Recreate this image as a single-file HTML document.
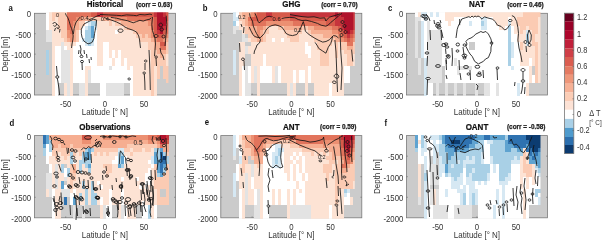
<!DOCTYPE html>
<html><head><meta charset="utf-8"><style>
html,body{margin:0;padding:0;background:#fff;width:602px;height:241px;overflow:hidden}
svg{display:block;font-family:'Liberation Sans',sans-serif;filter:blur(0.3px)}
</style></head><body>
<svg width="602" height="241" viewBox="0 0 602 241" style="font-family:'Liberation Sans',sans-serif">
<rect x="34.4" y="13.3" width="141.0" height="81.7" fill="#cbcbcb" stroke="#7a7a7a" stroke-width="0.8"/>
<line x1="34.4" x2="35.8" y1="33.73" y2="33.73" stroke="#555" stroke-width="0.5"/>
<line x1="175.4" x2="174.0" y1="33.73" y2="33.73" stroke="#555" stroke-width="0.5"/>
<line x1="34.4" x2="35.8" y1="54.15" y2="54.15" stroke="#555" stroke-width="0.5"/>
<line x1="175.4" x2="174.0" y1="54.15" y2="54.15" stroke="#555" stroke-width="0.5"/>
<line x1="34.4" x2="35.8" y1="74.58" y2="74.58" stroke="#555" stroke-width="0.5"/>
<line x1="175.4" x2="174.0" y1="74.58" y2="74.58" stroke="#555" stroke-width="0.5"/>
<line x1="65.73" x2="65.73" y1="95.0" y2="93.6" stroke="#555" stroke-width="0.5"/>
<line x1="65.73" x2="65.73" y1="13.3" y2="14.700000000000001" stroke="#555" stroke-width="0.5"/>
<line x1="104.90" x2="104.90" y1="95.0" y2="93.6" stroke="#555" stroke-width="0.5"/>
<line x1="104.90" x2="104.90" y1="13.3" y2="14.700000000000001" stroke="#555" stroke-width="0.5"/>
<line x1="144.07" x2="144.07" y1="95.0" y2="93.6" stroke="#555" stroke-width="0.5"/>
<line x1="144.07" x2="144.07" y1="13.3" y2="14.700000000000001" stroke="#555" stroke-width="0.5"/>
<clipPath id="cpa"><rect x="34.4" y="12.3" width="134.00" height="83.70"/></clipPath>
<g clip-path="url(#cpa)" shape-rendering="crispEdges">
<rect x="46.40" y="12.30" width="3.00" height="5.08" fill="#ffffff"/>
<rect x="49.40" y="12.30" width="3.00" height="5.08" fill="#fde3d4"/>
<rect x="52.40" y="12.30" width="15.00" height="5.08" fill="#fbcbb3"/>
<rect x="67.40" y="12.30" width="24.00" height="5.08" fill="#e2745c"/>
<rect x="91.40" y="12.30" width="6.00" height="5.08" fill="#d65a4a"/>
<rect x="97.40" y="12.30" width="6.00" height="5.08" fill="#c6343c"/>
<rect x="103.40" y="12.30" width="51.00" height="5.08" fill="#d65a4a"/>
<rect x="154.40" y="12.30" width="3.00" height="5.08" fill="#c6343c"/>
<rect x="157.40" y="12.30" width="6.00" height="5.08" fill="#b0132c"/>
<rect x="163.40" y="12.30" width="3.00" height="5.08" fill="#c6343c"/>
<rect x="166.40" y="12.30" width="3.00" height="5.08" fill="#d65a4a"/>
<rect x="46.40" y="17.39" width="3.00" height="4.08" fill="#ffffff"/>
<rect x="49.40" y="17.39" width="3.00" height="4.08" fill="#fde3d4"/>
<rect x="52.40" y="17.39" width="3.00" height="4.08" fill="#fbcbb3"/>
<rect x="55.40" y="17.39" width="3.00" height="4.08" fill="#fde3d4"/>
<rect x="58.40" y="17.39" width="9.00" height="4.08" fill="#fbcbb3"/>
<rect x="67.40" y="17.39" width="9.00" height="4.08" fill="#e2745c"/>
<rect x="76.40" y="17.39" width="6.00" height="4.08" fill="#ec9072"/>
<rect x="82.40" y="17.39" width="9.00" height="4.08" fill="#f6ae91"/>
<rect x="91.40" y="17.39" width="12.00" height="4.08" fill="#fbcbb3"/>
<rect x="103.40" y="17.39" width="12.00" height="4.08" fill="#f6ae91"/>
<rect x="115.40" y="17.39" width="12.00" height="4.08" fill="#ec9072"/>
<rect x="127.40" y="17.39" width="27.00" height="4.08" fill="#e2745c"/>
<rect x="154.40" y="17.39" width="3.00" height="4.08" fill="#d65a4a"/>
<rect x="157.40" y="17.39" width="9.00" height="4.08" fill="#b0132c"/>
<rect x="166.40" y="17.39" width="3.00" height="4.08" fill="#d65a4a"/>
<rect x="46.40" y="21.47" width="3.00" height="4.08" fill="#ffffff"/>
<rect x="49.40" y="21.47" width="9.00" height="4.08" fill="#fde3d4"/>
<rect x="58.40" y="21.47" width="9.00" height="4.08" fill="#fbcbb3"/>
<rect x="67.40" y="21.47" width="6.00" height="4.08" fill="#e2745c"/>
<rect x="73.40" y="21.47" width="3.00" height="4.08" fill="#ec9072"/>
<rect x="76.40" y="21.47" width="3.00" height="4.08" fill="#f6ae91"/>
<rect x="79.40" y="21.47" width="6.00" height="4.08" fill="#fbcbb3"/>
<rect x="85.40" y="21.47" width="3.00" height="4.08" fill="#ffffff"/>
<rect x="88.40" y="21.47" width="3.00" height="4.08" fill="#d6e8f3"/>
<rect x="91.40" y="21.47" width="6.00" height="4.08" fill="#a9d0e6"/>
<rect x="97.40" y="21.47" width="12.00" height="4.08" fill="#fde3d4"/>
<rect x="109.40" y="21.47" width="3.00" height="4.08" fill="#fbcbb3"/>
<rect x="112.40" y="21.47" width="3.00" height="4.08" fill="#fde3d4"/>
<rect x="115.40" y="21.47" width="6.00" height="4.08" fill="#fbcbb3"/>
<rect x="121.40" y="21.47" width="27.00" height="4.08" fill="#f6ae91"/>
<rect x="148.40" y="21.47" width="3.00" height="4.08" fill="#ec9072"/>
<rect x="151.40" y="21.47" width="3.00" height="4.08" fill="#e2745c"/>
<rect x="154.40" y="21.47" width="3.00" height="4.08" fill="#d65a4a"/>
<rect x="157.40" y="21.47" width="9.00" height="4.08" fill="#b0132c"/>
<rect x="166.40" y="21.47" width="3.00" height="4.08" fill="#e2745c"/>
<rect x="46.40" y="25.55" width="3.00" height="4.08" fill="#ffffff"/>
<rect x="49.40" y="25.55" width="9.00" height="4.08" fill="#fde3d4"/>
<rect x="58.40" y="25.55" width="9.00" height="4.08" fill="#fbcbb3"/>
<rect x="67.40" y="25.55" width="6.00" height="4.08" fill="#e2745c"/>
<rect x="73.40" y="25.55" width="6.00" height="4.08" fill="#f6ae91"/>
<rect x="79.40" y="25.55" width="3.00" height="4.08" fill="#fbcbb3"/>
<rect x="82.40" y="25.55" width="3.00" height="4.08" fill="#ffffff"/>
<rect x="85.40" y="25.55" width="3.00" height="4.08" fill="#d6e8f3"/>
<rect x="88.40" y="25.55" width="3.00" height="4.08" fill="#a9d0e6"/>
<rect x="91.40" y="25.55" width="3.00" height="4.08" fill="#5fa3d0"/>
<rect x="94.40" y="25.55" width="3.00" height="4.08" fill="#d6e8f3"/>
<rect x="97.40" y="25.55" width="27.00" height="4.08" fill="#fde3d4"/>
<rect x="124.40" y="25.55" width="3.00" height="4.08" fill="#fbcbb3"/>
<rect x="127.40" y="25.55" width="24.00" height="4.08" fill="#f6ae91"/>
<rect x="151.40" y="25.55" width="3.00" height="4.08" fill="#e2745c"/>
<rect x="154.40" y="25.55" width="3.00" height="4.08" fill="#d65a4a"/>
<rect x="157.40" y="25.55" width="6.00" height="4.08" fill="#b0132c"/>
<rect x="163.40" y="25.55" width="3.00" height="4.08" fill="#c6343c"/>
<rect x="166.40" y="25.55" width="3.00" height="4.08" fill="#e2745c"/>
<rect x="46.40" y="29.64" width="6.00" height="4.08" fill="#e3e3e3"/>
<rect x="52.40" y="29.64" width="9.00" height="4.08" fill="#fde3d4"/>
<rect x="61.40" y="29.64" width="6.00" height="4.08" fill="#fbcbb3"/>
<rect x="67.40" y="29.64" width="3.00" height="4.08" fill="#ec9072"/>
<rect x="70.40" y="29.64" width="3.00" height="4.08" fill="#e2745c"/>
<rect x="73.40" y="29.64" width="3.00" height="4.08" fill="#f6ae91"/>
<rect x="76.40" y="29.64" width="3.00" height="4.08" fill="#fbcbb3"/>
<rect x="79.40" y="29.64" width="6.00" height="4.08" fill="#ffffff"/>
<rect x="85.40" y="29.64" width="6.00" height="4.08" fill="#a9d0e6"/>
<rect x="91.40" y="29.64" width="3.00" height="4.08" fill="#5fa3d0"/>
<rect x="94.40" y="29.64" width="3.00" height="4.08" fill="#ffffff"/>
<rect x="97.40" y="29.64" width="18.00" height="4.08" fill="#fde3d4"/>
<rect x="115.40" y="29.64" width="3.00" height="4.08" fill="#ffffff"/>
<rect x="118.40" y="29.64" width="15.00" height="4.08" fill="#fde3d4"/>
<rect x="133.40" y="29.64" width="3.00" height="4.08" fill="#fbcbb3"/>
<rect x="136.40" y="29.64" width="15.00" height="4.08" fill="#f6ae91"/>
<rect x="151.40" y="29.64" width="3.00" height="4.08" fill="#ec9072"/>
<rect x="154.40" y="29.64" width="3.00" height="4.08" fill="#d65a4a"/>
<rect x="157.40" y="29.64" width="3.00" height="4.08" fill="#c6343c"/>
<rect x="160.40" y="29.64" width="3.00" height="4.08" fill="#b0132c"/>
<rect x="163.40" y="29.64" width="3.00" height="4.08" fill="#d65a4a"/>
<rect x="166.40" y="29.64" width="3.00" height="4.08" fill="#e2745c"/>
<rect x="46.40" y="33.73" width="6.00" height="4.08" fill="#e3e3e3"/>
<rect x="52.40" y="33.73" width="9.00" height="4.08" fill="#fde3d4"/>
<rect x="61.40" y="33.73" width="6.00" height="4.08" fill="#fbcbb3"/>
<rect x="67.40" y="33.73" width="6.00" height="4.08" fill="#ec9072"/>
<rect x="73.40" y="33.73" width="3.00" height="4.08" fill="#f6ae91"/>
<rect x="76.40" y="33.73" width="3.00" height="4.08" fill="#fbcbb3"/>
<rect x="79.40" y="33.73" width="6.00" height="4.08" fill="#ffffff"/>
<rect x="85.40" y="33.73" width="6.00" height="4.08" fill="#a9d0e6"/>
<rect x="91.40" y="33.73" width="3.00" height="4.08" fill="#5fa3d0"/>
<rect x="94.40" y="33.73" width="3.00" height="4.08" fill="#ffffff"/>
<rect x="97.40" y="33.73" width="39.00" height="4.08" fill="#fde3d4"/>
<rect x="136.40" y="33.73" width="6.00" height="4.08" fill="#fbcbb3"/>
<rect x="142.40" y="33.73" width="3.00" height="4.08" fill="#f6ae91"/>
<rect x="145.40" y="33.73" width="3.00" height="4.08" fill="#fbcbb3"/>
<rect x="148.40" y="33.73" width="3.00" height="4.08" fill="#f6ae91"/>
<rect x="151.40" y="33.73" width="3.00" height="4.08" fill="#ec9072"/>
<rect x="154.40" y="33.73" width="3.00" height="4.08" fill="#e2745c"/>
<rect x="157.40" y="33.73" width="6.00" height="4.08" fill="#d65a4a"/>
<rect x="163.40" y="33.73" width="3.00" height="4.08" fill="#e2745c"/>
<rect x="166.40" y="33.73" width="3.00" height="4.08" fill="#ec9072"/>
<rect x="46.40" y="37.81" width="6.00" height="4.08" fill="#e3e3e3"/>
<rect x="52.40" y="37.81" width="12.00" height="4.08" fill="#fde3d4"/>
<rect x="64.40" y="37.81" width="3.00" height="4.08" fill="#fbcbb3"/>
<rect x="67.40" y="37.81" width="3.00" height="4.08" fill="#f6ae91"/>
<rect x="70.40" y="37.81" width="3.00" height="4.08" fill="#ec9072"/>
<rect x="73.40" y="37.81" width="3.00" height="4.08" fill="#f6ae91"/>
<rect x="76.40" y="37.81" width="3.00" height="4.08" fill="#fbcbb3"/>
<rect x="79.40" y="37.81" width="3.00" height="4.08" fill="#ffffff"/>
<rect x="82.40" y="37.81" width="3.00" height="4.08" fill="#d6e8f3"/>
<rect x="85.40" y="37.81" width="9.00" height="4.08" fill="#a9d0e6"/>
<rect x="94.40" y="37.81" width="3.00" height="4.08" fill="#ffffff"/>
<rect x="97.40" y="37.81" width="42.00" height="4.08" fill="#fde3d4"/>
<rect x="139.40" y="37.81" width="12.00" height="4.08" fill="#fbcbb3"/>
<rect x="151.40" y="37.81" width="3.00" height="4.08" fill="#f6ae91"/>
<rect x="154.40" y="37.81" width="3.00" height="4.08" fill="#ec9072"/>
<rect x="157.40" y="37.81" width="6.00" height="4.08" fill="#e2745c"/>
<rect x="163.40" y="37.81" width="3.00" height="4.08" fill="#ec9072"/>
<rect x="166.40" y="37.81" width="3.00" height="4.08" fill="#f6ae91"/>
<rect x="52.40" y="41.89" width="9.00" height="4.08" fill="#fde3d4"/>
<rect x="61.40" y="41.89" width="3.00" height="4.08" fill="#e3e3e3"/>
<rect x="64.40" y="41.89" width="6.00" height="4.08" fill="#fde3d4"/>
<rect x="70.40" y="41.89" width="3.00" height="4.08" fill="#fbcbb3"/>
<rect x="73.40" y="41.89" width="3.00" height="4.08" fill="#fde3d4"/>
<rect x="76.40" y="41.89" width="9.00" height="4.08" fill="#ffffff"/>
<rect x="85.40" y="41.89" width="3.00" height="4.08" fill="#d6e8f3"/>
<rect x="88.40" y="41.89" width="3.00" height="4.08" fill="#a9d0e6"/>
<rect x="91.40" y="41.89" width="3.00" height="4.08" fill="#d6e8f3"/>
<rect x="94.40" y="41.89" width="3.00" height="4.08" fill="#ffffff"/>
<rect x="97.40" y="41.89" width="6.00" height="4.08" fill="#fde3d4"/>
<rect x="103.40" y="41.89" width="6.00" height="4.08" fill="#ffffff"/>
<rect x="109.40" y="41.89" width="39.00" height="4.08" fill="#fde3d4"/>
<rect x="148.40" y="41.89" width="6.00" height="4.08" fill="#fbcbb3"/>
<rect x="154.40" y="41.89" width="6.00" height="4.08" fill="#f6ae91"/>
<rect x="160.40" y="41.89" width="6.00" height="4.08" fill="#d65a4a"/>
<rect x="166.40" y="41.89" width="3.00" height="4.08" fill="#fbcbb3"/>
<rect x="52.40" y="45.98" width="3.00" height="4.08" fill="#fde3d4"/>
<rect x="55.40" y="45.98" width="6.00" height="4.08" fill="#ffffff"/>
<rect x="61.40" y="45.98" width="3.00" height="4.08" fill="#e3e3e3"/>
<rect x="64.40" y="45.98" width="3.00" height="4.08" fill="#ffffff"/>
<rect x="67.40" y="45.98" width="6.00" height="4.08" fill="#fde3d4"/>
<rect x="73.40" y="45.98" width="24.00" height="4.08" fill="#ffffff"/>
<rect x="97.40" y="45.98" width="6.00" height="4.08" fill="#fde3d4"/>
<rect x="103.40" y="45.98" width="6.00" height="4.08" fill="#ffffff"/>
<rect x="109.40" y="45.98" width="39.00" height="4.08" fill="#fde3d4"/>
<rect x="148.40" y="45.98" width="6.00" height="4.08" fill="#fbcbb3"/>
<rect x="154.40" y="45.98" width="6.00" height="4.08" fill="#f6ae91"/>
<rect x="160.40" y="45.98" width="6.00" height="4.08" fill="#e2745c"/>
<rect x="166.40" y="45.98" width="3.00" height="4.08" fill="#fbcbb3"/>
<rect x="46.40" y="50.06" width="3.00" height="4.08" fill="#a9d0e6"/>
<rect x="52.40" y="50.06" width="3.00" height="4.08" fill="#fde3d4"/>
<rect x="55.40" y="50.06" width="6.00" height="4.08" fill="#ffffff"/>
<rect x="61.40" y="50.06" width="9.00" height="4.08" fill="#e3e3e3"/>
<rect x="70.40" y="50.06" width="3.00" height="4.08" fill="#fde3d4"/>
<rect x="73.40" y="50.06" width="24.00" height="4.08" fill="#ffffff"/>
<rect x="97.40" y="50.06" width="6.00" height="4.08" fill="#fde3d4"/>
<rect x="103.40" y="50.06" width="6.00" height="4.08" fill="#ffffff"/>
<rect x="109.40" y="50.06" width="3.00" height="4.08" fill="#fde3d4"/>
<rect x="112.40" y="50.06" width="3.00" height="4.08" fill="#ffffff"/>
<rect x="115.40" y="50.06" width="3.00" height="4.08" fill="#fde3d4"/>
<rect x="118.40" y="50.06" width="3.00" height="4.08" fill="#ffffff"/>
<rect x="121.40" y="50.06" width="30.00" height="4.08" fill="#fde3d4"/>
<rect x="151.40" y="50.06" width="6.00" height="4.08" fill="#fbcbb3"/>
<rect x="157.40" y="50.06" width="9.00" height="4.08" fill="#f6ae91"/>
<rect x="166.40" y="50.06" width="3.00" height="4.08" fill="#fbcbb3"/>
<rect x="46.40" y="54.15" width="3.00" height="4.08" fill="#a9d0e6"/>
<rect x="52.40" y="54.15" width="3.00" height="4.08" fill="#fde3d4"/>
<rect x="55.40" y="54.15" width="6.00" height="4.08" fill="#ffffff"/>
<rect x="61.40" y="54.15" width="9.00" height="4.08" fill="#e3e3e3"/>
<rect x="70.40" y="54.15" width="3.00" height="4.08" fill="#fde3d4"/>
<rect x="73.40" y="54.15" width="24.00" height="4.08" fill="#ffffff"/>
<rect x="97.40" y="54.15" width="6.00" height="4.08" fill="#fde3d4"/>
<rect x="103.40" y="54.15" width="6.00" height="4.08" fill="#ffffff"/>
<rect x="109.40" y="54.15" width="3.00" height="4.08" fill="#fde3d4"/>
<rect x="112.40" y="54.15" width="3.00" height="4.08" fill="#ffffff"/>
<rect x="115.40" y="54.15" width="3.00" height="4.08" fill="#fde3d4"/>
<rect x="118.40" y="54.15" width="3.00" height="4.08" fill="#ffffff"/>
<rect x="121.40" y="54.15" width="30.00" height="4.08" fill="#fde3d4"/>
<rect x="151.40" y="54.15" width="9.00" height="4.08" fill="#fbcbb3"/>
<rect x="160.40" y="54.15" width="3.00" height="4.08" fill="#f6ae91"/>
<rect x="163.40" y="54.15" width="3.00" height="4.08" fill="#fbcbb3"/>
<rect x="166.40" y="54.15" width="3.00" height="4.08" fill="#fde3d4"/>
<rect x="46.40" y="58.23" width="3.00" height="4.08" fill="#a9d0e6"/>
<rect x="52.40" y="58.23" width="3.00" height="4.08" fill="#fde3d4"/>
<rect x="55.40" y="58.23" width="6.00" height="4.08" fill="#ffffff"/>
<rect x="61.40" y="58.23" width="9.00" height="4.08" fill="#e3e3e3"/>
<rect x="70.40" y="58.23" width="3.00" height="4.08" fill="#fde3d4"/>
<rect x="73.40" y="58.23" width="24.00" height="4.08" fill="#ffffff"/>
<rect x="97.40" y="58.23" width="6.00" height="4.08" fill="#fde3d4"/>
<rect x="103.40" y="58.23" width="9.00" height="4.08" fill="#ffffff"/>
<rect x="112.40" y="58.23" width="3.00" height="4.08" fill="#fde3d4"/>
<rect x="115.40" y="58.23" width="6.00" height="4.08" fill="#ffffff"/>
<rect x="121.40" y="58.23" width="3.00" height="4.08" fill="#fde3d4"/>
<rect x="124.40" y="58.23" width="3.00" height="4.08" fill="#ffffff"/>
<rect x="127.40" y="58.23" width="24.00" height="4.08" fill="#fde3d4"/>
<rect x="151.40" y="58.23" width="15.00" height="4.08" fill="#fbcbb3"/>
<rect x="166.40" y="58.23" width="3.00" height="4.08" fill="#fde3d4"/>
<rect x="46.40" y="62.32" width="3.00" height="4.08" fill="#a9d0e6"/>
<rect x="52.40" y="62.32" width="3.00" height="4.08" fill="#fde3d4"/>
<rect x="55.40" y="62.32" width="6.00" height="4.08" fill="#ffffff"/>
<rect x="61.40" y="62.32" width="9.00" height="4.08" fill="#e3e3e3"/>
<rect x="70.40" y="62.32" width="3.00" height="4.08" fill="#fde3d4"/>
<rect x="73.40" y="62.32" width="24.00" height="4.08" fill="#ffffff"/>
<rect x="97.40" y="62.32" width="6.00" height="4.08" fill="#fde3d4"/>
<rect x="103.40" y="62.32" width="9.00" height="4.08" fill="#ffffff"/>
<rect x="112.40" y="62.32" width="3.00" height="4.08" fill="#fde3d4"/>
<rect x="115.40" y="62.32" width="6.00" height="4.08" fill="#ffffff"/>
<rect x="121.40" y="62.32" width="3.00" height="4.08" fill="#fde3d4"/>
<rect x="124.40" y="62.32" width="3.00" height="4.08" fill="#ffffff"/>
<rect x="127.40" y="62.32" width="24.00" height="4.08" fill="#fde3d4"/>
<rect x="151.40" y="62.32" width="15.00" height="4.08" fill="#fbcbb3"/>
<rect x="166.40" y="62.32" width="3.00" height="4.08" fill="#fde3d4"/>
<rect x="46.40" y="66.41" width="3.00" height="4.08" fill="#a9d0e6"/>
<rect x="52.40" y="66.41" width="3.00" height="4.08" fill="#fde3d4"/>
<rect x="55.40" y="66.41" width="6.00" height="4.08" fill="#ffffff"/>
<rect x="61.40" y="66.41" width="9.00" height="4.08" fill="#e3e3e3"/>
<rect x="70.40" y="66.41" width="3.00" height="4.08" fill="#fde3d4"/>
<rect x="73.40" y="66.41" width="12.00" height="4.08" fill="#ffffff"/>
<rect x="85.40" y="66.41" width="6.00" height="4.08" fill="#fde3d4"/>
<rect x="91.40" y="66.41" width="18.00" height="4.08" fill="#ffffff"/>
<rect x="109.40" y="66.41" width="3.00" height="4.08" fill="#e3e3e3"/>
<rect x="112.40" y="66.41" width="15.00" height="4.08" fill="#ffffff"/>
<rect x="127.40" y="66.41" width="3.00" height="4.08" fill="#fde3d4"/>
<rect x="130.40" y="66.41" width="3.00" height="4.08" fill="#ffffff"/>
<rect x="133.40" y="66.41" width="18.00" height="4.08" fill="#fde3d4"/>
<rect x="151.40" y="66.41" width="3.00" height="4.08" fill="#fbcbb3"/>
<rect x="154.40" y="66.41" width="3.00" height="4.08" fill="#fde3d4"/>
<rect x="157.40" y="66.41" width="3.00" height="4.08" fill="#fbcbb3"/>
<rect x="163.40" y="66.41" width="6.00" height="4.08" fill="#fbcbb3"/>
<rect x="46.40" y="70.49" width="3.00" height="4.08" fill="#a9d0e6"/>
<rect x="52.40" y="70.49" width="3.00" height="4.08" fill="#fde3d4"/>
<rect x="55.40" y="70.49" width="6.00" height="4.08" fill="#ffffff"/>
<rect x="61.40" y="70.49" width="9.00" height="4.08" fill="#e3e3e3"/>
<rect x="70.40" y="70.49" width="3.00" height="4.08" fill="#fde3d4"/>
<rect x="73.40" y="70.49" width="12.00" height="4.08" fill="#ffffff"/>
<rect x="85.40" y="70.49" width="3.00" height="4.08" fill="#fde3d4"/>
<rect x="88.40" y="70.49" width="3.00" height="4.08" fill="#e3e3e3"/>
<rect x="91.40" y="70.49" width="42.00" height="4.08" fill="#ffffff"/>
<rect x="133.40" y="70.49" width="18.00" height="4.08" fill="#fde3d4"/>
<rect x="151.40" y="70.49" width="3.00" height="4.08" fill="#fbcbb3"/>
<rect x="154.40" y="70.49" width="3.00" height="4.08" fill="#fde3d4"/>
<rect x="157.40" y="70.49" width="3.00" height="4.08" fill="#fbcbb3"/>
<rect x="163.40" y="70.49" width="6.00" height="4.08" fill="#fbcbb3"/>
<rect x="52.40" y="74.58" width="3.00" height="4.08" fill="#fde3d4"/>
<rect x="55.40" y="74.58" width="6.00" height="4.08" fill="#ffffff"/>
<rect x="61.40" y="74.58" width="9.00" height="4.08" fill="#e3e3e3"/>
<rect x="70.40" y="74.58" width="3.00" height="4.08" fill="#fde3d4"/>
<rect x="73.40" y="74.58" width="12.00" height="4.08" fill="#ffffff"/>
<rect x="85.40" y="74.58" width="3.00" height="4.08" fill="#fde3d4"/>
<rect x="88.40" y="74.58" width="3.00" height="4.08" fill="#e3e3e3"/>
<rect x="91.40" y="74.58" width="42.00" height="4.08" fill="#ffffff"/>
<rect x="133.40" y="74.58" width="18.00" height="4.08" fill="#fde3d4"/>
<rect x="151.40" y="74.58" width="3.00" height="4.08" fill="#fbcbb3"/>
<rect x="154.40" y="74.58" width="3.00" height="4.08" fill="#fde3d4"/>
<rect x="157.40" y="74.58" width="3.00" height="4.08" fill="#fbcbb3"/>
<rect x="163.40" y="74.58" width="6.00" height="4.08" fill="#fbcbb3"/>
<rect x="52.40" y="78.66" width="3.00" height="4.08" fill="#fde3d4"/>
<rect x="55.40" y="78.66" width="6.00" height="4.08" fill="#ffffff"/>
<rect x="61.40" y="78.66" width="9.00" height="4.08" fill="#e3e3e3"/>
<rect x="70.40" y="78.66" width="3.00" height="4.08" fill="#fde3d4"/>
<rect x="73.40" y="78.66" width="12.00" height="4.08" fill="#ffffff"/>
<rect x="85.40" y="78.66" width="3.00" height="4.08" fill="#fde3d4"/>
<rect x="88.40" y="78.66" width="3.00" height="4.08" fill="#e3e3e3"/>
<rect x="91.40" y="78.66" width="42.00" height="4.08" fill="#ffffff"/>
<rect x="133.40" y="78.66" width="18.00" height="4.08" fill="#fde3d4"/>
<rect x="151.40" y="78.66" width="3.00" height="4.08" fill="#fbcbb3"/>
<rect x="154.40" y="78.66" width="3.00" height="4.08" fill="#fde3d4"/>
<rect x="166.40" y="78.66" width="3.00" height="4.08" fill="#fbcbb3"/>
<rect x="52.40" y="82.74" width="3.00" height="4.08" fill="#fde3d4"/>
<rect x="55.40" y="82.74" width="3.00" height="4.08" fill="#ffffff"/>
<rect x="64.40" y="82.74" width="3.00" height="4.08" fill="#fde3d4"/>
<rect x="67.40" y="82.74" width="3.00" height="4.08" fill="#e3e3e3"/>
<rect x="70.40" y="82.74" width="3.00" height="4.08" fill="#fde3d4"/>
<rect x="79.40" y="82.74" width="6.00" height="4.08" fill="#e3e3e3"/>
<rect x="85.40" y="82.74" width="3.00" height="4.08" fill="#fde3d4"/>
<rect x="100.40" y="82.74" width="6.00" height="4.08" fill="#ffffff"/>
<rect x="106.40" y="82.74" width="18.00" height="4.08" fill="#e3e3e3"/>
<rect x="130.40" y="82.74" width="3.00" height="4.08" fill="#ffffff"/>
<rect x="133.40" y="82.74" width="18.00" height="4.08" fill="#fde3d4"/>
<rect x="151.40" y="82.74" width="3.00" height="4.08" fill="#fbcbb3"/>
<rect x="154.40" y="82.74" width="3.00" height="4.08" fill="#fde3d4"/>
<rect x="52.40" y="86.83" width="3.00" height="4.08" fill="#fde3d4"/>
<rect x="55.40" y="86.83" width="3.00" height="4.08" fill="#ffffff"/>
<rect x="64.40" y="86.83" width="3.00" height="4.08" fill="#fde3d4"/>
<rect x="67.40" y="86.83" width="3.00" height="4.08" fill="#e3e3e3"/>
<rect x="70.40" y="86.83" width="3.00" height="4.08" fill="#fde3d4"/>
<rect x="79.40" y="86.83" width="6.00" height="4.08" fill="#e3e3e3"/>
<rect x="85.40" y="86.83" width="3.00" height="4.08" fill="#fde3d4"/>
<rect x="100.40" y="86.83" width="6.00" height="4.08" fill="#ffffff"/>
<rect x="106.40" y="86.83" width="18.00" height="4.08" fill="#e3e3e3"/>
<rect x="130.40" y="86.83" width="3.00" height="4.08" fill="#ffffff"/>
<rect x="133.40" y="86.83" width="18.00" height="4.08" fill="#fde3d4"/>
<rect x="151.40" y="86.83" width="3.00" height="4.08" fill="#fbcbb3"/>
<rect x="154.40" y="86.83" width="3.00" height="4.08" fill="#fde3d4"/>
<rect x="52.40" y="90.91" width="3.00" height="5.08" fill="#fde3d4"/>
<rect x="55.40" y="90.91" width="3.00" height="5.08" fill="#ffffff"/>
<rect x="64.40" y="90.91" width="3.00" height="5.08" fill="#fde3d4"/>
<rect x="67.40" y="90.91" width="3.00" height="5.08" fill="#e3e3e3"/>
<rect x="70.40" y="90.91" width="3.00" height="5.08" fill="#fde3d4"/>
<rect x="79.40" y="90.91" width="6.00" height="5.08" fill="#e3e3e3"/>
<rect x="85.40" y="90.91" width="3.00" height="5.08" fill="#fde3d4"/>
<rect x="100.40" y="90.91" width="6.00" height="5.08" fill="#ffffff"/>
<rect x="106.40" y="90.91" width="18.00" height="5.08" fill="#e3e3e3"/>
<rect x="130.40" y="90.91" width="3.00" height="5.08" fill="#ffffff"/>
<rect x="133.40" y="90.91" width="18.00" height="5.08" fill="#fde3d4"/>
<rect x="151.40" y="90.91" width="3.00" height="5.08" fill="#fbcbb3"/>
<rect x="154.40" y="90.91" width="3.00" height="5.08" fill="#fde3d4"/>
</g>
<path d="M65.4,13.3 L66.2,15.3 L67.9,17.8 L69.1,21.1 L70.3,25.3 L71.6,28.6 L72.6,32 L73.2,36 L72.8,40 L72,44 L71.5,48" fill="none" stroke="#141414" stroke-width="0.85" stroke-linejoin="round"/>
<path d="M73.4,34 L74.1,28.6 L74.9,25.3 L76.2,22 L78.2,19.5 L80,17.2" fill="none" stroke="#141414" stroke-width="0.85" stroke-linejoin="round"/>
<path d="M88.5,20 L92,18.6 L95,17 L97.5,15.8 L100,15.3" fill="none" stroke="#141414" stroke-width="0.85" stroke-linejoin="round"/>
<path d="M81.3,29.3 L84,24 L89.3,21.3 L93.3,19.3 L96.6,20 L95.9,26.6 L94.6,33.3 L93.9,38.6 L91.9,42.6 L88,43.9 L84,41.2 L82,37.2 L81.3,33.3 Z" fill="none" stroke="#141414" stroke-width="0.85" stroke-linejoin="round"/>
<path d="M53,24 C53,22 56,22 56.5,24 C57,26 54,27 53.5,25.5 M56.5,24 C58,25 60,26 59,28 C58,29.5 56.5,28.5 57,27" fill="none" stroke="#141414" stroke-width="0.85" stroke-linejoin="round"/>
<path d="M55.5,28 L54.5,31" fill="none" stroke="#141414" stroke-width="0.85" stroke-linejoin="round"/>
<path d="M60,29 L59.5,32.5" fill="none" stroke="#141414" stroke-width="0.85" stroke-linejoin="round"/>
<path d="M100,14.5 L108.3,14.9 L116.6,15.3 L121.6,15.7 L126.6,14.9 L133.2,15.3 L136.5,15.7 L139.9,14.5 L144.9,14.9 L150,14.1 L152,14.8" fill="none" stroke="#141414" stroke-width="0.85" stroke-linejoin="round"/>
<path d="M110.8,17.4 L116.6,18.2 L121.6,19.5 L127.4,20.7 L133.2,22.8 L136.5,21.6 L139.9,20.3 L143.2,21.1 L146.5,19.9 L150,19.1 L151.2,17.6" fill="none" stroke="#141414" stroke-width="0.85" stroke-linejoin="round"/>
<path d="M104,17.5 L110.8,19.9 L116.6,22 L121.6,24.5 L124.9,27 L128.2,28.6 L133.2,30.3 L136.5,32 L138.7,35.9 L139.6,40 L140,44 L140.5,48" fill="none" stroke="#141414" stroke-width="0.85" stroke-linejoin="round"/>
<path d="M118,30.5 C118,28.5 123,28.5 123,30.5 C123,33 118,33 118,30.5 Z" fill="none" stroke="#141414" stroke-width="0.85" stroke-linejoin="round"/>
<path d="M152.5,17 L151.8,24.5 L152.5,30.7 L153.7,34.4 L155,38.2 L155.5,44 L155,50 L154.5,56" fill="none" stroke="#141414" stroke-width="0.85" stroke-linejoin="round"/>
<path d="M166.2,15.7 L166.8,24.5 L166.2,33.2 L165.5,40.6 L165,46" fill="none" stroke="#141414" stroke-width="0.85" stroke-linejoin="round"/>
<path d="M159,25 C159,22.5 162.5,22.5 162.5,25 C162.5,27.5 159,27.5 159,25 Z" fill="none" stroke="#141414" stroke-width="0.85" stroke-linejoin="round"/>
<path d="M160,29.5 C160,27.5 163.5,27.5 163.5,29.5 C163.5,31.5 160,31.5 160,29.5 Z" fill="none" stroke="#141414" stroke-width="0.85" stroke-linejoin="round"/>
<path d="M154,36 C154,34 158,34 158,36 C158,38 154,38 154,36 Z" fill="none" stroke="#141414" stroke-width="0.85" stroke-linejoin="round"/>
<path d="M162,36.5 C162,34.5 165,34.5 165,36.5 C165,38.5 162,38.5 162,36.5 Z" fill="none" stroke="#141414" stroke-width="0.85" stroke-linejoin="round"/>
<path d="M56.5,66 L57,72 L57.3,75.8 M57.3,78.2 L58,82 L59,89 L59.6,95" fill="none" stroke="#141414" stroke-width="0.85" stroke-linejoin="round"/>
<ellipse cx="57.3" cy="77.0" rx="1.6" ry="1.2" fill="none" stroke="#141414" stroke-width="0.85"/>
<path d="M80,45 L81,49 L80.5,53 L81.5,55" fill="none" stroke="#141414" stroke-width="0.85" stroke-linejoin="round"/>
<ellipse cx="81.5" cy="56.5" rx="1.5" ry="1.1" fill="none" stroke="#141414" stroke-width="0.85"/>
<ellipse cx="82.0" cy="61.5" rx="1.5" ry="1.1" fill="none" stroke="#141414" stroke-width="0.85"/>
<path d="M82,62.6 L82.3,70" fill="none" stroke="#141414" stroke-width="0.85" stroke-linejoin="round"/>
<path d="M79,50 L78.5,54" fill="none" stroke="#141414" stroke-width="0.85" stroke-linejoin="round"/>
<path d="M84,50 L84.5,54" fill="none" stroke="#141414" stroke-width="0.85" stroke-linejoin="round"/>
<path d="M86.5,54 L87,58" fill="none" stroke="#141414" stroke-width="0.85" stroke-linejoin="round"/>
<path d="M89,59 L89.5,63" fill="none" stroke="#141414" stroke-width="0.85" stroke-linejoin="round"/>
<path d="M91,57 L91.3,60" fill="none" stroke="#141414" stroke-width="0.85" stroke-linejoin="round"/>
<path d="M129,78 C127.5,78 127.5,80 129.2,80 C131,80 131,78 129,78 Z" fill="none" stroke="#141414" stroke-width="0.85" stroke-linejoin="round"/>
<path d="M145.5,60 C144,60 144,62 145.7,62 C147.5,62 147.5,60 145.5,60 Z" fill="none" stroke="#141414" stroke-width="0.85" stroke-linejoin="round"/>
<path d="M145,63 L145,70 M144,72 C142.5,72 142.5,74 144.2,74 C146,74 146,72 144,72 Z" fill="none" stroke="#141414" stroke-width="0.85" stroke-linejoin="round"/>
<path d="M144.3,74 L144.8,82 L145,90" fill="none" stroke="#141414" stroke-width="0.85" stroke-linejoin="round"/>
<path d="M149,50 L149.5,60 L150,75 L150.3,90" fill="none" stroke="#141414" stroke-width="0.85" stroke-linejoin="round"/>
<path d="M156,56 C154.5,56 154.5,58 156.2,58 C158,58 158,56 156,56 Z" fill="none" stroke="#141414" stroke-width="0.85" stroke-linejoin="round"/>
<path d="M156,58 L156.5,66" fill="none" stroke="#141414" stroke-width="0.85" stroke-linejoin="round"/>
<path d="M160,48 L161,53 L163,56 L164,60" fill="none" stroke="#141414" stroke-width="0.85" stroke-linejoin="round"/>
<text x="80.6" y="20.2" font-size="5.8" fill="#1a1a1a">0.4</text>
<text x="100.8" y="20.8" font-size="5.8" fill="#1a1a1a">0.4</text>
<text x="56" y="16.5" font-size="5.5" fill="#1a1a1a">0</text>
<text transform="translate(31.2,17.20) scale(1,1.12)" font-size="7.8" text-anchor="end" fill="#333">0</text>
<text transform="translate(31.2,37.62) scale(1,1.12)" font-size="7.8" text-anchor="end" fill="#333">-500</text>
<text transform="translate(31.2,58.05) scale(1,1.12)" font-size="7.8" text-anchor="end" fill="#333">-1000</text>
<text transform="translate(31.2,78.48) scale(1,1.12)" font-size="7.8" text-anchor="end" fill="#333">-1500</text>
<text transform="translate(31.2,98.90) scale(1,1.12)" font-size="7.8" text-anchor="end" fill="#333">-2000</text>
<text transform="translate(65.73,106.90) scale(1,1.12)" font-size="7.8" text-anchor="middle" fill="#333">-50</text>
<text transform="translate(104.90,106.90) scale(1,1.12)" font-size="7.8" text-anchor="middle" fill="#333">0</text>
<text transform="translate(144.07,106.90) scale(1,1.12)" font-size="7.8" text-anchor="middle" fill="#333">50</text>
<text transform="translate(104.90,115.00) scale(1,1.12)" font-size="8" text-anchor="middle" fill="#333">Latitude [° N]</text>
<text transform="translate(7.80,54.15) rotate(-90) scale(1,1.12)" font-size="8" text-anchor="middle" fill="#333">Depth [m]</text>
<text transform="translate(104.90,7.20) scale(1,1.12)" font-size="8" font-weight="bold" text-anchor="middle" fill="#111" stroke="#111" stroke-width="0.2">Historical</text>
<text x="172.30" y="7.00" font-size="6.4" font-weight="bold" text-anchor="end" fill="#222" stroke="#222" stroke-width="0.25">(corr = 0.63)</text>
<text transform="translate(8.5,11.4) scale(1,1.12)" font-size="7.8" font-weight="bold" fill="#111">a</text>
<rect x="220.8" y="13.3" width="141.0" height="81.7" fill="#cbcbcb" stroke="#7a7a7a" stroke-width="0.8"/>
<line x1="220.8" x2="222.20000000000002" y1="33.73" y2="33.73" stroke="#555" stroke-width="0.5"/>
<line x1="361.8" x2="360.40000000000003" y1="33.73" y2="33.73" stroke="#555" stroke-width="0.5"/>
<line x1="220.8" x2="222.20000000000002" y1="54.15" y2="54.15" stroke="#555" stroke-width="0.5"/>
<line x1="361.8" x2="360.40000000000003" y1="54.15" y2="54.15" stroke="#555" stroke-width="0.5"/>
<line x1="220.8" x2="222.20000000000002" y1="74.58" y2="74.58" stroke="#555" stroke-width="0.5"/>
<line x1="361.8" x2="360.40000000000003" y1="74.58" y2="74.58" stroke="#555" stroke-width="0.5"/>
<line x1="252.13" x2="252.13" y1="95.0" y2="93.6" stroke="#555" stroke-width="0.5"/>
<line x1="252.13" x2="252.13" y1="13.3" y2="14.700000000000001" stroke="#555" stroke-width="0.5"/>
<line x1="291.30" x2="291.30" y1="95.0" y2="93.6" stroke="#555" stroke-width="0.5"/>
<line x1="291.30" x2="291.30" y1="13.3" y2="14.700000000000001" stroke="#555" stroke-width="0.5"/>
<line x1="330.47" x2="330.47" y1="95.0" y2="93.6" stroke="#555" stroke-width="0.5"/>
<line x1="330.47" x2="330.47" y1="13.3" y2="14.700000000000001" stroke="#555" stroke-width="0.5"/>
<clipPath id="cpb"><rect x="220.8" y="12.3" width="134.00" height="83.70"/></clipPath>
<g clip-path="url(#cpb)" shape-rendering="crispEdges">
<rect x="232.80" y="12.30" width="3.00" height="5.08" fill="#d6e8f3"/>
<rect x="235.80" y="12.30" width="3.00" height="5.08" fill="#ffffff"/>
<rect x="238.80" y="12.30" width="3.00" height="5.08" fill="#fbcbb3"/>
<rect x="241.80" y="12.30" width="9.00" height="5.08" fill="#f6ae91"/>
<rect x="250.80" y="12.30" width="3.00" height="5.08" fill="#ec9072"/>
<rect x="253.80" y="12.30" width="3.00" height="5.08" fill="#e2745c"/>
<rect x="256.80" y="12.30" width="9.00" height="5.08" fill="#d65a4a"/>
<rect x="265.80" y="12.30" width="6.00" height="5.08" fill="#c6343c"/>
<rect x="271.80" y="12.30" width="18.00" height="5.08" fill="#d65a4a"/>
<rect x="289.80" y="12.30" width="45.00" height="5.08" fill="#c6343c"/>
<rect x="334.80" y="12.30" width="3.00" height="5.08" fill="#b0132c"/>
<rect x="337.80" y="12.30" width="3.00" height="5.08" fill="#c6343c"/>
<rect x="340.80" y="12.30" width="12.00" height="5.08" fill="#b0132c"/>
<rect x="352.80" y="12.30" width="3.00" height="5.08" fill="#c6343c"/>
<rect x="232.80" y="17.39" width="6.00" height="4.08" fill="#d6e8f3"/>
<rect x="238.80" y="17.39" width="6.00" height="4.08" fill="#fbcbb3"/>
<rect x="244.80" y="17.39" width="3.00" height="4.08" fill="#f6ae91"/>
<rect x="247.80" y="17.39" width="3.00" height="4.08" fill="#e2745c"/>
<rect x="250.80" y="17.39" width="30.00" height="4.08" fill="#d65a4a"/>
<rect x="280.80" y="17.39" width="9.00" height="4.08" fill="#e2745c"/>
<rect x="289.80" y="17.39" width="45.00" height="4.08" fill="#d65a4a"/>
<rect x="334.80" y="17.39" width="9.00" height="4.08" fill="#c6343c"/>
<rect x="343.80" y="17.39" width="9.00" height="4.08" fill="#b0132c"/>
<rect x="352.80" y="17.39" width="3.00" height="4.08" fill="#c6343c"/>
<rect x="232.80" y="21.47" width="3.00" height="4.08" fill="#a9d0e6"/>
<rect x="235.80" y="21.47" width="3.00" height="4.08" fill="#ffffff"/>
<rect x="238.80" y="21.47" width="3.00" height="4.08" fill="#fde3d4"/>
<rect x="241.80" y="21.47" width="3.00" height="4.08" fill="#fbcbb3"/>
<rect x="244.80" y="21.47" width="3.00" height="4.08" fill="#f6ae91"/>
<rect x="247.80" y="21.47" width="3.00" height="4.08" fill="#ec9072"/>
<rect x="250.80" y="21.47" width="15.00" height="4.08" fill="#e2745c"/>
<rect x="265.80" y="21.47" width="27.00" height="4.08" fill="#ec9072"/>
<rect x="292.80" y="21.47" width="33.00" height="4.08" fill="#e2745c"/>
<rect x="325.80" y="21.47" width="9.00" height="4.08" fill="#d65a4a"/>
<rect x="334.80" y="21.47" width="9.00" height="4.08" fill="#c6343c"/>
<rect x="343.80" y="21.47" width="9.00" height="4.08" fill="#b0132c"/>
<rect x="352.80" y="21.47" width="3.00" height="4.08" fill="#c6343c"/>
<rect x="232.80" y="25.55" width="6.00" height="4.08" fill="#e3e3e3"/>
<rect x="238.80" y="25.55" width="6.00" height="4.08" fill="#fde3d4"/>
<rect x="244.80" y="25.55" width="3.00" height="4.08" fill="#fbcbb3"/>
<rect x="247.80" y="25.55" width="9.00" height="4.08" fill="#f6ae91"/>
<rect x="256.80" y="25.55" width="6.00" height="4.08" fill="#ec9072"/>
<rect x="262.80" y="25.55" width="3.00" height="4.08" fill="#f6ae91"/>
<rect x="265.80" y="25.55" width="3.00" height="4.08" fill="#fbcbb3"/>
<rect x="268.80" y="25.55" width="9.00" height="4.08" fill="#fde3d4"/>
<rect x="277.80" y="25.55" width="6.00" height="4.08" fill="#fbcbb3"/>
<rect x="283.80" y="25.55" width="18.00" height="4.08" fill="#f6ae91"/>
<rect x="301.80" y="25.55" width="6.00" height="4.08" fill="#fbcbb3"/>
<rect x="307.80" y="25.55" width="6.00" height="4.08" fill="#f6ae91"/>
<rect x="313.80" y="25.55" width="18.00" height="4.08" fill="#ec9072"/>
<rect x="331.80" y="25.55" width="6.00" height="4.08" fill="#e2745c"/>
<rect x="337.80" y="25.55" width="3.00" height="4.08" fill="#d65a4a"/>
<rect x="340.80" y="25.55" width="3.00" height="4.08" fill="#c6343c"/>
<rect x="343.80" y="25.55" width="9.00" height="4.08" fill="#b0132c"/>
<rect x="352.80" y="25.55" width="3.00" height="4.08" fill="#c6343c"/>
<rect x="232.80" y="29.64" width="3.00" height="4.08" fill="#e3e3e3"/>
<rect x="241.80" y="29.64" width="3.00" height="4.08" fill="#fde3d4"/>
<rect x="244.80" y="29.64" width="6.00" height="4.08" fill="#fbcbb3"/>
<rect x="250.80" y="29.64" width="6.00" height="4.08" fill="#f6ae91"/>
<rect x="256.80" y="29.64" width="3.00" height="4.08" fill="#ec9072"/>
<rect x="259.80" y="29.64" width="3.00" height="4.08" fill="#f6ae91"/>
<rect x="262.80" y="29.64" width="6.00" height="4.08" fill="#fbcbb3"/>
<rect x="268.80" y="29.64" width="15.00" height="4.08" fill="#fde3d4"/>
<rect x="283.80" y="29.64" width="18.00" height="4.08" fill="#fbcbb3"/>
<rect x="301.80" y="29.64" width="6.00" height="4.08" fill="#fde3d4"/>
<rect x="307.80" y="29.64" width="3.00" height="4.08" fill="#fbcbb3"/>
<rect x="310.80" y="29.64" width="21.00" height="4.08" fill="#f6ae91"/>
<rect x="331.80" y="29.64" width="6.00" height="4.08" fill="#ec9072"/>
<rect x="337.80" y="29.64" width="3.00" height="4.08" fill="#e2745c"/>
<rect x="340.80" y="29.64" width="3.00" height="4.08" fill="#d65a4a"/>
<rect x="343.80" y="29.64" width="3.00" height="4.08" fill="#c6343c"/>
<rect x="346.80" y="29.64" width="3.00" height="4.08" fill="#b0132c"/>
<rect x="349.80" y="29.64" width="3.00" height="4.08" fill="#c6343c"/>
<rect x="352.80" y="29.64" width="3.00" height="4.08" fill="#d65a4a"/>
<rect x="241.80" y="33.73" width="3.00" height="4.08" fill="#e3e3e3"/>
<rect x="247.80" y="33.73" width="6.00" height="4.08" fill="#fbcbb3"/>
<rect x="253.80" y="33.73" width="3.00" height="4.08" fill="#f6ae91"/>
<rect x="256.80" y="33.73" width="3.00" height="4.08" fill="#ec9072"/>
<rect x="259.80" y="33.73" width="3.00" height="4.08" fill="#f6ae91"/>
<rect x="262.80" y="33.73" width="3.00" height="4.08" fill="#fbcbb3"/>
<rect x="265.80" y="33.73" width="21.00" height="4.08" fill="#fde3d4"/>
<rect x="286.80" y="33.73" width="12.00" height="4.08" fill="#fbcbb3"/>
<rect x="298.80" y="33.73" width="12.00" height="4.08" fill="#fde3d4"/>
<rect x="310.80" y="33.73" width="12.00" height="4.08" fill="#fbcbb3"/>
<rect x="322.80" y="33.73" width="15.00" height="4.08" fill="#f6ae91"/>
<rect x="337.80" y="33.73" width="3.00" height="4.08" fill="#ec9072"/>
<rect x="340.80" y="33.73" width="3.00" height="4.08" fill="#e2745c"/>
<rect x="343.80" y="33.73" width="3.00" height="4.08" fill="#d65a4a"/>
<rect x="346.80" y="33.73" width="3.00" height="4.08" fill="#c6343c"/>
<rect x="349.80" y="33.73" width="3.00" height="4.08" fill="#d65a4a"/>
<rect x="352.80" y="33.73" width="3.00" height="4.08" fill="#e2745c"/>
<rect x="241.80" y="37.81" width="6.00" height="4.08" fill="#e3e3e3"/>
<rect x="247.80" y="37.81" width="3.00" height="4.08" fill="#fde3d4"/>
<rect x="250.80" y="37.81" width="6.00" height="4.08" fill="#fbcbb3"/>
<rect x="256.80" y="37.81" width="6.00" height="4.08" fill="#f6ae91"/>
<rect x="262.80" y="37.81" width="3.00" height="4.08" fill="#fbcbb3"/>
<rect x="265.80" y="37.81" width="6.00" height="4.08" fill="#fde3d4"/>
<rect x="271.80" y="37.81" width="3.00" height="4.08" fill="#ffffff"/>
<rect x="274.80" y="37.81" width="6.00" height="4.08" fill="#fde3d4"/>
<rect x="280.80" y="37.81" width="3.00" height="4.08" fill="#ffffff"/>
<rect x="283.80" y="37.81" width="6.00" height="4.08" fill="#fde3d4"/>
<rect x="289.80" y="37.81" width="9.00" height="4.08" fill="#fbcbb3"/>
<rect x="298.80" y="37.81" width="15.00" height="4.08" fill="#fde3d4"/>
<rect x="313.80" y="37.81" width="21.00" height="4.08" fill="#fbcbb3"/>
<rect x="334.80" y="37.81" width="6.00" height="4.08" fill="#f6ae91"/>
<rect x="340.80" y="37.81" width="3.00" height="4.08" fill="#ec9072"/>
<rect x="343.80" y="37.81" width="3.00" height="4.08" fill="#e2745c"/>
<rect x="346.80" y="37.81" width="3.00" height="4.08" fill="#d65a4a"/>
<rect x="349.80" y="37.81" width="3.00" height="4.08" fill="#e2745c"/>
<rect x="352.80" y="37.81" width="3.00" height="4.08" fill="#ec9072"/>
<rect x="238.80" y="41.89" width="6.00" height="4.08" fill="#fde3d4"/>
<rect x="250.80" y="41.89" width="54.00" height="4.08" fill="#fde3d4"/>
<rect x="304.80" y="41.89" width="3.00" height="4.08" fill="#ffffff"/>
<rect x="307.80" y="41.89" width="9.00" height="4.08" fill="#fde3d4"/>
<rect x="316.80" y="41.89" width="15.00" height="4.08" fill="#fbcbb3"/>
<rect x="331.80" y="41.89" width="3.00" height="4.08" fill="#fde3d4"/>
<rect x="334.80" y="41.89" width="3.00" height="4.08" fill="#fbcbb3"/>
<rect x="337.80" y="41.89" width="3.00" height="4.08" fill="#fde3d4"/>
<rect x="340.80" y="41.89" width="6.00" height="4.08" fill="#fbcbb3"/>
<rect x="346.80" y="41.89" width="6.00" height="4.08" fill="#e2745c"/>
<rect x="352.80" y="41.89" width="3.00" height="4.08" fill="#fbcbb3"/>
<rect x="238.80" y="45.98" width="6.00" height="4.08" fill="#fde3d4"/>
<rect x="244.80" y="45.98" width="3.00" height="4.08" fill="#e3e3e3"/>
<rect x="247.80" y="45.98" width="57.00" height="4.08" fill="#fde3d4"/>
<rect x="304.80" y="45.98" width="6.00" height="4.08" fill="#ffffff"/>
<rect x="310.80" y="45.98" width="6.00" height="4.08" fill="#fde3d4"/>
<rect x="316.80" y="45.98" width="12.00" height="4.08" fill="#fbcbb3"/>
<rect x="328.80" y="45.98" width="6.00" height="4.08" fill="#fde3d4"/>
<rect x="334.80" y="45.98" width="3.00" height="4.08" fill="#fbcbb3"/>
<rect x="337.80" y="45.98" width="3.00" height="4.08" fill="#fde3d4"/>
<rect x="340.80" y="45.98" width="6.00" height="4.08" fill="#fbcbb3"/>
<rect x="346.80" y="45.98" width="6.00" height="4.08" fill="#f6ae91"/>
<rect x="352.80" y="45.98" width="3.00" height="4.08" fill="#fbcbb3"/>
<rect x="232.80" y="50.06" width="3.00" height="4.08" fill="#d6e8f3"/>
<rect x="238.80" y="50.06" width="6.00" height="4.08" fill="#fde3d4"/>
<rect x="244.80" y="50.06" width="3.00" height="4.08" fill="#e3e3e3"/>
<rect x="247.80" y="50.06" width="57.00" height="4.08" fill="#fde3d4"/>
<rect x="304.80" y="50.06" width="6.00" height="4.08" fill="#ffffff"/>
<rect x="310.80" y="50.06" width="9.00" height="4.08" fill="#fde3d4"/>
<rect x="319.80" y="50.06" width="9.00" height="4.08" fill="#fbcbb3"/>
<rect x="328.80" y="50.06" width="6.00" height="4.08" fill="#fde3d4"/>
<rect x="334.80" y="50.06" width="3.00" height="4.08" fill="#fbcbb3"/>
<rect x="337.80" y="50.06" width="6.00" height="4.08" fill="#fde3d4"/>
<rect x="343.80" y="50.06" width="12.00" height="4.08" fill="#fbcbb3"/>
<rect x="232.80" y="54.15" width="3.00" height="4.08" fill="#d6e8f3"/>
<rect x="238.80" y="54.15" width="6.00" height="4.08" fill="#fde3d4"/>
<rect x="250.80" y="54.15" width="12.00" height="4.08" fill="#fde3d4"/>
<rect x="262.80" y="54.15" width="3.00" height="4.08" fill="#ffffff"/>
<rect x="265.80" y="54.15" width="42.00" height="4.08" fill="#fde3d4"/>
<rect x="307.80" y="54.15" width="3.00" height="4.08" fill="#ffffff"/>
<rect x="310.80" y="54.15" width="9.00" height="4.08" fill="#fde3d4"/>
<rect x="319.80" y="54.15" width="9.00" height="4.08" fill="#fbcbb3"/>
<rect x="328.80" y="54.15" width="6.00" height="4.08" fill="#fde3d4"/>
<rect x="334.80" y="54.15" width="3.00" height="4.08" fill="#fbcbb3"/>
<rect x="337.80" y="54.15" width="9.00" height="4.08" fill="#fde3d4"/>
<rect x="346.80" y="54.15" width="6.00" height="4.08" fill="#fbcbb3"/>
<rect x="352.80" y="54.15" width="3.00" height="4.08" fill="#fde3d4"/>
<rect x="232.80" y="58.23" width="3.00" height="4.08" fill="#d6e8f3"/>
<rect x="238.80" y="58.23" width="6.00" height="4.08" fill="#fde3d4"/>
<rect x="250.80" y="58.23" width="12.00" height="4.08" fill="#fde3d4"/>
<rect x="262.80" y="58.23" width="3.00" height="4.08" fill="#ffffff"/>
<rect x="265.80" y="58.23" width="54.00" height="4.08" fill="#fde3d4"/>
<rect x="319.80" y="58.23" width="9.00" height="4.08" fill="#fbcbb3"/>
<rect x="328.80" y="58.23" width="18.00" height="4.08" fill="#fde3d4"/>
<rect x="346.80" y="58.23" width="6.00" height="4.08" fill="#fbcbb3"/>
<rect x="352.80" y="58.23" width="3.00" height="4.08" fill="#fde3d4"/>
<rect x="232.80" y="62.32" width="3.00" height="4.08" fill="#d6e8f3"/>
<rect x="238.80" y="62.32" width="6.00" height="4.08" fill="#fde3d4"/>
<rect x="250.80" y="62.32" width="12.00" height="4.08" fill="#fde3d4"/>
<rect x="262.80" y="62.32" width="3.00" height="4.08" fill="#ffffff"/>
<rect x="265.80" y="62.32" width="54.00" height="4.08" fill="#fde3d4"/>
<rect x="319.80" y="62.32" width="9.00" height="4.08" fill="#fbcbb3"/>
<rect x="328.80" y="62.32" width="18.00" height="4.08" fill="#fde3d4"/>
<rect x="346.80" y="62.32" width="6.00" height="4.08" fill="#fbcbb3"/>
<rect x="352.80" y="62.32" width="3.00" height="4.08" fill="#fde3d4"/>
<rect x="232.80" y="66.41" width="3.00" height="4.08" fill="#d6e8f3"/>
<rect x="238.80" y="66.41" width="3.00" height="4.08" fill="#fde3d4"/>
<rect x="241.80" y="66.41" width="3.00" height="4.08" fill="#ffffff"/>
<rect x="244.80" y="66.41" width="3.00" height="4.08" fill="#e3e3e3"/>
<rect x="247.80" y="66.41" width="3.00" height="4.08" fill="#ffffff"/>
<rect x="250.80" y="66.41" width="3.00" height="4.08" fill="#fde3d4"/>
<rect x="253.80" y="66.41" width="3.00" height="4.08" fill="#e3e3e3"/>
<rect x="256.80" y="66.41" width="3.00" height="4.08" fill="#fde3d4"/>
<rect x="259.80" y="66.41" width="12.00" height="4.08" fill="#ffffff"/>
<rect x="271.80" y="66.41" width="3.00" height="4.08" fill="#fde3d4"/>
<rect x="274.80" y="66.41" width="3.00" height="4.08" fill="#e3e3e3"/>
<rect x="277.80" y="66.41" width="3.00" height="4.08" fill="#ffffff"/>
<rect x="280.80" y="66.41" width="27.00" height="4.08" fill="#fde3d4"/>
<rect x="307.80" y="66.41" width="3.00" height="4.08" fill="#ffffff"/>
<rect x="310.80" y="66.41" width="33.00" height="4.08" fill="#fde3d4"/>
<rect x="343.80" y="66.41" width="6.00" height="4.08" fill="#ffffff"/>
<rect x="232.80" y="70.49" width="3.00" height="4.08" fill="#d6e8f3"/>
<rect x="238.80" y="70.49" width="3.00" height="4.08" fill="#fde3d4"/>
<rect x="241.80" y="70.49" width="3.00" height="4.08" fill="#ffffff"/>
<rect x="244.80" y="70.49" width="3.00" height="4.08" fill="#e3e3e3"/>
<rect x="247.80" y="70.49" width="3.00" height="4.08" fill="#ffffff"/>
<rect x="250.80" y="70.49" width="3.00" height="4.08" fill="#fde3d4"/>
<rect x="253.80" y="70.49" width="3.00" height="4.08" fill="#e3e3e3"/>
<rect x="256.80" y="70.49" width="3.00" height="4.08" fill="#fde3d4"/>
<rect x="259.80" y="70.49" width="12.00" height="4.08" fill="#ffffff"/>
<rect x="271.80" y="70.49" width="3.00" height="4.08" fill="#fde3d4"/>
<rect x="274.80" y="70.49" width="3.00" height="4.08" fill="#e3e3e3"/>
<rect x="277.80" y="70.49" width="3.00" height="4.08" fill="#ffffff"/>
<rect x="280.80" y="70.49" width="12.00" height="4.08" fill="#fde3d4"/>
<rect x="292.80" y="70.49" width="3.00" height="4.08" fill="#ffffff"/>
<rect x="295.80" y="70.49" width="3.00" height="4.08" fill="#fde3d4"/>
<rect x="298.80" y="70.49" width="6.00" height="4.08" fill="#ffffff"/>
<rect x="304.80" y="70.49" width="3.00" height="4.08" fill="#fde3d4"/>
<rect x="307.80" y="70.49" width="3.00" height="4.08" fill="#ffffff"/>
<rect x="310.80" y="70.49" width="33.00" height="4.08" fill="#fde3d4"/>
<rect x="343.80" y="70.49" width="6.00" height="4.08" fill="#ffffff"/>
<rect x="238.80" y="74.58" width="3.00" height="4.08" fill="#fde3d4"/>
<rect x="241.80" y="74.58" width="3.00" height="4.08" fill="#ffffff"/>
<rect x="244.80" y="74.58" width="3.00" height="4.08" fill="#e3e3e3"/>
<rect x="247.80" y="74.58" width="3.00" height="4.08" fill="#ffffff"/>
<rect x="250.80" y="74.58" width="3.00" height="4.08" fill="#fde3d4"/>
<rect x="253.80" y="74.58" width="3.00" height="4.08" fill="#e3e3e3"/>
<rect x="256.80" y="74.58" width="3.00" height="4.08" fill="#fde3d4"/>
<rect x="259.80" y="74.58" width="12.00" height="4.08" fill="#ffffff"/>
<rect x="271.80" y="74.58" width="3.00" height="4.08" fill="#fde3d4"/>
<rect x="274.80" y="74.58" width="3.00" height="4.08" fill="#e3e3e3"/>
<rect x="277.80" y="74.58" width="3.00" height="4.08" fill="#ffffff"/>
<rect x="280.80" y="74.58" width="12.00" height="4.08" fill="#fde3d4"/>
<rect x="292.80" y="74.58" width="3.00" height="4.08" fill="#ffffff"/>
<rect x="295.80" y="74.58" width="3.00" height="4.08" fill="#fde3d4"/>
<rect x="298.80" y="74.58" width="6.00" height="4.08" fill="#ffffff"/>
<rect x="304.80" y="74.58" width="3.00" height="4.08" fill="#fde3d4"/>
<rect x="307.80" y="74.58" width="3.00" height="4.08" fill="#ffffff"/>
<rect x="310.80" y="74.58" width="33.00" height="4.08" fill="#fde3d4"/>
<rect x="343.80" y="74.58" width="6.00" height="4.08" fill="#ffffff"/>
<rect x="238.80" y="78.66" width="3.00" height="4.08" fill="#fde3d4"/>
<rect x="241.80" y="78.66" width="3.00" height="4.08" fill="#ffffff"/>
<rect x="244.80" y="78.66" width="3.00" height="4.08" fill="#e3e3e3"/>
<rect x="247.80" y="78.66" width="3.00" height="4.08" fill="#ffffff"/>
<rect x="250.80" y="78.66" width="3.00" height="4.08" fill="#fde3d4"/>
<rect x="253.80" y="78.66" width="3.00" height="4.08" fill="#e3e3e3"/>
<rect x="256.80" y="78.66" width="3.00" height="4.08" fill="#fde3d4"/>
<rect x="259.80" y="78.66" width="12.00" height="4.08" fill="#ffffff"/>
<rect x="271.80" y="78.66" width="3.00" height="4.08" fill="#fde3d4"/>
<rect x="274.80" y="78.66" width="3.00" height="4.08" fill="#e3e3e3"/>
<rect x="277.80" y="78.66" width="3.00" height="4.08" fill="#ffffff"/>
<rect x="280.80" y="78.66" width="12.00" height="4.08" fill="#fde3d4"/>
<rect x="292.80" y="78.66" width="3.00" height="4.08" fill="#ffffff"/>
<rect x="295.80" y="78.66" width="3.00" height="4.08" fill="#fde3d4"/>
<rect x="298.80" y="78.66" width="6.00" height="4.08" fill="#ffffff"/>
<rect x="304.80" y="78.66" width="3.00" height="4.08" fill="#fde3d4"/>
<rect x="307.80" y="78.66" width="3.00" height="4.08" fill="#ffffff"/>
<rect x="310.80" y="78.66" width="33.00" height="4.08" fill="#fde3d4"/>
<rect x="343.80" y="78.66" width="6.00" height="4.08" fill="#ffffff"/>
<rect x="238.80" y="82.74" width="3.00" height="4.08" fill="#fde3d4"/>
<rect x="241.80" y="82.74" width="3.00" height="4.08" fill="#ffffff"/>
<rect x="244.80" y="82.74" width="6.00" height="4.08" fill="#e3e3e3"/>
<rect x="256.80" y="82.74" width="3.00" height="4.08" fill="#fde3d4"/>
<rect x="286.80" y="82.74" width="3.00" height="4.08" fill="#fde3d4"/>
<rect x="289.80" y="82.74" width="3.00" height="4.08" fill="#e3e3e3"/>
<rect x="292.80" y="82.74" width="3.00" height="4.08" fill="#fde3d4"/>
<rect x="304.80" y="82.74" width="3.00" height="4.08" fill="#fde3d4"/>
<rect x="313.80" y="82.74" width="15.00" height="4.08" fill="#fde3d4"/>
<rect x="328.80" y="82.74" width="3.00" height="4.08" fill="#ffffff"/>
<rect x="331.80" y="82.74" width="12.00" height="4.08" fill="#fde3d4"/>
<rect x="238.80" y="86.83" width="3.00" height="4.08" fill="#fde3d4"/>
<rect x="241.80" y="86.83" width="3.00" height="4.08" fill="#ffffff"/>
<rect x="244.80" y="86.83" width="6.00" height="4.08" fill="#e3e3e3"/>
<rect x="256.80" y="86.83" width="3.00" height="4.08" fill="#fde3d4"/>
<rect x="286.80" y="86.83" width="3.00" height="4.08" fill="#fde3d4"/>
<rect x="289.80" y="86.83" width="3.00" height="4.08" fill="#e3e3e3"/>
<rect x="292.80" y="86.83" width="3.00" height="4.08" fill="#fde3d4"/>
<rect x="304.80" y="86.83" width="3.00" height="4.08" fill="#fde3d4"/>
<rect x="313.80" y="86.83" width="15.00" height="4.08" fill="#fde3d4"/>
<rect x="328.80" y="86.83" width="3.00" height="4.08" fill="#ffffff"/>
<rect x="331.80" y="86.83" width="12.00" height="4.08" fill="#fde3d4"/>
<rect x="238.80" y="90.91" width="3.00" height="5.08" fill="#fde3d4"/>
<rect x="241.80" y="90.91" width="3.00" height="5.08" fill="#ffffff"/>
<rect x="244.80" y="90.91" width="6.00" height="5.08" fill="#e3e3e3"/>
<rect x="256.80" y="90.91" width="3.00" height="5.08" fill="#fde3d4"/>
<rect x="286.80" y="90.91" width="3.00" height="5.08" fill="#fde3d4"/>
<rect x="289.80" y="90.91" width="3.00" height="5.08" fill="#e3e3e3"/>
<rect x="292.80" y="90.91" width="3.00" height="5.08" fill="#fde3d4"/>
<rect x="304.80" y="90.91" width="3.00" height="5.08" fill="#fde3d4"/>
<rect x="313.80" y="90.91" width="15.00" height="5.08" fill="#fde3d4"/>
<rect x="328.80" y="90.91" width="3.00" height="5.08" fill="#ffffff"/>
<rect x="331.80" y="90.91" width="12.00" height="5.08" fill="#fde3d4"/>
</g>
<path d="M249.5,13.3 L250.2,17 L252.5,21.1 L253.3,26.1 L255,30.3 L256.5,33.5 L258.4,36.5 L260.5,39.5 L259.5,43 L257,45 L256,48 L254.5,51 L254,54" fill="none" stroke="#141414" stroke-width="0.85" stroke-linejoin="round"/>
<path d="M255,13.3 L256.6,17 L257.9,21.1 L259.1,22.8 L261.6,21.1 L264.1,18.6 L266.6,17 L269.1,16.2 L271.6,17 L272.4,16.2" fill="none" stroke="#141414" stroke-width="0.85" stroke-linejoin="round"/>
<path d="M281.6,18.6 L284.9,17.8 L289.9,17.4 L294.9,17.8 L298.2,19.5 L302,20.5 L306,20.2 L311.5,21.5 L317.5,23.4 L321.1,25.2 L325.9,26.2 L328.3,25 L330.7,22.5 L333.1,20.6 L335.5,18.5 L337.8,16.8 L340.2,14.4 L342,13.5" fill="none" stroke="#141414" stroke-width="0.85" stroke-linejoin="round"/>
<path d="M290,14.6 L296,15.6 L302,16.6 L308,17.2 L314,16.8 L320,18.2 L324.7,17.8 L325.9,21 L327.1,19.4 L329.5,17.2 L333,16 L336.7,15 L340.2,13.8" fill="none" stroke="#141414" stroke-width="0.85" stroke-linejoin="round"/>
<path d="M249.3,27 L251,31 L253.6,35.6 L256,37 L260.1,37.8 L262,36 L264.4,33.4 L266,30 L268.7,27 L272,25.5 L275.2,24.8 L278,25.5 L281.7,27 L284,30 L286,33.4 L289,35 L292.5,35.6 L296.8,34.5 L299,31 L301.1,27 L303.3,21.6 L304.5,26 L305.4,31.3 L309,34.5 L314.1,37.8 L318,40 L322.7,42.1 L326,41.5 L329.2,39.9 L333.5,35.6 L336,36 L338.5,38" fill="none" stroke="#141414" stroke-width="0.85" stroke-linejoin="round"/>
<path d="M315.1,42.4 L317.5,46 L318.7,48.4 L322.3,50.8 L325.9,53.2 L328.3,47.2 L330.7,43.6 L331.9,40 L332.5,36" fill="none" stroke="#141414" stroke-width="0.85" stroke-linejoin="round"/>
<path d="M334.9,40 L336,52 L336.6,68 L337,80 L337.5,92" fill="none" stroke="#141414" stroke-width="0.85" stroke-linejoin="round"/>
<path d="M340.2,36 L340.8,52 L342,68 L341.5,80 L341,90" fill="none" stroke="#141414" stroke-width="0.85" stroke-linejoin="round"/>
<path d="M351.6,49.6 L352.8,61.5" fill="none" stroke="#141414" stroke-width="0.85" stroke-linejoin="round"/>
<path d="M337,74 C334,74 333,77 336,78 C339,79 340,76 337,74 Z" fill="none" stroke="#141414" stroke-width="0.85" stroke-linejoin="round"/>
<path d="M334,81 C332,81 332,83 334,83.5 C336.5,84 337,81 334,81 Z" fill="none" stroke="#141414" stroke-width="0.85" stroke-linejoin="round"/>
<path d="M341,22 C341,20 344,20 344,22 C344,24 341,24 341,22 Z" fill="none" stroke="#141414" stroke-width="0.85" stroke-linejoin="round"/>
<path d="M343,26 C343,24 346,24 346,26 C346,28 343,28 343,26 Z" fill="none" stroke="#141414" stroke-width="0.85" stroke-linejoin="round"/>
<path d="M339,30 C339,28 342,28 342,30 C342,32 339,32 339,30 Z" fill="none" stroke="#141414" stroke-width="0.85" stroke-linejoin="round"/>
<path d="M344,32 C344,30 347,30 347,32 C347,34 344,34 344,32 Z" fill="none" stroke="#141414" stroke-width="0.85" stroke-linejoin="round"/>
<path d="M340,35 C340,33 343,33 343,35 C343,37 340,37 340,35 Z" fill="none" stroke="#141414" stroke-width="0.85" stroke-linejoin="round"/>
<path d="M241,24 L242,27 M244,27 L243.5,33" fill="none" stroke="#141414" stroke-width="0.85" stroke-linejoin="round"/>
<path d="M239.5,43 L240,52" fill="none" stroke="#141414" stroke-width="0.85" stroke-linejoin="round"/>
<path d="M243,58 C241,58 241,60.5 243,60.5 C245,60.5 245,58 243,58 Z" fill="none" stroke="#141414" stroke-width="0.85" stroke-linejoin="round"/>
<path d="M244,60.5 L244.5,70" fill="none" stroke="#141414" stroke-width="0.85" stroke-linejoin="round"/>
<text x="272.6" y="20.6" font-size="5.8" fill="#1a1a1a">0.6</text>
<text x="238" y="19" font-size="5.5" fill="#1a1a1a">0.2</text>
<text x="294" y="32" font-size="5.5" fill="#1a1a1a">0.2</text>
<text transform="translate(217.60000000000002,17.20) scale(1,1.12)" font-size="7.8" text-anchor="end" fill="#333">0</text>
<text transform="translate(217.60000000000002,37.62) scale(1,1.12)" font-size="7.8" text-anchor="end" fill="#333">-500</text>
<text transform="translate(217.60000000000002,58.05) scale(1,1.12)" font-size="7.8" text-anchor="end" fill="#333">-1000</text>
<text transform="translate(217.60000000000002,78.48) scale(1,1.12)" font-size="7.8" text-anchor="end" fill="#333">-1500</text>
<text transform="translate(217.60000000000002,98.90) scale(1,1.12)" font-size="7.8" text-anchor="end" fill="#333">-2000</text>
<text transform="translate(252.13,106.90) scale(1,1.12)" font-size="7.8" text-anchor="middle" fill="#333">-50</text>
<text transform="translate(291.30,106.90) scale(1,1.12)" font-size="7.8" text-anchor="middle" fill="#333">0</text>
<text transform="translate(330.47,106.90) scale(1,1.12)" font-size="7.8" text-anchor="middle" fill="#333">50</text>
<text transform="translate(291.30,115.00) scale(1,1.12)" font-size="8" text-anchor="middle" fill="#333">Latitude [° N]</text>
<text transform="translate(194.20,54.15) rotate(-90) scale(1,1.12)" font-size="8" text-anchor="middle" fill="#333">Depth [m]</text>
<text transform="translate(291.30,7.20) scale(1,1.12)" font-size="8" font-weight="bold" text-anchor="middle" fill="#111" stroke="#111" stroke-width="0.2">GHG</text>
<text x="357.60" y="7.00" font-size="6.4" font-weight="bold" text-anchor="end" fill="#222" stroke="#222" stroke-width="0.25">(corr = 0.70)</text>
<text transform="translate(202.7,10.8) scale(1,1.12)" font-size="7.8" font-weight="bold" fill="#111">b</text>
<rect x="406.5" y="13.3" width="140.89999999999998" height="81.7" fill="#cbcbcb" stroke="#7a7a7a" stroke-width="0.8"/>
<line x1="406.5" x2="407.9" y1="33.73" y2="33.73" stroke="#555" stroke-width="0.5"/>
<line x1="547.4" x2="546.0" y1="33.73" y2="33.73" stroke="#555" stroke-width="0.5"/>
<line x1="406.5" x2="407.9" y1="54.15" y2="54.15" stroke="#555" stroke-width="0.5"/>
<line x1="547.4" x2="546.0" y1="54.15" y2="54.15" stroke="#555" stroke-width="0.5"/>
<line x1="406.5" x2="407.9" y1="74.58" y2="74.58" stroke="#555" stroke-width="0.5"/>
<line x1="547.4" x2="546.0" y1="74.58" y2="74.58" stroke="#555" stroke-width="0.5"/>
<line x1="437.81" x2="437.81" y1="95.0" y2="93.6" stroke="#555" stroke-width="0.5"/>
<line x1="437.81" x2="437.81" y1="13.3" y2="14.700000000000001" stroke="#555" stroke-width="0.5"/>
<line x1="476.95" x2="476.95" y1="95.0" y2="93.6" stroke="#555" stroke-width="0.5"/>
<line x1="476.95" x2="476.95" y1="13.3" y2="14.700000000000001" stroke="#555" stroke-width="0.5"/>
<line x1="516.09" x2="516.09" y1="95.0" y2="93.6" stroke="#555" stroke-width="0.5"/>
<line x1="516.09" x2="516.09" y1="13.3" y2="14.700000000000001" stroke="#555" stroke-width="0.5"/>
<clipPath id="cpc"><rect x="406.5" y="12.3" width="134.00" height="83.70"/></clipPath>
<g clip-path="url(#cpc)" shape-rendering="crispEdges">
<rect x="415.49" y="12.30" width="3.00" height="5.08" fill="#ffffff"/>
<rect x="418.49" y="12.30" width="3.00" height="5.08" fill="#fde3d4"/>
<rect x="421.49" y="12.30" width="6.00" height="5.08" fill="#d6e8f3"/>
<rect x="427.49" y="12.30" width="3.00" height="5.08" fill="#ffffff"/>
<rect x="430.48" y="12.30" width="3.00" height="5.08" fill="#d6e8f3"/>
<rect x="433.48" y="12.30" width="3.00" height="5.08" fill="#ffffff"/>
<rect x="436.48" y="12.30" width="3.00" height="5.08" fill="#d6e8f3"/>
<rect x="439.48" y="12.30" width="6.00" height="5.08" fill="#ffffff"/>
<rect x="445.47" y="12.30" width="77.94" height="5.08" fill="#fde3d4"/>
<rect x="523.42" y="12.30" width="17.99" height="5.08" fill="#fbcbb3"/>
<rect x="415.49" y="17.39" width="6.00" height="4.08" fill="#e3e3e3"/>
<rect x="421.49" y="17.39" width="3.00" height="4.08" fill="#ffffff"/>
<rect x="424.49" y="17.39" width="3.00" height="4.08" fill="#d6e8f3"/>
<rect x="427.49" y="17.39" width="17.99" height="4.08" fill="#ffffff"/>
<rect x="445.47" y="17.39" width="8.99" height="4.08" fill="#fde3d4"/>
<rect x="454.47" y="17.39" width="26.98" height="4.08" fill="#ffffff"/>
<rect x="481.45" y="17.39" width="6.00" height="4.08" fill="#d6e8f3"/>
<rect x="487.44" y="17.39" width="6.00" height="4.08" fill="#ffffff"/>
<rect x="493.44" y="17.39" width="14.99" height="4.08" fill="#fde3d4"/>
<rect x="508.43" y="17.39" width="3.00" height="4.08" fill="#ffffff"/>
<rect x="511.43" y="17.39" width="6.00" height="4.08" fill="#fde3d4"/>
<rect x="517.42" y="17.39" width="20.99" height="4.08" fill="#fbcbb3"/>
<rect x="538.41" y="17.39" width="3.00" height="4.08" fill="#fde3d4"/>
<rect x="415.49" y="21.47" width="3.00" height="4.08" fill="#e3e3e3"/>
<rect x="421.49" y="21.47" width="3.00" height="4.08" fill="#d6e8f3"/>
<rect x="424.49" y="21.47" width="3.00" height="4.08" fill="#ffffff"/>
<rect x="427.49" y="21.47" width="3.00" height="4.08" fill="#e3e3e3"/>
<rect x="430.48" y="21.47" width="17.99" height="4.08" fill="#ffffff"/>
<rect x="448.47" y="21.47" width="3.00" height="4.08" fill="#fde3d4"/>
<rect x="451.47" y="21.47" width="17.99" height="4.08" fill="#ffffff"/>
<rect x="469.46" y="21.47" width="3.00" height="4.08" fill="#d6e8f3"/>
<rect x="472.45" y="21.47" width="8.99" height="4.08" fill="#ffffff"/>
<rect x="481.45" y="21.47" width="3.00" height="4.08" fill="#a9d0e6"/>
<rect x="484.44" y="21.47" width="3.00" height="4.08" fill="#d6e8f3"/>
<rect x="487.44" y="21.47" width="8.99" height="4.08" fill="#ffffff"/>
<rect x="496.44" y="21.47" width="11.99" height="4.08" fill="#fde3d4"/>
<rect x="508.43" y="21.47" width="3.00" height="4.08" fill="#d6e8f3"/>
<rect x="511.43" y="21.47" width="6.00" height="4.08" fill="#fde3d4"/>
<rect x="517.42" y="21.47" width="20.99" height="4.08" fill="#fbcbb3"/>
<rect x="538.41" y="21.47" width="3.00" height="4.08" fill="#fde3d4"/>
<rect x="415.49" y="25.55" width="3.00" height="4.08" fill="#e3e3e3"/>
<rect x="421.49" y="25.55" width="3.00" height="4.08" fill="#d6e8f3"/>
<rect x="424.49" y="25.55" width="3.00" height="4.08" fill="#ffffff"/>
<rect x="427.49" y="25.55" width="3.00" height="4.08" fill="#e3e3e3"/>
<rect x="430.48" y="25.55" width="50.96" height="4.08" fill="#ffffff"/>
<rect x="481.45" y="25.55" width="6.00" height="4.08" fill="#d6e8f3"/>
<rect x="487.44" y="25.55" width="11.99" height="4.08" fill="#ffffff"/>
<rect x="499.43" y="25.55" width="6.00" height="4.08" fill="#fde3d4"/>
<rect x="505.43" y="25.55" width="3.00" height="4.08" fill="#ffffff"/>
<rect x="508.43" y="25.55" width="3.00" height="4.08" fill="#a9d0e6"/>
<rect x="511.43" y="25.55" width="3.00" height="4.08" fill="#ffffff"/>
<rect x="514.42" y="25.55" width="6.00" height="4.08" fill="#fde3d4"/>
<rect x="520.42" y="25.55" width="6.00" height="4.08" fill="#fbcbb3"/>
<rect x="526.41" y="25.55" width="3.00" height="4.08" fill="#fde3d4"/>
<rect x="529.41" y="25.55" width="8.99" height="4.08" fill="#fbcbb3"/>
<rect x="538.41" y="25.55" width="3.00" height="4.08" fill="#fde3d4"/>
<rect x="415.49" y="29.64" width="3.00" height="4.08" fill="#e3e3e3"/>
<rect x="421.49" y="29.64" width="3.00" height="4.08" fill="#d6e8f3"/>
<rect x="424.49" y="29.64" width="3.00" height="4.08" fill="#ffffff"/>
<rect x="427.49" y="29.64" width="14.99" height="4.08" fill="#e3e3e3"/>
<rect x="442.47" y="29.64" width="65.95" height="4.08" fill="#ffffff"/>
<rect x="508.43" y="29.64" width="3.00" height="4.08" fill="#a9d0e6"/>
<rect x="511.43" y="29.64" width="3.00" height="4.08" fill="#ffffff"/>
<rect x="514.42" y="29.64" width="6.00" height="4.08" fill="#fde3d4"/>
<rect x="520.42" y="29.64" width="3.00" height="4.08" fill="#fbcbb3"/>
<rect x="523.42" y="29.64" width="3.00" height="4.08" fill="#fde3d4"/>
<rect x="526.41" y="29.64" width="3.00" height="4.08" fill="#d6e8f3"/>
<rect x="529.41" y="29.64" width="3.00" height="4.08" fill="#fde3d4"/>
<rect x="532.41" y="29.64" width="6.00" height="4.08" fill="#fbcbb3"/>
<rect x="538.41" y="29.64" width="3.00" height="4.08" fill="#fde3d4"/>
<rect x="415.49" y="33.73" width="3.00" height="4.08" fill="#e3e3e3"/>
<rect x="421.49" y="33.73" width="3.00" height="4.08" fill="#d6e8f3"/>
<rect x="424.49" y="33.73" width="3.00" height="4.08" fill="#ffffff"/>
<rect x="427.49" y="33.73" width="14.99" height="4.08" fill="#e3e3e3"/>
<rect x="442.47" y="33.73" width="65.95" height="4.08" fill="#ffffff"/>
<rect x="508.43" y="33.73" width="3.00" height="4.08" fill="#a9d0e6"/>
<rect x="511.43" y="33.73" width="6.00" height="4.08" fill="#ffffff"/>
<rect x="517.42" y="33.73" width="8.99" height="4.08" fill="#fde3d4"/>
<rect x="526.41" y="33.73" width="3.00" height="4.08" fill="#a9d0e6"/>
<rect x="529.41" y="33.73" width="3.00" height="4.08" fill="#fde3d4"/>
<rect x="532.41" y="33.73" width="3.00" height="4.08" fill="#fbcbb3"/>
<rect x="535.41" y="33.73" width="6.00" height="4.08" fill="#fde3d4"/>
<rect x="415.49" y="37.81" width="3.00" height="4.08" fill="#e3e3e3"/>
<rect x="421.49" y="37.81" width="3.00" height="4.08" fill="#d6e8f3"/>
<rect x="424.49" y="37.81" width="3.00" height="4.08" fill="#ffffff"/>
<rect x="427.49" y="37.81" width="14.99" height="4.08" fill="#e3e3e3"/>
<rect x="442.47" y="37.81" width="65.95" height="4.08" fill="#ffffff"/>
<rect x="508.43" y="37.81" width="3.00" height="4.08" fill="#a9d0e6"/>
<rect x="511.43" y="37.81" width="6.00" height="4.08" fill="#ffffff"/>
<rect x="517.42" y="37.81" width="8.99" height="4.08" fill="#fde3d4"/>
<rect x="526.41" y="37.81" width="3.00" height="4.08" fill="#a9d0e6"/>
<rect x="529.41" y="37.81" width="3.00" height="4.08" fill="#fde3d4"/>
<rect x="532.41" y="37.81" width="3.00" height="4.08" fill="#fbcbb3"/>
<rect x="535.41" y="37.81" width="6.00" height="4.08" fill="#fde3d4"/>
<rect x="415.49" y="41.89" width="3.00" height="4.08" fill="#e3e3e3"/>
<rect x="421.49" y="41.89" width="3.00" height="4.08" fill="#d6e8f3"/>
<rect x="424.49" y="41.89" width="3.00" height="4.08" fill="#ffffff"/>
<rect x="427.49" y="41.89" width="14.99" height="4.08" fill="#e3e3e3"/>
<rect x="442.47" y="41.89" width="26.98" height="4.08" fill="#ffffff"/>
<rect x="475.45" y="41.89" width="32.98" height="4.08" fill="#ffffff"/>
<rect x="508.43" y="41.89" width="3.00" height="4.08" fill="#a9d0e6"/>
<rect x="511.43" y="41.89" width="3.00" height="4.08" fill="#d6e8f3"/>
<rect x="514.42" y="41.89" width="6.00" height="4.08" fill="#ffffff"/>
<rect x="520.42" y="41.89" width="3.00" height="4.08" fill="#fbcbb3"/>
<rect x="523.42" y="41.89" width="3.00" height="4.08" fill="#fde3d4"/>
<rect x="526.41" y="41.89" width="3.00" height="4.08" fill="#d6e8f3"/>
<rect x="529.41" y="41.89" width="3.00" height="4.08" fill="#fde3d4"/>
<rect x="532.41" y="41.89" width="6.00" height="4.08" fill="#fbcbb3"/>
<rect x="538.41" y="41.89" width="3.00" height="4.08" fill="#fde3d4"/>
<rect x="415.49" y="45.98" width="3.00" height="4.08" fill="#e3e3e3"/>
<rect x="421.49" y="45.98" width="3.00" height="4.08" fill="#d6e8f3"/>
<rect x="424.49" y="45.98" width="3.00" height="4.08" fill="#ffffff"/>
<rect x="427.49" y="45.98" width="14.99" height="4.08" fill="#e3e3e3"/>
<rect x="442.47" y="45.98" width="26.98" height="4.08" fill="#ffffff"/>
<rect x="475.45" y="45.98" width="32.98" height="4.08" fill="#ffffff"/>
<rect x="508.43" y="45.98" width="3.00" height="4.08" fill="#a9d0e6"/>
<rect x="511.43" y="45.98" width="3.00" height="4.08" fill="#d6e8f3"/>
<rect x="514.42" y="45.98" width="6.00" height="4.08" fill="#ffffff"/>
<rect x="520.42" y="45.98" width="3.00" height="4.08" fill="#fbcbb3"/>
<rect x="523.42" y="45.98" width="11.99" height="4.08" fill="#fde3d4"/>
<rect x="535.41" y="45.98" width="3.00" height="4.08" fill="#fbcbb3"/>
<rect x="538.41" y="45.98" width="3.00" height="4.08" fill="#fde3d4"/>
<rect x="415.49" y="50.06" width="3.00" height="4.08" fill="#e3e3e3"/>
<rect x="421.49" y="50.06" width="3.00" height="4.08" fill="#d6e8f3"/>
<rect x="424.49" y="50.06" width="3.00" height="4.08" fill="#ffffff"/>
<rect x="427.49" y="50.06" width="14.99" height="4.08" fill="#e3e3e3"/>
<rect x="442.47" y="50.06" width="65.95" height="4.08" fill="#ffffff"/>
<rect x="508.43" y="50.06" width="3.00" height="4.08" fill="#a9d0e6"/>
<rect x="511.43" y="50.06" width="3.00" height="4.08" fill="#d6e8f3"/>
<rect x="514.42" y="50.06" width="6.00" height="4.08" fill="#ffffff"/>
<rect x="520.42" y="50.06" width="14.99" height="4.08" fill="#fde3d4"/>
<rect x="535.41" y="50.06" width="3.00" height="4.08" fill="#fbcbb3"/>
<rect x="538.41" y="50.06" width="3.00" height="4.08" fill="#fde3d4"/>
<rect x="415.49" y="54.15" width="3.00" height="4.08" fill="#e3e3e3"/>
<rect x="421.49" y="54.15" width="3.00" height="4.08" fill="#d6e8f3"/>
<rect x="424.49" y="54.15" width="3.00" height="4.08" fill="#ffffff"/>
<rect x="427.49" y="54.15" width="14.99" height="4.08" fill="#e3e3e3"/>
<rect x="442.47" y="54.15" width="65.95" height="4.08" fill="#ffffff"/>
<rect x="508.43" y="54.15" width="3.00" height="4.08" fill="#a9d0e6"/>
<rect x="511.43" y="54.15" width="3.00" height="4.08" fill="#d6e8f3"/>
<rect x="514.42" y="54.15" width="6.00" height="4.08" fill="#ffffff"/>
<rect x="520.42" y="54.15" width="14.99" height="4.08" fill="#fde3d4"/>
<rect x="535.41" y="54.15" width="3.00" height="4.08" fill="#fbcbb3"/>
<rect x="538.41" y="54.15" width="3.00" height="4.08" fill="#fde3d4"/>
<rect x="418.49" y="58.23" width="3.00" height="4.08" fill="#e3e3e3"/>
<rect x="424.49" y="58.23" width="3.00" height="4.08" fill="#d6e8f3"/>
<rect x="427.49" y="58.23" width="14.99" height="4.08" fill="#e3e3e3"/>
<rect x="442.47" y="58.23" width="11.99" height="4.08" fill="#ffffff"/>
<rect x="454.47" y="58.23" width="3.00" height="4.08" fill="#e3e3e3"/>
<rect x="457.46" y="58.23" width="50.96" height="4.08" fill="#ffffff"/>
<rect x="508.43" y="58.23" width="3.00" height="4.08" fill="#a9d0e6"/>
<rect x="511.43" y="58.23" width="8.99" height="4.08" fill="#ffffff"/>
<rect x="520.42" y="58.23" width="8.99" height="4.08" fill="#fde3d4"/>
<rect x="529.41" y="58.23" width="3.00" height="4.08" fill="#ffffff"/>
<rect x="532.41" y="58.23" width="3.00" height="4.08" fill="#fde3d4"/>
<rect x="535.41" y="58.23" width="3.00" height="4.08" fill="#fbcbb3"/>
<rect x="538.41" y="58.23" width="3.00" height="4.08" fill="#fde3d4"/>
<rect x="418.49" y="62.32" width="3.00" height="4.08" fill="#e3e3e3"/>
<rect x="424.49" y="62.32" width="3.00" height="4.08" fill="#d6e8f3"/>
<rect x="427.49" y="62.32" width="14.99" height="4.08" fill="#e3e3e3"/>
<rect x="442.47" y="62.32" width="11.99" height="4.08" fill="#ffffff"/>
<rect x="454.47" y="62.32" width="3.00" height="4.08" fill="#e3e3e3"/>
<rect x="457.46" y="62.32" width="50.96" height="4.08" fill="#ffffff"/>
<rect x="508.43" y="62.32" width="3.00" height="4.08" fill="#a9d0e6"/>
<rect x="511.43" y="62.32" width="8.99" height="4.08" fill="#ffffff"/>
<rect x="520.42" y="62.32" width="8.99" height="4.08" fill="#fde3d4"/>
<rect x="529.41" y="62.32" width="3.00" height="4.08" fill="#ffffff"/>
<rect x="532.41" y="62.32" width="3.00" height="4.08" fill="#fde3d4"/>
<rect x="535.41" y="62.32" width="3.00" height="4.08" fill="#fbcbb3"/>
<rect x="538.41" y="62.32" width="3.00" height="4.08" fill="#fde3d4"/>
<rect x="418.49" y="66.41" width="3.00" height="4.08" fill="#e3e3e3"/>
<rect x="424.49" y="66.41" width="3.00" height="4.08" fill="#d6e8f3"/>
<rect x="427.49" y="66.41" width="14.99" height="4.08" fill="#e3e3e3"/>
<rect x="445.47" y="66.41" width="11.99" height="4.08" fill="#ffffff"/>
<rect x="457.46" y="66.41" width="14.99" height="4.08" fill="#e3e3e3"/>
<rect x="472.45" y="66.41" width="38.97" height="4.08" fill="#ffffff"/>
<rect x="511.43" y="66.41" width="3.00" height="4.08" fill="#d6e8f3"/>
<rect x="514.42" y="66.41" width="14.99" height="4.08" fill="#ffffff"/>
<rect x="529.41" y="66.41" width="3.00" height="4.08" fill="#fde3d4"/>
<rect x="535.41" y="66.41" width="3.00" height="4.08" fill="#fbcbb3"/>
<rect x="538.41" y="66.41" width="3.00" height="4.08" fill="#fde3d4"/>
<rect x="418.49" y="70.49" width="3.00" height="4.08" fill="#e3e3e3"/>
<rect x="424.49" y="70.49" width="3.00" height="4.08" fill="#d6e8f3"/>
<rect x="427.49" y="70.49" width="14.99" height="4.08" fill="#e3e3e3"/>
<rect x="445.47" y="70.49" width="11.99" height="4.08" fill="#ffffff"/>
<rect x="457.46" y="70.49" width="3.00" height="4.08" fill="#e3e3e3"/>
<rect x="460.46" y="70.49" width="68.95" height="4.08" fill="#ffffff"/>
<rect x="529.41" y="70.49" width="3.00" height="4.08" fill="#fde3d4"/>
<rect x="535.41" y="70.49" width="3.00" height="4.08" fill="#fbcbb3"/>
<rect x="538.41" y="70.49" width="3.00" height="4.08" fill="#fde3d4"/>
<rect x="424.49" y="74.58" width="3.00" height="4.08" fill="#d6e8f3"/>
<rect x="427.49" y="74.58" width="14.99" height="4.08" fill="#e3e3e3"/>
<rect x="445.47" y="74.58" width="83.94" height="4.08" fill="#ffffff"/>
<rect x="529.41" y="74.58" width="3.00" height="4.08" fill="#fde3d4"/>
<rect x="532.41" y="74.58" width="3.00" height="4.08" fill="#ffffff"/>
<rect x="535.41" y="74.58" width="3.00" height="4.08" fill="#fbcbb3"/>
<rect x="538.41" y="74.58" width="3.00" height="4.08" fill="#fde3d4"/>
<rect x="424.49" y="78.66" width="3.00" height="4.08" fill="#d6e8f3"/>
<rect x="427.49" y="78.66" width="14.99" height="4.08" fill="#e3e3e3"/>
<rect x="445.47" y="78.66" width="83.94" height="4.08" fill="#ffffff"/>
<rect x="529.41" y="78.66" width="3.00" height="4.08" fill="#fde3d4"/>
<rect x="532.41" y="78.66" width="3.00" height="4.08" fill="#ffffff"/>
<rect x="535.41" y="78.66" width="3.00" height="4.08" fill="#fbcbb3"/>
<rect x="538.41" y="78.66" width="3.00" height="4.08" fill="#fde3d4"/>
<rect x="424.49" y="82.74" width="3.00" height="4.08" fill="#d6e8f3"/>
<rect x="427.49" y="82.74" width="6.00" height="4.08" fill="#ffffff"/>
<rect x="436.48" y="82.74" width="3.00" height="4.08" fill="#e3e3e3"/>
<rect x="445.47" y="82.74" width="3.00" height="4.08" fill="#e3e3e3"/>
<rect x="454.47" y="82.74" width="3.00" height="4.08" fill="#e3e3e3"/>
<rect x="463.46" y="82.74" width="3.00" height="4.08" fill="#e3e3e3"/>
<rect x="475.45" y="82.74" width="3.00" height="4.08" fill="#e3e3e3"/>
<rect x="484.44" y="82.74" width="6.00" height="4.08" fill="#e3e3e3"/>
<rect x="490.44" y="82.74" width="6.00" height="4.08" fill="#ffffff"/>
<rect x="496.44" y="82.74" width="3.00" height="4.08" fill="#e3e3e3"/>
<rect x="499.43" y="82.74" width="17.99" height="4.08" fill="#ffffff"/>
<rect x="517.42" y="82.74" width="3.00" height="4.08" fill="#d6e8f3"/>
<rect x="520.42" y="82.74" width="6.00" height="4.08" fill="#ffffff"/>
<rect x="526.41" y="82.74" width="3.00" height="4.08" fill="#fde3d4"/>
<rect x="424.49" y="86.83" width="3.00" height="4.08" fill="#d6e8f3"/>
<rect x="427.49" y="86.83" width="6.00" height="4.08" fill="#ffffff"/>
<rect x="436.48" y="86.83" width="3.00" height="4.08" fill="#e3e3e3"/>
<rect x="445.47" y="86.83" width="3.00" height="4.08" fill="#e3e3e3"/>
<rect x="454.47" y="86.83" width="3.00" height="4.08" fill="#e3e3e3"/>
<rect x="463.46" y="86.83" width="3.00" height="4.08" fill="#e3e3e3"/>
<rect x="475.45" y="86.83" width="3.00" height="4.08" fill="#e3e3e3"/>
<rect x="484.44" y="86.83" width="6.00" height="4.08" fill="#e3e3e3"/>
<rect x="490.44" y="86.83" width="6.00" height="4.08" fill="#ffffff"/>
<rect x="496.44" y="86.83" width="3.00" height="4.08" fill="#e3e3e3"/>
<rect x="499.43" y="86.83" width="17.99" height="4.08" fill="#ffffff"/>
<rect x="517.42" y="86.83" width="3.00" height="4.08" fill="#d6e8f3"/>
<rect x="520.42" y="86.83" width="6.00" height="4.08" fill="#ffffff"/>
<rect x="526.41" y="86.83" width="3.00" height="4.08" fill="#fde3d4"/>
<rect x="424.49" y="90.91" width="3.00" height="5.08" fill="#d6e8f3"/>
<rect x="427.49" y="90.91" width="6.00" height="5.08" fill="#ffffff"/>
<rect x="436.48" y="90.91" width="3.00" height="5.08" fill="#e3e3e3"/>
<rect x="445.47" y="90.91" width="3.00" height="5.08" fill="#e3e3e3"/>
<rect x="454.47" y="90.91" width="3.00" height="5.08" fill="#e3e3e3"/>
<rect x="463.46" y="90.91" width="3.00" height="5.08" fill="#e3e3e3"/>
<rect x="475.45" y="90.91" width="3.00" height="5.08" fill="#e3e3e3"/>
<rect x="484.44" y="90.91" width="6.00" height="5.08" fill="#e3e3e3"/>
<rect x="490.44" y="90.91" width="6.00" height="5.08" fill="#ffffff"/>
<rect x="496.44" y="90.91" width="3.00" height="5.08" fill="#e3e3e3"/>
<rect x="499.43" y="90.91" width="17.99" height="5.08" fill="#ffffff"/>
<rect x="517.42" y="90.91" width="3.00" height="5.08" fill="#d6e8f3"/>
<rect x="520.42" y="90.91" width="6.00" height="5.08" fill="#ffffff"/>
<rect x="526.41" y="90.91" width="3.00" height="5.08" fill="#fde3d4"/>
</g>
<path d="M456,38 L457.2,29.4 L458.3,26 L460.7,21.3 L461.8,19 L465.3,17.8 L468.8,16.7 L470.5,17.5 L472,16 L473.5,17.2 L475,16 L476.5,16.8 L478,16 L479.6,16.8 L482,19.2 L484.4,16.8 L488,18 L492.7,19.2 L495.1,21.6 L497.5,25.2 L501.1,26.4 L504.7,30 L507.1,28.7 L509.5,25.2 L510.7,24" fill="none" stroke="#141414" stroke-width="0.85" stroke-linejoin="round"/>
<path d="M511.9,15.6 L514.3,16.8 L516.7,21.6 L517.9,27.6 L518.5,33.5 L517.9,40 L519,48 L521,56 L522,62" fill="none" stroke="#141414" stroke-width="0.85" stroke-linejoin="round"/>
<path d="M508.5,20.5 C508.5,19 512,19 512,20.5 C512,22 508.5,22 508.5,20.5 Z" fill="none" stroke="#141414" stroke-width="0.85" stroke-linejoin="round"/>
<path d="M468.4,38.9 L471,38 L473.4,36.4 L475.9,34 L478,33 L480.9,31.5 L483,32.5 L485.9,31.5 L488.4,34 L490.9,38.9 L492.1,43.9 L491,47 L490.9,51.4 L488.4,57.6 L485.5,59 L483.4,61.4 L478.4,63.9 L474.7,61.4 L472.2,56.4 L470,54 L468.4,51.4 L465.9,46.4 L467,44 L465.9,41.4 Z" fill="none" stroke="#141414" stroke-width="0.85" stroke-linejoin="round"/>
<path d="M459.7,19 L459.7,25.2" fill="none" stroke="#141414" stroke-width="0.85" stroke-linejoin="round"/>
<path d="M490,43 C490,41.5 493,41.5 493,43 C493,44.5 490,44.5 490,43 Z" fill="none" stroke="#141414" stroke-width="0.85" stroke-linejoin="round"/>
<path d="M529,30 L527.5,35 L527.8,40 L529,44 L531,40 L531.3,35 L529,30 Z" fill="none" stroke="#141414" stroke-width="0.85" stroke-linejoin="round"/>
<path d="M524,42 C524,40 527,40 527,42 C527,44 524,44 524,42 Z" fill="none" stroke="#141414" stroke-width="0.85" stroke-linejoin="round"/>
<path d="M528,45 C528,43 531,43 531,45 C531,47 528,47 528,45 Z" fill="none" stroke="#141414" stroke-width="0.85" stroke-linejoin="round"/>
<path d="M526,46 L526.5,52" fill="none" stroke="#141414" stroke-width="0.85" stroke-linejoin="round"/>
<path d="M421,16 C421,14 425,14 425,16 C425,18 421,18 421,16 Z" fill="none" stroke="#141414" stroke-width="0.85" stroke-linejoin="round"/>
<path d="M424,19 C424,17.5 428,17.5 428,19 C428,20.5 424,20.5 424,19 Z" fill="none" stroke="#141414" stroke-width="0.85" stroke-linejoin="round"/>
<path d="M426,14 L429,18 L430,21" fill="none" stroke="#141414" stroke-width="0.85" stroke-linejoin="round"/>
<path d="M436,24 C436,22 440,22 440,24 C440,26 436,26 436,24 Z" fill="none" stroke="#141414" stroke-width="0.85" stroke-linejoin="round"/>
<path d="M437,27.5 C437,25.5 441,25.5 441,27.5 C441,29.5 437,29.5 437,27.5 Z" fill="none" stroke="#141414" stroke-width="0.85" stroke-linejoin="round"/>
<path d="M440,20 L441,23 M441,29.5 L442,33 L443,38" fill="none" stroke="#141414" stroke-width="0.85" stroke-linejoin="round"/>
<path d="M434,20 L434.5,24" fill="none" stroke="#141414" stroke-width="0.85" stroke-linejoin="round"/>
<path d="M444,44 C444,42.5 448,42.5 448,44 C448,45.5 444,45.5 444,44 Z" fill="none" stroke="#141414" stroke-width="0.85" stroke-linejoin="round"/>
<path d="M445,47 C445,45.5 449,45.5 449,47 C449,48.5 445,48.5 445,47 Z" fill="none" stroke="#141414" stroke-width="0.85" stroke-linejoin="round"/>
<path d="M445.5,48.5 L446,54 M446,56 C446,54.5 449,54.5 449,56 C449,57.5 446,57.5 446,56 Z" fill="none" stroke="#141414" stroke-width="0.85" stroke-linejoin="round"/>
<path d="M446,58 L446.5,64" fill="none" stroke="#141414" stroke-width="0.85" stroke-linejoin="round"/>
<path d="M456,51 C456,49.5 459,49.5 459,51 C459,52.5 456,52.5 456,51 Z" fill="none" stroke="#141414" stroke-width="0.85" stroke-linejoin="round"/>
<path d="M463,45 C463,43.5 466,43.5 466,45 C466,46.5 463,46.5 463,45 Z" fill="none" stroke="#141414" stroke-width="0.85" stroke-linejoin="round"/>
<path d="M463,47 L464,55 L466,58 M463,58 C463,56.5 466,56.5 466,58 C466,59.5 463,59.5 463,58 Z" fill="none" stroke="#141414" stroke-width="0.85" stroke-linejoin="round"/>
<path d="M425,53 C425,51.5 429,51.5 429,53 C429,54.5 425,54.5 425,53 Z" fill="none" stroke="#141414" stroke-width="0.85" stroke-linejoin="round"/>
<path d="M425.8,78.5 C425.8,77 430.4,77 430.4,78.5 C430.4,80 425.8,80 425.8,78.5 Z" fill="none" stroke="#141414" stroke-width="0.85" stroke-linejoin="round"/>
<path d="M427.5,80 L427,95" fill="none" stroke="#141414" stroke-width="0.85" stroke-linejoin="round"/>
<path d="M427.5,42 L427.5,50 M427.5,56 L427,66" fill="none" stroke="#141414" stroke-width="0.85" stroke-linejoin="round"/>
<path d="M446,75 L447,79" fill="none" stroke="#141414" stroke-width="0.85" stroke-linejoin="round"/>
<path d="M460,73 L461,80" fill="none" stroke="#141414" stroke-width="0.85" stroke-linejoin="round"/>
<path d="M467,74 C467,72.5 470,72.5 470,74 C470,75.5 467,75.5 467,74 Z" fill="none" stroke="#141414" stroke-width="0.85" stroke-linejoin="round"/>
<path d="M478,73 C478,71.5 481,71.5 481,73 C481,74.5 478,74.5 478,73 Z" fill="none" stroke="#141414" stroke-width="0.85" stroke-linejoin="round"/>
<path d="M476,84 L478,86 L477,90" fill="none" stroke="#141414" stroke-width="0.85" stroke-linejoin="round"/>
<path d="M497,69 L497.5,80" fill="none" stroke="#141414" stroke-width="0.85" stroke-linejoin="round"/>
<path d="M496,68 C496,66.5 499,66.5 499,68 C499,69.5 496,69.5 496,68 Z" fill="none" stroke="#141414" stroke-width="0.85" stroke-linejoin="round"/>
<path d="M521,70 C521,68 525,68 525,70 C525,72 521,72 521,70 Z" fill="none" stroke="#141414" stroke-width="0.85" stroke-linejoin="round"/>
<path d="M523,72 L523,80" fill="none" stroke="#141414" stroke-width="0.85" stroke-linejoin="round"/>
<path d="M521,81 C521,79.5 525,79.5 525,81 C525,82.5 521,82.5 521,81 Z" fill="none" stroke="#141414" stroke-width="0.85" stroke-linejoin="round"/>
<path d="M523,82 L522,90 L521,94 M525,87 L524.5,94" fill="none" stroke="#141414" stroke-width="0.85" stroke-linejoin="round"/>
<path d="M515,82 L514.5,86" fill="none" stroke="#141414" stroke-width="0.85" stroke-linejoin="round"/>
<ellipse cx="425.0" cy="16.5" rx="2.4" ry="1.6" fill="none" stroke="#141414" stroke-width="0.85"/>
<ellipse cx="438.0" cy="25.8" rx="2.4" ry="1.6" fill="none" stroke="#141414" stroke-width="0.85"/>
<ellipse cx="443.8" cy="45.0" rx="2.0" ry="1.6" fill="none" stroke="#141414" stroke-width="0.85"/>
<ellipse cx="448.5" cy="56.5" rx="1.6" ry="1.8" fill="none" stroke="#141414" stroke-width="0.85"/>
<ellipse cx="457.8" cy="44.5" rx="1.7" ry="1.5" fill="none" stroke="#141414" stroke-width="0.85"/>
<ellipse cx="464.4" cy="55.6" rx="2.4" ry="1.5" fill="none" stroke="#141414" stroke-width="0.85"/>
<ellipse cx="466.0" cy="67.0" rx="2.4" ry="1.5" fill="none" stroke="#141414" stroke-width="0.85"/>
<ellipse cx="477.4" cy="66.8" rx="2.4" ry="1.5" fill="none" stroke="#141414" stroke-width="0.85"/>
<ellipse cx="479.0" cy="75.0" rx="2.4" ry="1.4" fill="none" stroke="#141414" stroke-width="0.85"/>
<ellipse cx="438.0" cy="66.0" rx="2.4" ry="1.4" fill="none" stroke="#141414" stroke-width="0.85"/>
<path d="M441,30 L441.5,40" fill="none" stroke="#141414" stroke-width="0.85" stroke-linejoin="round"/>
<path d="M446,60 L446.5,70" fill="none" stroke="#141414" stroke-width="0.85" stroke-linejoin="round"/>
<path d="M452,48 L452.5,58 L452,66" fill="none" stroke="#141414" stroke-width="0.85" stroke-linejoin="round"/>
<path d="M459,60 L459.5,70" fill="none" stroke="#141414" stroke-width="0.85" stroke-linejoin="round"/>
<path d="M470,70 L470.5,80" fill="none" stroke="#141414" stroke-width="0.85" stroke-linejoin="round"/>
<path d="M483,70 L483.5,78" fill="none" stroke="#141414" stroke-width="0.85" stroke-linejoin="round"/>
<path d="M430,30 L430.5,40" fill="none" stroke="#141414" stroke-width="0.85" stroke-linejoin="round"/>
<text transform="translate(403.3,17.20) scale(1,1.12)" font-size="7.8" text-anchor="end" fill="#333">0</text>
<text transform="translate(403.3,37.62) scale(1,1.12)" font-size="7.8" text-anchor="end" fill="#333">-500</text>
<text transform="translate(403.3,58.05) scale(1,1.12)" font-size="7.8" text-anchor="end" fill="#333">-1000</text>
<text transform="translate(403.3,78.48) scale(1,1.12)" font-size="7.8" text-anchor="end" fill="#333">-1500</text>
<text transform="translate(403.3,98.90) scale(1,1.12)" font-size="7.8" text-anchor="end" fill="#333">-2000</text>
<text transform="translate(437.81,106.90) scale(1,1.12)" font-size="7.8" text-anchor="middle" fill="#333">-50</text>
<text transform="translate(476.95,106.90) scale(1,1.12)" font-size="7.8" text-anchor="middle" fill="#333">0</text>
<text transform="translate(516.09,106.90) scale(1,1.12)" font-size="7.8" text-anchor="middle" fill="#333">50</text>
<text transform="translate(476.95,115.00) scale(1,1.12)" font-size="8" text-anchor="middle" fill="#333">Latitude [° N]</text>
<text transform="translate(379.90,54.15) rotate(-90) scale(1,1.12)" font-size="8" text-anchor="middle" fill="#333">Depth [m]</text>
<text transform="translate(476.95,7.20) scale(1,1.12)" font-size="8" font-weight="bold" text-anchor="middle" fill="#111" stroke="#111" stroke-width="0.2">NAT</text>
<text x="543.60" y="7.00" font-size="6.4" font-weight="bold" text-anchor="end" fill="#222" stroke="#222" stroke-width="0.25">(corr = 0.46)</text>
<text transform="translate(388.0,10.8) scale(1,1.12)" font-size="7.8" font-weight="bold" fill="#111">c</text>
<rect x="34.4" y="135.6" width="141.0" height="82.20000000000002" fill="#cbcbcb" stroke="#7a7a7a" stroke-width="0.8"/>
<line x1="34.4" x2="35.8" y1="156.15" y2="156.15" stroke="#555" stroke-width="0.5"/>
<line x1="175.4" x2="174.0" y1="156.15" y2="156.15" stroke="#555" stroke-width="0.5"/>
<line x1="34.4" x2="35.8" y1="176.70" y2="176.70" stroke="#555" stroke-width="0.5"/>
<line x1="175.4" x2="174.0" y1="176.70" y2="176.70" stroke="#555" stroke-width="0.5"/>
<line x1="34.4" x2="35.8" y1="197.25" y2="197.25" stroke="#555" stroke-width="0.5"/>
<line x1="175.4" x2="174.0" y1="197.25" y2="197.25" stroke="#555" stroke-width="0.5"/>
<line x1="65.73" x2="65.73" y1="217.8" y2="216.4" stroke="#555" stroke-width="0.5"/>
<line x1="65.73" x2="65.73" y1="135.6" y2="137.0" stroke="#555" stroke-width="0.5"/>
<line x1="104.90" x2="104.90" y1="217.8" y2="216.4" stroke="#555" stroke-width="0.5"/>
<line x1="104.90" x2="104.90" y1="135.6" y2="137.0" stroke="#555" stroke-width="0.5"/>
<line x1="144.07" x2="144.07" y1="217.8" y2="216.4" stroke="#555" stroke-width="0.5"/>
<line x1="144.07" x2="144.07" y1="135.6" y2="137.0" stroke="#555" stroke-width="0.5"/>
<clipPath id="cpd"><rect x="34.4" y="134.6" width="141.00" height="84.20"/></clipPath>
<g clip-path="url(#cpd)" shape-rendering="crispEdges">
<rect x="43.40" y="134.60" width="3.00" height="5.11" fill="#2f72b0"/>
<rect x="46.40" y="134.60" width="3.00" height="5.11" fill="#5fa3d0"/>
<rect x="49.40" y="134.60" width="33.00" height="5.11" fill="#f6ae91"/>
<rect x="82.40" y="134.60" width="9.00" height="5.11" fill="#d65a4a"/>
<rect x="91.40" y="134.60" width="12.00" height="5.11" fill="#f6ae91"/>
<rect x="103.40" y="134.60" width="45.00" height="5.11" fill="#ec9072"/>
<rect x="148.40" y="134.60" width="9.00" height="5.11" fill="#e2745c"/>
<rect x="157.40" y="134.60" width="3.00" height="5.11" fill="#d65a4a"/>
<rect x="160.40" y="134.60" width="6.00" height="5.11" fill="#b0132c"/>
<rect x="166.40" y="134.60" width="3.00" height="5.11" fill="#c6343c"/>
<rect x="43.40" y="139.71" width="3.00" height="4.11" fill="#2f72b0"/>
<rect x="46.40" y="139.71" width="3.00" height="4.11" fill="#5fa3d0"/>
<rect x="49.40" y="139.71" width="3.00" height="4.11" fill="#a9d0e6"/>
<rect x="52.40" y="139.71" width="30.00" height="4.11" fill="#f6ae91"/>
<rect x="82.40" y="139.71" width="9.00" height="4.11" fill="#ec9072"/>
<rect x="91.40" y="139.71" width="57.00" height="4.11" fill="#f6ae91"/>
<rect x="148.40" y="139.71" width="6.00" height="4.11" fill="#ec9072"/>
<rect x="154.40" y="139.71" width="3.00" height="4.11" fill="#f6ae91"/>
<rect x="157.40" y="139.71" width="3.00" height="4.11" fill="#ec9072"/>
<rect x="160.40" y="139.71" width="6.00" height="4.11" fill="#c6343c"/>
<rect x="166.40" y="139.71" width="3.00" height="4.11" fill="#d65a4a"/>
<rect x="43.40" y="143.82" width="3.00" height="4.11" fill="#5fa3d0"/>
<rect x="46.40" y="143.82" width="3.00" height="4.11" fill="#ffffff"/>
<rect x="49.40" y="143.82" width="3.00" height="4.11" fill="#a9d0e6"/>
<rect x="52.40" y="143.82" width="6.00" height="4.11" fill="#f6ae91"/>
<rect x="58.40" y="143.82" width="3.00" height="4.11" fill="#fbcbb3"/>
<rect x="61.40" y="143.82" width="9.00" height="4.11" fill="#f6ae91"/>
<rect x="70.40" y="143.82" width="3.00" height="4.11" fill="#fbcbb3"/>
<rect x="73.40" y="143.82" width="21.00" height="4.11" fill="#f6ae91"/>
<rect x="94.40" y="143.82" width="6.00" height="4.11" fill="#fbcbb3"/>
<rect x="100.40" y="143.82" width="27.00" height="4.11" fill="#f6ae91"/>
<rect x="127.40" y="143.82" width="30.00" height="4.11" fill="#fbcbb3"/>
<rect x="157.40" y="143.82" width="3.00" height="4.11" fill="#f6ae91"/>
<rect x="160.40" y="143.82" width="3.00" height="4.11" fill="#e2745c"/>
<rect x="163.40" y="143.82" width="6.00" height="4.11" fill="#f6ae91"/>
<rect x="43.40" y="147.93" width="3.00" height="4.11" fill="#a9d0e6"/>
<rect x="46.40" y="147.93" width="3.00" height="4.11" fill="#ffffff"/>
<rect x="49.40" y="147.93" width="3.00" height="4.11" fill="#a9d0e6"/>
<rect x="52.40" y="147.93" width="33.00" height="4.11" fill="#fbcbb3"/>
<rect x="85.40" y="147.93" width="3.00" height="4.11" fill="#a9d0e6"/>
<rect x="88.40" y="147.93" width="3.00" height="4.11" fill="#5fa3d0"/>
<rect x="91.40" y="147.93" width="3.00" height="4.11" fill="#a9d0e6"/>
<rect x="94.40" y="147.93" width="24.00" height="4.11" fill="#fbcbb3"/>
<rect x="118.40" y="147.93" width="6.00" height="4.11" fill="#d6e8f3"/>
<rect x="124.40" y="147.93" width="6.00" height="4.11" fill="#fbcbb3"/>
<rect x="130.40" y="147.93" width="3.00" height="4.11" fill="#fde3d4"/>
<rect x="133.40" y="147.93" width="9.00" height="4.11" fill="#fbcbb3"/>
<rect x="142.40" y="147.93" width="3.00" height="4.11" fill="#fde3d4"/>
<rect x="145.40" y="147.93" width="6.00" height="4.11" fill="#fbcbb3"/>
<rect x="151.40" y="147.93" width="3.00" height="4.11" fill="#fde3d4"/>
<rect x="154.40" y="147.93" width="6.00" height="4.11" fill="#a9d0e6"/>
<rect x="160.40" y="147.93" width="3.00" height="4.11" fill="#5fa3d0"/>
<rect x="163.40" y="147.93" width="6.00" height="4.11" fill="#f6ae91"/>
<rect x="43.40" y="152.04" width="3.00" height="4.11" fill="#a9d0e6"/>
<rect x="46.40" y="152.04" width="6.00" height="4.11" fill="#ffffff"/>
<rect x="52.40" y="152.04" width="6.00" height="4.11" fill="#fbcbb3"/>
<rect x="58.40" y="152.04" width="3.00" height="4.11" fill="#fde3d4"/>
<rect x="61.40" y="152.04" width="9.00" height="4.11" fill="#fbcbb3"/>
<rect x="70.40" y="152.04" width="3.00" height="4.11" fill="#a9d0e6"/>
<rect x="73.40" y="152.04" width="3.00" height="4.11" fill="#fbcbb3"/>
<rect x="76.40" y="152.04" width="3.00" height="4.11" fill="#fde3d4"/>
<rect x="79.40" y="152.04" width="3.00" height="4.11" fill="#fbcbb3"/>
<rect x="82.40" y="152.04" width="3.00" height="4.11" fill="#a9d0e6"/>
<rect x="85.40" y="152.04" width="6.00" height="4.11" fill="#5fa3d0"/>
<rect x="91.40" y="152.04" width="3.00" height="4.11" fill="#fde3d4"/>
<rect x="94.40" y="152.04" width="3.00" height="4.11" fill="#fbcbb3"/>
<rect x="97.40" y="152.04" width="3.00" height="4.11" fill="#fde3d4"/>
<rect x="100.40" y="152.04" width="3.00" height="4.11" fill="#fbcbb3"/>
<rect x="103.40" y="152.04" width="3.00" height="4.11" fill="#fde3d4"/>
<rect x="106.40" y="152.04" width="3.00" height="4.11" fill="#fbcbb3"/>
<rect x="109.40" y="152.04" width="9.00" height="4.11" fill="#fde3d4"/>
<rect x="118.40" y="152.04" width="6.00" height="4.11" fill="#a9d0e6"/>
<rect x="124.40" y="152.04" width="6.00" height="4.11" fill="#fde3d4"/>
<rect x="130.40" y="152.04" width="3.00" height="4.11" fill="#fbcbb3"/>
<rect x="133.40" y="152.04" width="21.00" height="4.11" fill="#fde3d4"/>
<rect x="154.40" y="152.04" width="3.00" height="4.11" fill="#5fa3d0"/>
<rect x="157.40" y="152.04" width="3.00" height="4.11" fill="#a9d0e6"/>
<rect x="160.40" y="152.04" width="3.00" height="4.11" fill="#2f72b0"/>
<rect x="163.40" y="152.04" width="3.00" height="4.11" fill="#a9d0e6"/>
<rect x="166.40" y="152.04" width="3.00" height="4.11" fill="#fbcbb3"/>
<rect x="46.40" y="156.15" width="3.00" height="4.11" fill="#ffffff"/>
<rect x="49.40" y="156.15" width="6.00" height="4.11" fill="#fde3d4"/>
<rect x="55.40" y="156.15" width="3.00" height="4.11" fill="#fbcbb3"/>
<rect x="58.40" y="156.15" width="6.00" height="4.11" fill="#fde3d4"/>
<rect x="64.40" y="156.15" width="3.00" height="4.11" fill="#fbcbb3"/>
<rect x="67.40" y="156.15" width="3.00" height="4.11" fill="#fde3d4"/>
<rect x="70.40" y="156.15" width="3.00" height="4.11" fill="#a9d0e6"/>
<rect x="73.40" y="156.15" width="9.00" height="4.11" fill="#fde3d4"/>
<rect x="82.40" y="156.15" width="3.00" height="4.11" fill="#a9d0e6"/>
<rect x="85.40" y="156.15" width="6.00" height="4.11" fill="#5fa3d0"/>
<rect x="91.40" y="156.15" width="24.00" height="4.11" fill="#fde3d4"/>
<rect x="115.40" y="156.15" width="3.00" height="4.11" fill="#ffffff"/>
<rect x="118.40" y="156.15" width="3.00" height="4.11" fill="#a9d0e6"/>
<rect x="121.40" y="156.15" width="3.00" height="4.11" fill="#5fa3d0"/>
<rect x="124.40" y="156.15" width="3.00" height="4.11" fill="#ffffff"/>
<rect x="127.40" y="156.15" width="24.00" height="4.11" fill="#fde3d4"/>
<rect x="151.40" y="156.15" width="3.00" height="4.11" fill="#d6e8f3"/>
<rect x="154.40" y="156.15" width="3.00" height="4.11" fill="#5fa3d0"/>
<rect x="157.40" y="156.15" width="3.00" height="4.11" fill="#a9d0e6"/>
<rect x="160.40" y="156.15" width="3.00" height="4.11" fill="#2f72b0"/>
<rect x="163.40" y="156.15" width="3.00" height="4.11" fill="#0c3c71"/>
<rect x="166.40" y="156.15" width="3.00" height="4.11" fill="#a9d0e6"/>
<rect x="46.40" y="160.26" width="3.00" height="4.11" fill="#ffffff"/>
<rect x="49.40" y="160.26" width="21.00" height="4.11" fill="#fde3d4"/>
<rect x="70.40" y="160.26" width="3.00" height="4.11" fill="#a9d0e6"/>
<rect x="73.40" y="160.26" width="3.00" height="4.11" fill="#ffffff"/>
<rect x="76.40" y="160.26" width="3.00" height="4.11" fill="#fde3d4"/>
<rect x="79.40" y="160.26" width="12.00" height="4.11" fill="#a9d0e6"/>
<rect x="91.40" y="160.26" width="21.00" height="4.11" fill="#fde3d4"/>
<rect x="112.40" y="160.26" width="6.00" height="4.11" fill="#ffffff"/>
<rect x="118.40" y="160.26" width="3.00" height="4.11" fill="#a9d0e6"/>
<rect x="121.40" y="160.26" width="3.00" height="4.11" fill="#5fa3d0"/>
<rect x="124.40" y="160.26" width="3.00" height="4.11" fill="#ffffff"/>
<rect x="127.40" y="160.26" width="21.00" height="4.11" fill="#fde3d4"/>
<rect x="148.40" y="160.26" width="3.00" height="4.11" fill="#ffffff"/>
<rect x="151.40" y="160.26" width="3.00" height="4.11" fill="#d6e8f3"/>
<rect x="154.40" y="160.26" width="6.00" height="4.11" fill="#5fa3d0"/>
<rect x="160.40" y="160.26" width="6.00" height="4.11" fill="#2f72b0"/>
<rect x="166.40" y="160.26" width="3.00" height="4.11" fill="#a9d0e6"/>
<rect x="49.40" y="164.37" width="3.00" height="4.11" fill="#ffffff"/>
<rect x="52.40" y="164.37" width="3.00" height="4.11" fill="#fde3d4"/>
<rect x="55.40" y="164.37" width="3.00" height="4.11" fill="#e3e3e3"/>
<rect x="58.40" y="164.37" width="3.00" height="4.11" fill="#fde3d4"/>
<rect x="61.40" y="164.37" width="3.00" height="4.11" fill="#a9d0e6"/>
<rect x="67.40" y="164.37" width="3.00" height="4.11" fill="#fde3d4"/>
<rect x="70.40" y="164.37" width="3.00" height="4.11" fill="#fbcbb3"/>
<rect x="73.40" y="164.37" width="3.00" height="4.11" fill="#f6ae91"/>
<rect x="76.40" y="164.37" width="3.00" height="4.11" fill="#fde3d4"/>
<rect x="79.40" y="164.37" width="3.00" height="4.11" fill="#a9d0e6"/>
<rect x="82.40" y="164.37" width="3.00" height="4.11" fill="#fde3d4"/>
<rect x="85.40" y="164.37" width="3.00" height="4.11" fill="#a9d0e6"/>
<rect x="88.40" y="164.37" width="3.00" height="4.11" fill="#5fa3d0"/>
<rect x="91.40" y="164.37" width="12.00" height="4.11" fill="#fde3d4"/>
<rect x="103.40" y="164.37" width="9.00" height="4.11" fill="#fbcbb3"/>
<rect x="112.40" y="164.37" width="6.00" height="4.11" fill="#fde3d4"/>
<rect x="118.40" y="164.37" width="3.00" height="4.11" fill="#5fa3d0"/>
<rect x="121.40" y="164.37" width="3.00" height="4.11" fill="#a9d0e6"/>
<rect x="124.40" y="164.37" width="27.00" height="4.11" fill="#fde3d4"/>
<rect x="151.40" y="164.37" width="3.00" height="4.11" fill="#ffffff"/>
<rect x="154.40" y="164.37" width="3.00" height="4.11" fill="#fbcbb3"/>
<rect x="157.40" y="164.37" width="3.00" height="4.11" fill="#5fa3d0"/>
<rect x="160.40" y="164.37" width="3.00" height="4.11" fill="#2f72b0"/>
<rect x="163.40" y="164.37" width="3.00" height="4.11" fill="#5fa3d0"/>
<rect x="166.40" y="164.37" width="3.00" height="4.11" fill="#fbcbb3"/>
<rect x="49.40" y="168.48" width="3.00" height="4.11" fill="#ffffff"/>
<rect x="52.40" y="168.48" width="3.00" height="4.11" fill="#fde3d4"/>
<rect x="55.40" y="168.48" width="3.00" height="4.11" fill="#e3e3e3"/>
<rect x="58.40" y="168.48" width="3.00" height="4.11" fill="#fde3d4"/>
<rect x="61.40" y="168.48" width="3.00" height="4.11" fill="#a9d0e6"/>
<rect x="64.40" y="168.48" width="3.00" height="4.11" fill="#ffffff"/>
<rect x="67.40" y="168.48" width="3.00" height="4.11" fill="#a9d0e6"/>
<rect x="70.40" y="168.48" width="3.00" height="4.11" fill="#fbcbb3"/>
<rect x="73.40" y="168.48" width="3.00" height="4.11" fill="#f6ae91"/>
<rect x="76.40" y="168.48" width="3.00" height="4.11" fill="#fde3d4"/>
<rect x="79.40" y="168.48" width="3.00" height="4.11" fill="#a9d0e6"/>
<rect x="82.40" y="168.48" width="6.00" height="4.11" fill="#fde3d4"/>
<rect x="88.40" y="168.48" width="3.00" height="4.11" fill="#a9d0e6"/>
<rect x="91.40" y="168.48" width="15.00" height="4.11" fill="#fde3d4"/>
<rect x="106.40" y="168.48" width="6.00" height="4.11" fill="#fbcbb3"/>
<rect x="112.40" y="168.48" width="36.00" height="4.11" fill="#fde3d4"/>
<rect x="148.40" y="168.48" width="3.00" height="4.11" fill="#ffffff"/>
<rect x="151.40" y="168.48" width="3.00" height="4.11" fill="#fde3d4"/>
<rect x="154.40" y="168.48" width="3.00" height="4.11" fill="#fbcbb3"/>
<rect x="157.40" y="168.48" width="3.00" height="4.11" fill="#5fa3d0"/>
<rect x="160.40" y="168.48" width="3.00" height="4.11" fill="#2f72b0"/>
<rect x="163.40" y="168.48" width="3.00" height="4.11" fill="#a9d0e6"/>
<rect x="166.40" y="168.48" width="3.00" height="4.11" fill="#fbcbb3"/>
<rect x="46.40" y="172.59" width="6.00" height="4.11" fill="#e3e3e3"/>
<rect x="52.40" y="172.59" width="3.00" height="4.11" fill="#fde3d4"/>
<rect x="55.40" y="172.59" width="3.00" height="4.11" fill="#e3e3e3"/>
<rect x="58.40" y="172.59" width="6.00" height="4.11" fill="#fde3d4"/>
<rect x="64.40" y="172.59" width="3.00" height="4.11" fill="#ffffff"/>
<rect x="67.40" y="172.59" width="3.00" height="4.11" fill="#a9d0e6"/>
<rect x="70.40" y="172.59" width="6.00" height="4.11" fill="#fbcbb3"/>
<rect x="76.40" y="172.59" width="30.00" height="4.11" fill="#fde3d4"/>
<rect x="106.40" y="172.59" width="3.00" height="4.11" fill="#fbcbb3"/>
<rect x="109.40" y="172.59" width="36.00" height="4.11" fill="#fde3d4"/>
<rect x="145.40" y="172.59" width="6.00" height="4.11" fill="#ffffff"/>
<rect x="151.40" y="172.59" width="3.00" height="4.11" fill="#fde3d4"/>
<rect x="154.40" y="172.59" width="3.00" height="4.11" fill="#fbcbb3"/>
<rect x="157.40" y="172.59" width="3.00" height="4.11" fill="#a9d0e6"/>
<rect x="160.40" y="172.59" width="3.00" height="4.11" fill="#5fa3d0"/>
<rect x="163.40" y="172.59" width="6.00" height="4.11" fill="#fbcbb3"/>
<rect x="46.40" y="176.70" width="6.00" height="4.11" fill="#e3e3e3"/>
<rect x="52.40" y="176.70" width="3.00" height="4.11" fill="#fde3d4"/>
<rect x="55.40" y="176.70" width="3.00" height="4.11" fill="#e3e3e3"/>
<rect x="58.40" y="176.70" width="6.00" height="4.11" fill="#fde3d4"/>
<rect x="64.40" y="176.70" width="3.00" height="4.11" fill="#e3e3e3"/>
<rect x="67.40" y="176.70" width="3.00" height="4.11" fill="#fde3d4"/>
<rect x="70.40" y="176.70" width="6.00" height="4.11" fill="#fbcbb3"/>
<rect x="76.40" y="176.70" width="45.00" height="4.11" fill="#fde3d4"/>
<rect x="121.40" y="176.70" width="3.00" height="4.11" fill="#ffffff"/>
<rect x="124.40" y="176.70" width="12.00" height="4.11" fill="#fde3d4"/>
<rect x="136.40" y="176.70" width="3.00" height="4.11" fill="#ffffff"/>
<rect x="139.40" y="176.70" width="6.00" height="4.11" fill="#fde3d4"/>
<rect x="145.40" y="176.70" width="6.00" height="4.11" fill="#ffffff"/>
<rect x="151.40" y="176.70" width="3.00" height="4.11" fill="#fde3d4"/>
<rect x="154.40" y="176.70" width="15.00" height="4.11" fill="#fbcbb3"/>
<rect x="46.40" y="180.81" width="6.00" height="4.11" fill="#e3e3e3"/>
<rect x="52.40" y="180.81" width="3.00" height="4.11" fill="#fde3d4"/>
<rect x="55.40" y="180.81" width="3.00" height="4.11" fill="#e3e3e3"/>
<rect x="58.40" y="180.81" width="3.00" height="4.11" fill="#fde3d4"/>
<rect x="61.40" y="180.81" width="3.00" height="4.11" fill="#5fa3d0"/>
<rect x="67.40" y="180.81" width="3.00" height="4.11" fill="#fde3d4"/>
<rect x="70.40" y="180.81" width="3.00" height="4.11" fill="#fbcbb3"/>
<rect x="73.40" y="180.81" width="9.00" height="4.11" fill="#fde3d4"/>
<rect x="82.40" y="180.81" width="3.00" height="4.11" fill="#a9d0e6"/>
<rect x="85.40" y="180.81" width="6.00" height="4.11" fill="#fde3d4"/>
<rect x="91.40" y="180.81" width="3.00" height="4.11" fill="#a9d0e6"/>
<rect x="94.40" y="180.81" width="3.00" height="4.11" fill="#fde3d4"/>
<rect x="97.40" y="180.81" width="3.00" height="4.11" fill="#ffffff"/>
<rect x="100.40" y="180.81" width="45.00" height="4.11" fill="#fde3d4"/>
<rect x="145.40" y="180.81" width="6.00" height="4.11" fill="#ffffff"/>
<rect x="151.40" y="180.81" width="3.00" height="4.11" fill="#fde3d4"/>
<rect x="154.40" y="180.81" width="15.00" height="4.11" fill="#fbcbb3"/>
<rect x="46.40" y="184.92" width="6.00" height="4.11" fill="#e3e3e3"/>
<rect x="52.40" y="184.92" width="3.00" height="4.11" fill="#fde3d4"/>
<rect x="55.40" y="184.92" width="3.00" height="4.11" fill="#e3e3e3"/>
<rect x="58.40" y="184.92" width="3.00" height="4.11" fill="#fde3d4"/>
<rect x="61.40" y="184.92" width="3.00" height="4.11" fill="#5fa3d0"/>
<rect x="64.40" y="184.92" width="3.00" height="4.11" fill="#ffffff"/>
<rect x="67.40" y="184.92" width="3.00" height="4.11" fill="#fde3d4"/>
<rect x="70.40" y="184.92" width="3.00" height="4.11" fill="#fbcbb3"/>
<rect x="73.40" y="184.92" width="9.00" height="4.11" fill="#fde3d4"/>
<rect x="82.40" y="184.92" width="3.00" height="4.11" fill="#a9d0e6"/>
<rect x="85.40" y="184.92" width="6.00" height="4.11" fill="#fde3d4"/>
<rect x="91.40" y="184.92" width="3.00" height="4.11" fill="#a9d0e6"/>
<rect x="94.40" y="184.92" width="6.00" height="4.11" fill="#fde3d4"/>
<rect x="100.40" y="184.92" width="3.00" height="4.11" fill="#ffffff"/>
<rect x="103.40" y="184.92" width="36.00" height="4.11" fill="#fde3d4"/>
<rect x="139.40" y="184.92" width="3.00" height="4.11" fill="#ffffff"/>
<rect x="142.40" y="184.92" width="3.00" height="4.11" fill="#fde3d4"/>
<rect x="145.40" y="184.92" width="3.00" height="4.11" fill="#ffffff"/>
<rect x="148.40" y="184.92" width="6.00" height="4.11" fill="#fde3d4"/>
<rect x="154.40" y="184.92" width="15.00" height="4.11" fill="#fbcbb3"/>
<rect x="46.40" y="189.03" width="3.00" height="4.11" fill="#fde3d4"/>
<rect x="49.40" y="189.03" width="3.00" height="4.11" fill="#e3e3e3"/>
<rect x="52.40" y="189.03" width="3.00" height="4.11" fill="#ffffff"/>
<rect x="55.40" y="189.03" width="6.00" height="4.11" fill="#fde3d4"/>
<rect x="61.40" y="189.03" width="9.00" height="4.11" fill="#e3e3e3"/>
<rect x="70.40" y="189.03" width="3.00" height="4.11" fill="#fde3d4"/>
<rect x="73.40" y="189.03" width="3.00" height="4.11" fill="#ffffff"/>
<rect x="76.40" y="189.03" width="9.00" height="4.11" fill="#fde3d4"/>
<rect x="85.40" y="189.03" width="3.00" height="4.11" fill="#a9d0e6"/>
<rect x="88.40" y="189.03" width="3.00" height="4.11" fill="#fde3d4"/>
<rect x="91.40" y="189.03" width="3.00" height="4.11" fill="#a9d0e6"/>
<rect x="94.40" y="189.03" width="15.00" height="4.11" fill="#fde3d4"/>
<rect x="109.40" y="189.03" width="3.00" height="4.11" fill="#ffffff"/>
<rect x="112.40" y="189.03" width="9.00" height="4.11" fill="#fde3d4"/>
<rect x="121.40" y="189.03" width="3.00" height="4.11" fill="#ffffff"/>
<rect x="124.40" y="189.03" width="33.00" height="4.11" fill="#fde3d4"/>
<rect x="157.40" y="189.03" width="3.00" height="4.11" fill="#fbcbb3"/>
<rect x="166.40" y="189.03" width="3.00" height="4.11" fill="#fbcbb3"/>
<rect x="46.40" y="193.14" width="3.00" height="4.11" fill="#fde3d4"/>
<rect x="49.40" y="193.14" width="3.00" height="4.11" fill="#e3e3e3"/>
<rect x="52.40" y="193.14" width="3.00" height="4.11" fill="#ffffff"/>
<rect x="55.40" y="193.14" width="6.00" height="4.11" fill="#fde3d4"/>
<rect x="61.40" y="193.14" width="9.00" height="4.11" fill="#e3e3e3"/>
<rect x="70.40" y="193.14" width="6.00" height="4.11" fill="#ffffff"/>
<rect x="76.40" y="193.14" width="3.00" height="4.11" fill="#fde3d4"/>
<rect x="79.40" y="193.14" width="3.00" height="4.11" fill="#a9d0e6"/>
<rect x="82.40" y="193.14" width="3.00" height="4.11" fill="#fde3d4"/>
<rect x="85.40" y="193.14" width="3.00" height="4.11" fill="#a9d0e6"/>
<rect x="88.40" y="193.14" width="3.00" height="4.11" fill="#fde3d4"/>
<rect x="91.40" y="193.14" width="6.00" height="4.11" fill="#a9d0e6"/>
<rect x="97.40" y="193.14" width="12.00" height="4.11" fill="#fde3d4"/>
<rect x="109.40" y="193.14" width="3.00" height="4.11" fill="#ffffff"/>
<rect x="112.40" y="193.14" width="9.00" height="4.11" fill="#fde3d4"/>
<rect x="121.40" y="193.14" width="3.00" height="4.11" fill="#ffffff"/>
<rect x="124.40" y="193.14" width="33.00" height="4.11" fill="#fde3d4"/>
<rect x="157.40" y="193.14" width="3.00" height="4.11" fill="#fbcbb3"/>
<rect x="166.40" y="193.14" width="3.00" height="4.11" fill="#fbcbb3"/>
<rect x="52.40" y="197.25" width="3.00" height="4.11" fill="#ffffff"/>
<rect x="55.40" y="197.25" width="6.00" height="4.11" fill="#fde3d4"/>
<rect x="64.40" y="197.25" width="3.00" height="4.11" fill="#2f72b0"/>
<rect x="70.40" y="197.25" width="3.00" height="4.11" fill="#ffffff"/>
<rect x="73.40" y="197.25" width="3.00" height="4.11" fill="#5fa3d0"/>
<rect x="76.40" y="197.25" width="3.00" height="4.11" fill="#fde3d4"/>
<rect x="79.40" y="197.25" width="3.00" height="4.11" fill="#a9d0e6"/>
<rect x="82.40" y="197.25" width="3.00" height="4.11" fill="#fde3d4"/>
<rect x="85.40" y="197.25" width="3.00" height="4.11" fill="#a9d0e6"/>
<rect x="88.40" y="197.25" width="3.00" height="4.11" fill="#fde3d4"/>
<rect x="91.40" y="197.25" width="6.00" height="4.11" fill="#a9d0e6"/>
<rect x="97.40" y="197.25" width="3.00" height="4.11" fill="#fde3d4"/>
<rect x="100.40" y="197.25" width="3.00" height="4.11" fill="#ffffff"/>
<rect x="103.40" y="197.25" width="6.00" height="4.11" fill="#fde3d4"/>
<rect x="109.40" y="197.25" width="3.00" height="4.11" fill="#ffffff"/>
<rect x="112.40" y="197.25" width="9.00" height="4.11" fill="#fde3d4"/>
<rect x="121.40" y="197.25" width="3.00" height="4.11" fill="#ffffff"/>
<rect x="124.40" y="197.25" width="33.00" height="4.11" fill="#fde3d4"/>
<rect x="157.40" y="197.25" width="12.00" height="4.11" fill="#fbcbb3"/>
<rect x="52.40" y="201.36" width="3.00" height="4.11" fill="#ffffff"/>
<rect x="55.40" y="201.36" width="6.00" height="4.11" fill="#fde3d4"/>
<rect x="64.40" y="201.36" width="3.00" height="4.11" fill="#2f72b0"/>
<rect x="70.40" y="201.36" width="3.00" height="4.11" fill="#ffffff"/>
<rect x="73.40" y="201.36" width="3.00" height="4.11" fill="#5fa3d0"/>
<rect x="76.40" y="201.36" width="9.00" height="4.11" fill="#fde3d4"/>
<rect x="85.40" y="201.36" width="3.00" height="4.11" fill="#a9d0e6"/>
<rect x="88.40" y="201.36" width="3.00" height="4.11" fill="#fde3d4"/>
<rect x="91.40" y="201.36" width="6.00" height="4.11" fill="#a9d0e6"/>
<rect x="97.40" y="201.36" width="3.00" height="4.11" fill="#fde3d4"/>
<rect x="100.40" y="201.36" width="3.00" height="4.11" fill="#ffffff"/>
<rect x="103.40" y="201.36" width="6.00" height="4.11" fill="#fde3d4"/>
<rect x="109.40" y="201.36" width="3.00" height="4.11" fill="#ffffff"/>
<rect x="112.40" y="201.36" width="9.00" height="4.11" fill="#fde3d4"/>
<rect x="121.40" y="201.36" width="3.00" height="4.11" fill="#ffffff"/>
<rect x="124.40" y="201.36" width="18.00" height="4.11" fill="#fde3d4"/>
<rect x="142.40" y="201.36" width="3.00" height="4.11" fill="#ffffff"/>
<rect x="145.40" y="201.36" width="12.00" height="4.11" fill="#fde3d4"/>
<rect x="157.40" y="201.36" width="12.00" height="4.11" fill="#fbcbb3"/>
<rect x="52.40" y="205.47" width="3.00" height="4.11" fill="#ffffff"/>
<rect x="55.40" y="205.47" width="6.00" height="4.11" fill="#fde3d4"/>
<rect x="73.40" y="205.47" width="3.00" height="4.11" fill="#e3e3e3"/>
<rect x="82.40" y="205.47" width="3.00" height="4.11" fill="#e3e3e3"/>
<rect x="100.40" y="205.47" width="3.00" height="4.11" fill="#fde3d4"/>
<rect x="103.40" y="205.47" width="3.00" height="4.11" fill="#e3e3e3"/>
<rect x="106.40" y="205.47" width="6.00" height="4.11" fill="#ffffff"/>
<rect x="118.40" y="205.47" width="3.00" height="4.11" fill="#fde3d4"/>
<rect x="121.40" y="205.47" width="3.00" height="4.11" fill="#e3e3e3"/>
<rect x="124.40" y="205.47" width="3.00" height="4.11" fill="#ffffff"/>
<rect x="127.40" y="205.47" width="9.00" height="4.11" fill="#fde3d4"/>
<rect x="142.40" y="205.47" width="6.00" height="4.11" fill="#ffffff"/>
<rect x="148.40" y="205.47" width="3.00" height="4.11" fill="#a9d0e6"/>
<rect x="151.40" y="205.47" width="3.00" height="4.11" fill="#fde3d4"/>
<rect x="154.40" y="205.47" width="3.00" height="4.11" fill="#ffffff"/>
<rect x="52.40" y="209.58" width="3.00" height="4.11" fill="#ffffff"/>
<rect x="55.40" y="209.58" width="6.00" height="4.11" fill="#fde3d4"/>
<rect x="73.40" y="209.58" width="3.00" height="4.11" fill="#e3e3e3"/>
<rect x="82.40" y="209.58" width="3.00" height="4.11" fill="#e3e3e3"/>
<rect x="100.40" y="209.58" width="3.00" height="4.11" fill="#fde3d4"/>
<rect x="103.40" y="209.58" width="3.00" height="4.11" fill="#e3e3e3"/>
<rect x="106.40" y="209.58" width="6.00" height="4.11" fill="#ffffff"/>
<rect x="118.40" y="209.58" width="3.00" height="4.11" fill="#fde3d4"/>
<rect x="121.40" y="209.58" width="3.00" height="4.11" fill="#e3e3e3"/>
<rect x="124.40" y="209.58" width="3.00" height="4.11" fill="#ffffff"/>
<rect x="127.40" y="209.58" width="9.00" height="4.11" fill="#fde3d4"/>
<rect x="142.40" y="209.58" width="6.00" height="4.11" fill="#ffffff"/>
<rect x="148.40" y="209.58" width="3.00" height="4.11" fill="#a9d0e6"/>
<rect x="151.40" y="209.58" width="3.00" height="4.11" fill="#fde3d4"/>
<rect x="154.40" y="209.58" width="3.00" height="4.11" fill="#ffffff"/>
<rect x="52.40" y="213.69" width="3.00" height="5.11" fill="#ffffff"/>
<rect x="55.40" y="213.69" width="6.00" height="5.11" fill="#fde3d4"/>
<rect x="73.40" y="213.69" width="3.00" height="5.11" fill="#e3e3e3"/>
<rect x="82.40" y="213.69" width="3.00" height="5.11" fill="#e3e3e3"/>
<rect x="100.40" y="213.69" width="3.00" height="5.11" fill="#fde3d4"/>
<rect x="103.40" y="213.69" width="3.00" height="5.11" fill="#e3e3e3"/>
<rect x="106.40" y="213.69" width="6.00" height="5.11" fill="#ffffff"/>
<rect x="118.40" y="213.69" width="3.00" height="5.11" fill="#fde3d4"/>
<rect x="121.40" y="213.69" width="3.00" height="5.11" fill="#e3e3e3"/>
<rect x="124.40" y="213.69" width="3.00" height="5.11" fill="#ffffff"/>
<rect x="127.40" y="213.69" width="9.00" height="5.11" fill="#fde3d4"/>
<rect x="142.40" y="213.69" width="6.00" height="5.11" fill="#ffffff"/>
<rect x="148.40" y="213.69" width="3.00" height="5.11" fill="#a9d0e6"/>
<rect x="151.40" y="213.69" width="3.00" height="5.11" fill="#fde3d4"/>
<rect x="154.40" y="213.69" width="3.00" height="5.11" fill="#ffffff"/>
</g>
<path d="M50,136 L52,139 L51,142 L53,146 L52.5,150" fill="none" stroke="#141414" stroke-width="0.85" stroke-linejoin="round"/>
<ellipse cx="55.5" cy="138.5" rx="1.8" ry="1.3" fill="none" stroke="#141414" stroke-width="0.85"/>
<ellipse cx="59.0" cy="139.5" rx="1.6" ry="1.2" fill="none" stroke="#141414" stroke-width="0.85"/>
<ellipse cx="62.0" cy="141.5" rx="1.5" ry="1.2" fill="none" stroke="#141414" stroke-width="0.85"/>
<path d="M63.5,142.5 L65,145" fill="none" stroke="#141414" stroke-width="0.85" stroke-linejoin="round"/>
<path d="M56.5,151 L57.5,156" fill="none" stroke="#141414" stroke-width="0.85" stroke-linejoin="round"/>
<ellipse cx="58.0" cy="157.5" rx="1.6" ry="1.2" fill="none" stroke="#141414" stroke-width="0.85"/>
<ellipse cx="58.5" cy="160.5" rx="1.4" ry="1.1" fill="none" stroke="#141414" stroke-width="0.85"/>
<ellipse cx="88.0" cy="137.5" rx="3.5" ry="1.8" fill="none" stroke="#141414" stroke-width="0.85"/>
<path d="M66.8,147.7 L67.5,154" fill="none" stroke="#141414" stroke-width="0.85" stroke-linejoin="round"/>
<path d="M68.5,148 L68.8,153" fill="none" stroke="#141414" stroke-width="0.85" stroke-linejoin="round"/>
<ellipse cx="72.0" cy="150.0" rx="1.6" ry="1.3" fill="none" stroke="#141414" stroke-width="0.85"/>
<ellipse cx="75.5" cy="151.0" rx="1.6" ry="1.3" fill="none" stroke="#141414" stroke-width="0.85"/>
<ellipse cx="73.0" cy="157.5" rx="1.8" ry="1.4" fill="none" stroke="#141414" stroke-width="0.85"/>
<ellipse cx="75.0" cy="161.0" rx="1.5" ry="1.2" fill="none" stroke="#141414" stroke-width="0.85"/>
<path d="M81.1,150.2 L83.6,147.7 L86.1,149 L88.6,146.5 L91.1,148.3 L93.5,145.8 L96,145.2 L98.5,143.3" fill="none" stroke="#141414" stroke-width="0.85" stroke-linejoin="round"/>
<ellipse cx="97.3" cy="144.5" rx="2.0" ry="2.5" fill="none" stroke="#141414" stroke-width="0.85"/>
<path d="M95,141 L97,139" fill="none" stroke="#141414" stroke-width="0.85" stroke-linejoin="round"/>
<path d="M83.6,151.4 L84.8,162.6" fill="none" stroke="#141414" stroke-width="0.85" stroke-linejoin="round"/>
<path d="M88,152 L88.5,160" fill="none" stroke="#141414" stroke-width="0.85" stroke-linejoin="round"/>
<path d="M91,154 L91.5,163" fill="none" stroke="#141414" stroke-width="0.85" stroke-linejoin="round"/>
<ellipse cx="86.0" cy="159.0" rx="1.5" ry="1.2" fill="none" stroke="#141414" stroke-width="0.85"/>
<path d="M100,136.5 L102.5,135.9 L107.5,137.1 L112.4,135.9 L117.4,136.5 L122.4,135.9 L127.4,137.1 L132.4,135.9 L136.1,136.5" fill="none" stroke="#141414" stroke-width="0.85" stroke-linejoin="round"/>
<ellipse cx="104.0" cy="137.0" rx="1.3" ry="1.0" fill="none" stroke="#141414" stroke-width="0.85"/>
<ellipse cx="110.0" cy="136.8" rx="1.3" ry="1.0" fill="none" stroke="#141414" stroke-width="0.85"/>
<ellipse cx="120.0" cy="136.8" rx="1.3" ry="1.0" fill="none" stroke="#141414" stroke-width="0.85"/>
<ellipse cx="126.0" cy="137.0" rx="1.3" ry="1.0" fill="none" stroke="#141414" stroke-width="0.85"/>
<ellipse cx="114.3" cy="142.0" rx="1.8" ry="1.5" fill="none" stroke="#141414" stroke-width="0.85"/>
<text x="133.5" y="145" font-size="6.5" fill="#1a1a1a">0.5</text>
<path d="M96,146 L99,141 L101.5,143 L100,147" fill="none" stroke="#141414" stroke-width="0.85" stroke-linejoin="round"/>
<path d="M119.3,164 L119.9,153.9 L120.5,150.8 L121.8,152.7 L123.6,155.2 L125.5,157.7 L126.1,164" fill="none" stroke="#141414" stroke-width="0.85" stroke-linejoin="round"/>
<ellipse cx="128.0" cy="159.5" rx="1.6" ry="1.3" fill="none" stroke="#141414" stroke-width="0.85"/>
<ellipse cx="131.0" cy="160.5" rx="1.5" ry="1.2" fill="none" stroke="#141414" stroke-width="0.85"/>
<path d="M153,136 L152,140 L154,144" fill="none" stroke="#141414" stroke-width="0.85" stroke-linejoin="round"/>
<path d="M156,137 L157,141" fill="none" stroke="#141414" stroke-width="0.85" stroke-linejoin="round"/>
<ellipse cx="159.0" cy="139.0" rx="1.5" ry="1.2" fill="none" stroke="#141414" stroke-width="0.85"/>
<path d="M160,136 L160.5,140" fill="none" stroke="#141414" stroke-width="0.85" stroke-linejoin="round"/>
<ellipse cx="163.0" cy="141.0" rx="1.8" ry="1.5" fill="none" stroke="#141414" stroke-width="0.85"/>
<ellipse cx="164.0" cy="145.5" rx="1.5" ry="1.3" fill="none" stroke="#141414" stroke-width="0.85"/>
<path d="M166,138 L166.5,150 L166,160 L167,170" fill="none" stroke="#141414" stroke-width="0.85" stroke-linejoin="round"/>
<path d="M158,148 L157,155 L158,162 L157,170" fill="none" stroke="#141414" stroke-width="0.85" stroke-linejoin="round"/>
<path d="M161,152 L162,160" fill="none" stroke="#141414" stroke-width="0.85" stroke-linejoin="round"/>
<ellipse cx="160.5" cy="161.0" rx="1.6" ry="1.3" fill="none" stroke="#141414" stroke-width="0.85"/>
<ellipse cx="166.0" cy="169.0" rx="1.5" ry="1.2" fill="none" stroke="#141414" stroke-width="0.85"/>
<ellipse cx="164.0" cy="174.0" rx="1.5" ry="1.2" fill="none" stroke="#141414" stroke-width="0.85"/>
<path d="M58.7,164 L61.2,171.5" fill="none" stroke="#141414" stroke-width="0.85" stroke-linejoin="round"/>
<ellipse cx="56.0" cy="173.5" rx="2.2" ry="1.5" fill="none" stroke="#141414" stroke-width="0.85"/>
<ellipse cx="57.0" cy="177.0" rx="1.5" ry="1.1" fill="none" stroke="#141414" stroke-width="0.85"/>
<path d="M71.8,164 L74.2,170.2" fill="none" stroke="#141414" stroke-width="0.85" stroke-linejoin="round"/>
<ellipse cx="70.0" cy="175.0" rx="2.0" ry="1.5" fill="none" stroke="#141414" stroke-width="0.85"/>
<ellipse cx="73.0" cy="178.0" rx="1.5" ry="1.2" fill="none" stroke="#141414" stroke-width="0.85"/>
<ellipse cx="78.0" cy="172.0" rx="1.8" ry="1.5" fill="none" stroke="#141414" stroke-width="0.85"/>
<ellipse cx="82.0" cy="172.5" rx="1.8" ry="1.5" fill="none" stroke="#141414" stroke-width="0.85"/>
<ellipse cx="85.5" cy="173.0" rx="1.6" ry="1.3" fill="none" stroke="#141414" stroke-width="0.85"/>
<ellipse cx="89.0" cy="174.0" rx="1.4" ry="1.2" fill="none" stroke="#141414" stroke-width="0.85"/>
<ellipse cx="91.5" cy="178.0" rx="1.5" ry="1.3" fill="none" stroke="#141414" stroke-width="0.85"/>
<path d="M79,177 L80,184" fill="none" stroke="#141414" stroke-width="0.85" stroke-linejoin="round"/>
<path d="M84,179 L83.5,186" fill="none" stroke="#141414" stroke-width="0.85" stroke-linejoin="round"/>
<path d="M88,180 L88.5,188" fill="none" stroke="#141414" stroke-width="0.85" stroke-linejoin="round"/>
<path d="M93,181 L93.5,190" fill="none" stroke="#141414" stroke-width="0.85" stroke-linejoin="round"/>
<ellipse cx="54.5" cy="186.0" rx="1.8" ry="1.3" fill="none" stroke="#141414" stroke-width="0.85"/>
<ellipse cx="69.0" cy="186.0" rx="1.5" ry="1.2" fill="none" stroke="#141414" stroke-width="0.85"/>
<ellipse cx="76.0" cy="185.0" rx="1.8" ry="1.4" fill="none" stroke="#141414" stroke-width="0.85"/>
<ellipse cx="84.0" cy="187.0" rx="1.5" ry="1.2" fill="none" stroke="#141414" stroke-width="0.85"/>
<ellipse cx="95.0" cy="189.0" rx="1.5" ry="1.2" fill="none" stroke="#141414" stroke-width="0.85"/>
<ellipse cx="104.0" cy="172.0" rx="1.5" ry="1.2" fill="none" stroke="#141414" stroke-width="0.85"/>
<ellipse cx="107.0" cy="176.0" rx="1.5" ry="1.2" fill="none" stroke="#141414" stroke-width="0.85"/>
<path d="M106,166 L106.5,171" fill="none" stroke="#141414" stroke-width="0.85" stroke-linejoin="round"/>
<ellipse cx="127.0" cy="170.0" rx="1.8" ry="1.4" fill="none" stroke="#141414" stroke-width="0.85"/>
<ellipse cx="131.0" cy="176.0" rx="1.8" ry="1.4" fill="none" stroke="#141414" stroke-width="0.85"/>
<path d="M129,168 L130,180" fill="none" stroke="#141414" stroke-width="0.85" stroke-linejoin="round"/>
<ellipse cx="121.0" cy="186.0" rx="1.8" ry="1.4" fill="none" stroke="#141414" stroke-width="0.85"/>
<path d="M122,182 L121.5,192" fill="none" stroke="#141414" stroke-width="0.85" stroke-linejoin="round"/>
<ellipse cx="142.0" cy="184.0" rx="1.8" ry="1.4" fill="none" stroke="#141414" stroke-width="0.85"/>
<path d="M143,186 L143.5,194" fill="none" stroke="#141414" stroke-width="0.85" stroke-linejoin="round"/>
<ellipse cx="150.0" cy="178.0" rx="1.8" ry="1.4" fill="none" stroke="#141414" stroke-width="0.85"/>
<path d="M151,170 L151.5,186" fill="none" stroke="#141414" stroke-width="0.85" stroke-linejoin="round"/>
<path d="M155,170 L155.5,180" fill="none" stroke="#141414" stroke-width="0.85" stroke-linejoin="round"/>
<path d="M146,184 L147,195" fill="none" stroke="#141414" stroke-width="0.85" stroke-linejoin="round"/>
<path d="M100,184 L100.5,190" fill="none" stroke="#141414" stroke-width="0.85" stroke-linejoin="round"/>
<path d="M112,185 L112.5,190" fill="none" stroke="#141414" stroke-width="0.85" stroke-linejoin="round"/>
<path d="M136,178 L136.5,186" fill="none" stroke="#141414" stroke-width="0.85" stroke-linejoin="round"/>
<ellipse cx="56.5" cy="204.0" rx="2.0" ry="1.5" fill="none" stroke="#141414" stroke-width="0.85"/>
<ellipse cx="60.5" cy="203.0" rx="2.0" ry="1.5" fill="none" stroke="#141414" stroke-width="0.85"/>
<ellipse cx="57.0" cy="207.5" rx="1.6" ry="1.3" fill="none" stroke="#141414" stroke-width="0.85"/>
<path d="M56,209 L56.5,216" fill="none" stroke="#141414" stroke-width="0.85" stroke-linejoin="round"/>
<path d="M53,198 L54,202" fill="none" stroke="#141414" stroke-width="0.85" stroke-linejoin="round"/>
<path d="M60,196 L59,201" fill="none" stroke="#141414" stroke-width="0.85" stroke-linejoin="round"/>
<path d="M74,193 L75,198" fill="none" stroke="#141414" stroke-width="0.85" stroke-linejoin="round"/>
<ellipse cx="76.0" cy="197.0" rx="1.8" ry="1.4" fill="none" stroke="#141414" stroke-width="0.85"/>
<ellipse cx="81.0" cy="198.0" rx="1.8" ry="1.4" fill="none" stroke="#141414" stroke-width="0.85"/>
<path d="M79,199 L79.5,205" fill="none" stroke="#141414" stroke-width="0.85" stroke-linejoin="round"/>
<ellipse cx="86.0" cy="211.0" rx="1.6" ry="1.3" fill="none" stroke="#141414" stroke-width="0.85"/>
<path d="M70,205 L70.5,215" fill="none" stroke="#141414" stroke-width="0.85" stroke-linejoin="round"/>
<path d="M77,208 L77.5,216" fill="none" stroke="#141414" stroke-width="0.85" stroke-linejoin="round"/>
<path d="M83,206 L83.5,214" fill="none" stroke="#141414" stroke-width="0.85" stroke-linejoin="round"/>
<path d="M90,208 L90.5,216" fill="none" stroke="#141414" stroke-width="0.85" stroke-linejoin="round"/>
<ellipse cx="97.0" cy="197.5" rx="1.8" ry="1.4" fill="none" stroke="#141414" stroke-width="0.85"/>
<ellipse cx="113.0" cy="199.0" rx="1.8" ry="1.4" fill="none" stroke="#141414" stroke-width="0.85"/>
<ellipse cx="116.0" cy="202.0" rx="1.8" ry="1.4" fill="none" stroke="#141414" stroke-width="0.85"/>
<ellipse cx="122.0" cy="198.0" rx="1.6" ry="1.3" fill="none" stroke="#141414" stroke-width="0.85"/>
<ellipse cx="126.0" cy="203.0" rx="1.8" ry="1.4" fill="none" stroke="#141414" stroke-width="0.85"/>
<ellipse cx="130.0" cy="206.0" rx="1.8" ry="1.4" fill="none" stroke="#141414" stroke-width="0.85"/>
<ellipse cx="134.0" cy="204.0" rx="1.8" ry="1.4" fill="none" stroke="#141414" stroke-width="0.85"/>
<ellipse cx="139.0" cy="203.0" rx="1.6" ry="1.3" fill="none" stroke="#141414" stroke-width="0.85"/>
<path d="M118,200 L118.5,210" fill="none" stroke="#141414" stroke-width="0.85" stroke-linejoin="round"/>
<path d="M125,205 L125.5,216" fill="none" stroke="#141414" stroke-width="0.85" stroke-linejoin="round"/>
<path d="M130,208 L131,216" fill="none" stroke="#141414" stroke-width="0.85" stroke-linejoin="round"/>
<path d="M136,205 L136.5,214" fill="none" stroke="#141414" stroke-width="0.85" stroke-linejoin="round"/>
<path d="M140,200 L141,212" fill="none" stroke="#141414" stroke-width="0.85" stroke-linejoin="round"/>
<path d="M144,192 L145,200 L144,206 L146,212" fill="none" stroke="#141414" stroke-width="0.85" stroke-linejoin="round"/>
<path d="M147,190 L148,197" fill="none" stroke="#141414" stroke-width="0.85" stroke-linejoin="round"/>
<ellipse cx="149.0" cy="200.0" rx="1.6" ry="1.3" fill="none" stroke="#141414" stroke-width="0.85"/>
<path d="M150,198 L151,208" fill="none" stroke="#141414" stroke-width="0.85" stroke-linejoin="round"/>
<ellipse cx="108.0" cy="213.0" rx="1.6" ry="1.3" fill="none" stroke="#141414" stroke-width="0.85"/>
<path d="M107,208 L107.5,216" fill="none" stroke="#141414" stroke-width="0.85" stroke-linejoin="round"/>
<path d="M152,185 L153,195 L152.5,205" fill="none" stroke="#141414" stroke-width="0.85" stroke-linejoin="round"/>
<ellipse cx="70.0" cy="187.0" rx="1.8" ry="1.3" fill="none" stroke="#141414" stroke-width="0.85"/>
<ellipse cx="77.5" cy="186.0" rx="1.8" ry="1.4" fill="none" stroke="#141414" stroke-width="0.85"/>
<ellipse cx="87.0" cy="187.5" rx="1.6" ry="1.2" fill="none" stroke="#141414" stroke-width="0.85"/>
<ellipse cx="96.0" cy="189.0" rx="1.8" ry="1.4" fill="none" stroke="#141414" stroke-width="0.85"/>
<ellipse cx="128.5" cy="170.0" rx="1.8" ry="1.2" fill="none" stroke="#141414" stroke-width="0.85"/>
<ellipse cx="130.5" cy="177.0" rx="1.6" ry="1.4" fill="none" stroke="#141414" stroke-width="0.85"/>
<ellipse cx="121.0" cy="187.0" rx="1.8" ry="1.4" fill="none" stroke="#141414" stroke-width="0.85"/>
<ellipse cx="143.0" cy="184.0" rx="1.6" ry="1.2" fill="none" stroke="#141414" stroke-width="0.85"/>
<ellipse cx="151.5" cy="178.5" rx="1.6" ry="1.4" fill="none" stroke="#141414" stroke-width="0.85"/>
<path d="M126.5,164 L127.3,176" fill="none" stroke="#141414" stroke-width="0.85" stroke-linejoin="round"/>
<path d="M102.5,175 L103,180" fill="none" stroke="#141414" stroke-width="0.85" stroke-linejoin="round"/>
<path d="M116,178 L116.5,182" fill="none" stroke="#141414" stroke-width="0.85" stroke-linejoin="round"/>
<path d="M142.3,186 L142.8,194" fill="none" stroke="#141414" stroke-width="0.85" stroke-linejoin="round"/>
<path d="M147,181 L148,190 L147.5,194" fill="none" stroke="#141414" stroke-width="0.85" stroke-linejoin="round"/>
<path d="M150.5,181 L151,192" fill="none" stroke="#141414" stroke-width="0.85" stroke-linejoin="round"/>
<ellipse cx="55.5" cy="210.0" rx="1.8" ry="1.6" fill="none" stroke="#141414" stroke-width="0.85"/>
<ellipse cx="61.0" cy="208.0" rx="2.0" ry="1.5" fill="none" stroke="#141414" stroke-width="0.85"/>
<ellipse cx="76.8" cy="198.0" rx="1.8" ry="1.5" fill="none" stroke="#141414" stroke-width="0.85"/>
<ellipse cx="81.8" cy="199.4" rx="1.8" ry="1.5" fill="none" stroke="#141414" stroke-width="0.85"/>
<ellipse cx="86.7" cy="212.0" rx="1.8" ry="1.5" fill="none" stroke="#141414" stroke-width="0.85"/>
<ellipse cx="98.0" cy="198.0" rx="1.8" ry="1.5" fill="none" stroke="#141414" stroke-width="0.85"/>
<path d="M54,196 L55,207" fill="none" stroke="#141414" stroke-width="0.85" stroke-linejoin="round"/>
<path d="M61,192.5 L61.5,205" fill="none" stroke="#141414" stroke-width="0.85" stroke-linejoin="round"/>
<path d="M76,200 L76.5,210 L76,220" fill="none" stroke="#141414" stroke-width="0.85" stroke-linejoin="round"/>
<ellipse cx="97.5" cy="197.5" rx="2.0" ry="1.2" fill="none" stroke="#141414" stroke-width="0.85"/>
<ellipse cx="114.3" cy="200.6" rx="2.5" ry="1.6" fill="none" stroke="#141414" stroke-width="0.85"/>
<ellipse cx="120.0" cy="202.0" rx="2.2" ry="1.6" fill="none" stroke="#141414" stroke-width="0.85"/>
<ellipse cx="128.0" cy="199.5" rx="2.6" ry="2.0" fill="none" stroke="#141414" stroke-width="0.85"/>
<ellipse cx="129.3" cy="207.0" rx="2.6" ry="1.6" fill="none" stroke="#141414" stroke-width="0.85"/>
<ellipse cx="135.0" cy="205.5" rx="2.2" ry="1.6" fill="none" stroke="#141414" stroke-width="0.85"/>
<ellipse cx="142.3" cy="204.3" rx="2.2" ry="1.6" fill="none" stroke="#141414" stroke-width="0.85"/>
<ellipse cx="150.4" cy="198.7" rx="2.6" ry="1.2" fill="none" stroke="#141414" stroke-width="0.85"/>
<path d="M108,206 L109,214 L108.5,217" fill="none" stroke="#141414" stroke-width="0.85" stroke-linejoin="round"/>
<path d="M117,203 L118,212 L117.5,217" fill="none" stroke="#141414" stroke-width="0.85" stroke-linejoin="round"/>
<path d="M128,209 L129,217" fill="none" stroke="#141414" stroke-width="0.85" stroke-linejoin="round"/>
<path d="M134,207 L135,217" fill="none" stroke="#141414" stroke-width="0.85" stroke-linejoin="round"/>
<path d="M142,206 L142.5,216" fill="none" stroke="#141414" stroke-width="0.85" stroke-linejoin="round"/>
<path d="M141,190 L141.5,200" fill="none" stroke="#141414" stroke-width="0.85" stroke-linejoin="round"/>
<path d="M150,190 L149,197 L151,204 L150,212 L151,217" fill="none" stroke="#141414" stroke-width="0.85" stroke-linejoin="round"/>
<path d="M153,186 L153.5,196 L153,206" fill="none" stroke="#141414" stroke-width="0.85" stroke-linejoin="round"/>
<text transform="translate(31.2,139.50) scale(1,1.12)" font-size="7.8" text-anchor="end" fill="#333">0</text>
<text transform="translate(31.2,160.05) scale(1,1.12)" font-size="7.8" text-anchor="end" fill="#333">-500</text>
<text transform="translate(31.2,180.60) scale(1,1.12)" font-size="7.8" text-anchor="end" fill="#333">-1000</text>
<text transform="translate(31.2,201.15) scale(1,1.12)" font-size="7.8" text-anchor="end" fill="#333">-1500</text>
<text transform="translate(31.2,221.70) scale(1,1.12)" font-size="7.8" text-anchor="end" fill="#333">-2000</text>
<text transform="translate(65.73,229.70) scale(1,1.12)" font-size="7.8" text-anchor="middle" fill="#333">-50</text>
<text transform="translate(104.90,229.70) scale(1,1.12)" font-size="7.8" text-anchor="middle" fill="#333">0</text>
<text transform="translate(144.07,229.70) scale(1,1.12)" font-size="7.8" text-anchor="middle" fill="#333">50</text>
<text transform="translate(104.90,237.80) scale(1,1.12)" font-size="8" text-anchor="middle" fill="#333">Latitude [° N]</text>
<text transform="translate(7.80,176.70) rotate(-90) scale(1,1.12)" font-size="8" text-anchor="middle" fill="#333">Depth [m]</text>
<text transform="translate(104.90,129.50) scale(1,1.12)" font-size="8" font-weight="bold" text-anchor="middle" fill="#111" stroke="#111" stroke-width="0.2">Observations</text>
<text transform="translate(9.5,125.6) scale(1,1.12)" font-size="7.8" font-weight="bold" fill="#111">d</text>
<rect x="220.8" y="135.6" width="141.0" height="82.20000000000002" fill="#cbcbcb" stroke="#7a7a7a" stroke-width="0.8"/>
<line x1="220.8" x2="222.20000000000002" y1="156.15" y2="156.15" stroke="#555" stroke-width="0.5"/>
<line x1="361.8" x2="360.40000000000003" y1="156.15" y2="156.15" stroke="#555" stroke-width="0.5"/>
<line x1="220.8" x2="222.20000000000002" y1="176.70" y2="176.70" stroke="#555" stroke-width="0.5"/>
<line x1="361.8" x2="360.40000000000003" y1="176.70" y2="176.70" stroke="#555" stroke-width="0.5"/>
<line x1="220.8" x2="222.20000000000002" y1="197.25" y2="197.25" stroke="#555" stroke-width="0.5"/>
<line x1="361.8" x2="360.40000000000003" y1="197.25" y2="197.25" stroke="#555" stroke-width="0.5"/>
<line x1="252.13" x2="252.13" y1="217.8" y2="216.4" stroke="#555" stroke-width="0.5"/>
<line x1="252.13" x2="252.13" y1="135.6" y2="137.0" stroke="#555" stroke-width="0.5"/>
<line x1="291.30" x2="291.30" y1="217.8" y2="216.4" stroke="#555" stroke-width="0.5"/>
<line x1="291.30" x2="291.30" y1="135.6" y2="137.0" stroke="#555" stroke-width="0.5"/>
<line x1="330.47" x2="330.47" y1="217.8" y2="216.4" stroke="#555" stroke-width="0.5"/>
<line x1="330.47" x2="330.47" y1="135.6" y2="137.0" stroke="#555" stroke-width="0.5"/>
<clipPath id="cpe"><rect x="220.8" y="134.6" width="134.00" height="84.20"/></clipPath>
<g clip-path="url(#cpe)" shape-rendering="crispEdges">
<rect x="232.80" y="134.60" width="3.00" height="5.11" fill="#d6e8f3"/>
<rect x="235.80" y="134.60" width="3.00" height="5.11" fill="#ffffff"/>
<rect x="238.80" y="134.60" width="3.00" height="5.11" fill="#fde3d4"/>
<rect x="241.80" y="134.60" width="9.00" height="5.11" fill="#f6ae91"/>
<rect x="250.80" y="134.60" width="3.00" height="5.11" fill="#ec9072"/>
<rect x="253.80" y="134.60" width="36.00" height="5.11" fill="#e2745c"/>
<rect x="289.80" y="134.60" width="6.00" height="5.11" fill="#d65a4a"/>
<rect x="295.80" y="134.60" width="45.00" height="5.11" fill="#e2745c"/>
<rect x="340.80" y="134.60" width="3.00" height="5.11" fill="#c6343c"/>
<rect x="343.80" y="134.60" width="9.00" height="5.11" fill="#b0132c"/>
<rect x="352.80" y="134.60" width="3.00" height="5.11" fill="#c6343c"/>
<rect x="232.80" y="139.71" width="3.00" height="4.11" fill="#d6e8f3"/>
<rect x="235.80" y="139.71" width="3.00" height="4.11" fill="#ffffff"/>
<rect x="238.80" y="139.71" width="3.00" height="4.11" fill="#fde3d4"/>
<rect x="241.80" y="139.71" width="3.00" height="4.11" fill="#fbcbb3"/>
<rect x="244.80" y="139.71" width="6.00" height="4.11" fill="#f6ae91"/>
<rect x="250.80" y="139.71" width="3.00" height="4.11" fill="#ec9072"/>
<rect x="253.80" y="139.71" width="9.00" height="4.11" fill="#e2745c"/>
<rect x="262.80" y="139.71" width="3.00" height="4.11" fill="#ec9072"/>
<rect x="265.80" y="139.71" width="12.00" height="4.11" fill="#f6ae91"/>
<rect x="277.80" y="139.71" width="12.00" height="4.11" fill="#fbcbb3"/>
<rect x="289.80" y="139.71" width="6.00" height="4.11" fill="#f6ae91"/>
<rect x="295.80" y="139.71" width="27.00" height="4.11" fill="#e2745c"/>
<rect x="322.80" y="139.71" width="18.00" height="4.11" fill="#ec9072"/>
<rect x="340.80" y="139.71" width="3.00" height="4.11" fill="#d65a4a"/>
<rect x="343.80" y="139.71" width="6.00" height="4.11" fill="#b0132c"/>
<rect x="349.80" y="139.71" width="3.00" height="4.11" fill="#c6343c"/>
<rect x="352.80" y="139.71" width="3.00" height="4.11" fill="#d65a4a"/>
<rect x="232.80" y="143.82" width="3.00" height="4.11" fill="#d6e8f3"/>
<rect x="235.80" y="143.82" width="3.00" height="4.11" fill="#ffffff"/>
<rect x="238.80" y="143.82" width="3.00" height="4.11" fill="#fde3d4"/>
<rect x="241.80" y="143.82" width="3.00" height="4.11" fill="#fbcbb3"/>
<rect x="244.80" y="143.82" width="9.00" height="4.11" fill="#f6ae91"/>
<rect x="253.80" y="143.82" width="6.00" height="4.11" fill="#e2745c"/>
<rect x="259.80" y="143.82" width="3.00" height="4.11" fill="#ec9072"/>
<rect x="262.80" y="143.82" width="3.00" height="4.11" fill="#f6ae91"/>
<rect x="265.80" y="143.82" width="6.00" height="4.11" fill="#fbcbb3"/>
<rect x="271.80" y="143.82" width="3.00" height="4.11" fill="#ffffff"/>
<rect x="274.80" y="143.82" width="6.00" height="4.11" fill="#d6e8f3"/>
<rect x="280.80" y="143.82" width="9.00" height="4.11" fill="#fde3d4"/>
<rect x="289.80" y="143.82" width="9.00" height="4.11" fill="#fbcbb3"/>
<rect x="298.80" y="143.82" width="24.00" height="4.11" fill="#f6ae91"/>
<rect x="322.80" y="143.82" width="3.00" height="4.11" fill="#ec9072"/>
<rect x="325.80" y="143.82" width="15.00" height="4.11" fill="#f6ae91"/>
<rect x="340.80" y="143.82" width="3.00" height="4.11" fill="#d65a4a"/>
<rect x="343.80" y="143.82" width="6.00" height="4.11" fill="#b0132c"/>
<rect x="349.80" y="143.82" width="3.00" height="4.11" fill="#c6343c"/>
<rect x="352.80" y="143.82" width="3.00" height="4.11" fill="#e2745c"/>
<rect x="232.80" y="147.93" width="3.00" height="4.11" fill="#d6e8f3"/>
<rect x="238.80" y="147.93" width="3.00" height="4.11" fill="#ffffff"/>
<rect x="241.80" y="147.93" width="9.00" height="4.11" fill="#fbcbb3"/>
<rect x="250.80" y="147.93" width="3.00" height="4.11" fill="#f6ae91"/>
<rect x="253.80" y="147.93" width="6.00" height="4.11" fill="#e2745c"/>
<rect x="259.80" y="147.93" width="3.00" height="4.11" fill="#ec9072"/>
<rect x="262.80" y="147.93" width="3.00" height="4.11" fill="#f6ae91"/>
<rect x="265.80" y="147.93" width="9.00" height="4.11" fill="#ffffff"/>
<rect x="274.80" y="147.93" width="3.00" height="4.11" fill="#d6e8f3"/>
<rect x="277.80" y="147.93" width="3.00" height="4.11" fill="#a9d0e6"/>
<rect x="280.80" y="147.93" width="3.00" height="4.11" fill="#d6e8f3"/>
<rect x="283.80" y="147.93" width="18.00" height="4.11" fill="#fde3d4"/>
<rect x="301.80" y="147.93" width="27.00" height="4.11" fill="#fbcbb3"/>
<rect x="328.80" y="147.93" width="12.00" height="4.11" fill="#f6ae91"/>
<rect x="340.80" y="147.93" width="3.00" height="4.11" fill="#e2745c"/>
<rect x="343.80" y="147.93" width="3.00" height="4.11" fill="#c6343c"/>
<rect x="346.80" y="147.93" width="3.00" height="4.11" fill="#b0132c"/>
<rect x="349.80" y="147.93" width="3.00" height="4.11" fill="#d65a4a"/>
<rect x="352.80" y="147.93" width="3.00" height="4.11" fill="#ec9072"/>
<rect x="232.80" y="152.04" width="3.00" height="4.11" fill="#d6e8f3"/>
<rect x="238.80" y="152.04" width="3.00" height="4.11" fill="#ffffff"/>
<rect x="241.80" y="152.04" width="9.00" height="4.11" fill="#fbcbb3"/>
<rect x="250.80" y="152.04" width="3.00" height="4.11" fill="#f6ae91"/>
<rect x="253.80" y="152.04" width="6.00" height="4.11" fill="#ec9072"/>
<rect x="259.80" y="152.04" width="3.00" height="4.11" fill="#f6ae91"/>
<rect x="262.80" y="152.04" width="3.00" height="4.11" fill="#fbcbb3"/>
<rect x="265.80" y="152.04" width="6.00" height="4.11" fill="#ffffff"/>
<rect x="271.80" y="152.04" width="6.00" height="4.11" fill="#d6e8f3"/>
<rect x="277.80" y="152.04" width="3.00" height="4.11" fill="#a9d0e6"/>
<rect x="280.80" y="152.04" width="3.00" height="4.11" fill="#ffffff"/>
<rect x="283.80" y="152.04" width="9.00" height="4.11" fill="#fde3d4"/>
<rect x="292.80" y="152.04" width="3.00" height="4.11" fill="#ffffff"/>
<rect x="295.80" y="152.04" width="3.00" height="4.11" fill="#fde3d4"/>
<rect x="298.80" y="152.04" width="3.00" height="4.11" fill="#ffffff"/>
<rect x="301.80" y="152.04" width="9.00" height="4.11" fill="#fde3d4"/>
<rect x="310.80" y="152.04" width="3.00" height="4.11" fill="#fbcbb3"/>
<rect x="313.80" y="152.04" width="3.00" height="4.11" fill="#fde3d4"/>
<rect x="316.80" y="152.04" width="3.00" height="4.11" fill="#fbcbb3"/>
<rect x="319.80" y="152.04" width="3.00" height="4.11" fill="#fde3d4"/>
<rect x="322.80" y="152.04" width="3.00" height="4.11" fill="#fbcbb3"/>
<rect x="325.80" y="152.04" width="3.00" height="4.11" fill="#fde3d4"/>
<rect x="328.80" y="152.04" width="3.00" height="4.11" fill="#fbcbb3"/>
<rect x="331.80" y="152.04" width="9.00" height="4.11" fill="#f6ae91"/>
<rect x="340.80" y="152.04" width="3.00" height="4.11" fill="#e2745c"/>
<rect x="343.80" y="152.04" width="3.00" height="4.11" fill="#d65a4a"/>
<rect x="346.80" y="152.04" width="3.00" height="4.11" fill="#c6343c"/>
<rect x="349.80" y="152.04" width="3.00" height="4.11" fill="#e2745c"/>
<rect x="352.80" y="152.04" width="3.00" height="4.11" fill="#f6ae91"/>
<rect x="232.80" y="156.15" width="3.00" height="4.11" fill="#e3e3e3"/>
<rect x="238.80" y="156.15" width="3.00" height="4.11" fill="#d6e8f3"/>
<rect x="241.80" y="156.15" width="6.00" height="4.11" fill="#fbcbb3"/>
<rect x="250.80" y="156.15" width="3.00" height="4.11" fill="#fbcbb3"/>
<rect x="253.80" y="156.15" width="9.00" height="4.11" fill="#f6ae91"/>
<rect x="262.80" y="156.15" width="9.00" height="4.11" fill="#ffffff"/>
<rect x="271.80" y="156.15" width="3.00" height="4.11" fill="#d6e8f3"/>
<rect x="274.80" y="156.15" width="3.00" height="4.11" fill="#a9d0e6"/>
<rect x="277.80" y="156.15" width="3.00" height="4.11" fill="#d6e8f3"/>
<rect x="280.80" y="156.15" width="3.00" height="4.11" fill="#ffffff"/>
<rect x="283.80" y="156.15" width="6.00" height="4.11" fill="#fde3d4"/>
<rect x="289.80" y="156.15" width="3.00" height="4.11" fill="#ffffff"/>
<rect x="292.80" y="156.15" width="3.00" height="4.11" fill="#fde3d4"/>
<rect x="295.80" y="156.15" width="3.00" height="4.11" fill="#ffffff"/>
<rect x="298.80" y="156.15" width="3.00" height="4.11" fill="#fde3d4"/>
<rect x="301.80" y="156.15" width="3.00" height="4.11" fill="#ffffff"/>
<rect x="304.80" y="156.15" width="21.00" height="4.11" fill="#fde3d4"/>
<rect x="325.80" y="156.15" width="6.00" height="4.11" fill="#fbcbb3"/>
<rect x="331.80" y="156.15" width="3.00" height="4.11" fill="#f6ae91"/>
<rect x="334.80" y="156.15" width="6.00" height="4.11" fill="#fbcbb3"/>
<rect x="340.80" y="156.15" width="3.00" height="4.11" fill="#ec9072"/>
<rect x="343.80" y="156.15" width="3.00" height="4.11" fill="#e2745c"/>
<rect x="346.80" y="156.15" width="3.00" height="4.11" fill="#d65a4a"/>
<rect x="349.80" y="156.15" width="3.00" height="4.11" fill="#ec9072"/>
<rect x="352.80" y="156.15" width="3.00" height="4.11" fill="#f6ae91"/>
<rect x="238.80" y="160.26" width="3.00" height="4.11" fill="#d6e8f3"/>
<rect x="241.80" y="160.26" width="6.00" height="4.11" fill="#fbcbb3"/>
<rect x="253.80" y="160.26" width="9.00" height="4.11" fill="#f6ae91"/>
<rect x="262.80" y="160.26" width="9.00" height="4.11" fill="#ffffff"/>
<rect x="271.80" y="160.26" width="3.00" height="4.11" fill="#d6e8f3"/>
<rect x="274.80" y="160.26" width="3.00" height="4.11" fill="#a9d0e6"/>
<rect x="277.80" y="160.26" width="3.00" height="4.11" fill="#d6e8f3"/>
<rect x="280.80" y="160.26" width="3.00" height="4.11" fill="#ffffff"/>
<rect x="283.80" y="160.26" width="9.00" height="4.11" fill="#fde3d4"/>
<rect x="292.80" y="160.26" width="3.00" height="4.11" fill="#ffffff"/>
<rect x="295.80" y="160.26" width="6.00" height="4.11" fill="#fde3d4"/>
<rect x="301.80" y="160.26" width="3.00" height="4.11" fill="#ffffff"/>
<rect x="304.80" y="160.26" width="24.00" height="4.11" fill="#fde3d4"/>
<rect x="328.80" y="160.26" width="6.00" height="4.11" fill="#fbcbb3"/>
<rect x="334.80" y="160.26" width="3.00" height="4.11" fill="#fde3d4"/>
<rect x="337.80" y="160.26" width="3.00" height="4.11" fill="#fbcbb3"/>
<rect x="340.80" y="160.26" width="3.00" height="4.11" fill="#f6ae91"/>
<rect x="343.80" y="160.26" width="6.00" height="4.11" fill="#e2745c"/>
<rect x="349.80" y="160.26" width="3.00" height="4.11" fill="#ec9072"/>
<rect x="352.80" y="160.26" width="3.00" height="4.11" fill="#fbcbb3"/>
<rect x="235.80" y="164.37" width="3.00" height="4.11" fill="#ffffff"/>
<rect x="238.80" y="164.37" width="3.00" height="4.11" fill="#fde3d4"/>
<rect x="241.80" y="164.37" width="3.00" height="4.11" fill="#fbcbb3"/>
<rect x="244.80" y="164.37" width="6.00" height="4.11" fill="#fde3d4"/>
<rect x="250.80" y="164.37" width="3.00" height="4.11" fill="#e3e3e3"/>
<rect x="253.80" y="164.37" width="3.00" height="4.11" fill="#fde3d4"/>
<rect x="256.80" y="164.37" width="3.00" height="4.11" fill="#fbcbb3"/>
<rect x="259.80" y="164.37" width="3.00" height="4.11" fill="#fde3d4"/>
<rect x="262.80" y="164.37" width="9.00" height="4.11" fill="#ffffff"/>
<rect x="271.80" y="164.37" width="9.00" height="4.11" fill="#d6e8f3"/>
<rect x="280.80" y="164.37" width="3.00" height="4.11" fill="#ffffff"/>
<rect x="283.80" y="164.37" width="6.00" height="4.11" fill="#fde3d4"/>
<rect x="289.80" y="164.37" width="3.00" height="4.11" fill="#ffffff"/>
<rect x="292.80" y="164.37" width="3.00" height="4.11" fill="#fde3d4"/>
<rect x="295.80" y="164.37" width="3.00" height="4.11" fill="#ffffff"/>
<rect x="298.80" y="164.37" width="3.00" height="4.11" fill="#fde3d4"/>
<rect x="301.80" y="164.37" width="3.00" height="4.11" fill="#ffffff"/>
<rect x="304.80" y="164.37" width="18.00" height="4.11" fill="#fde3d4"/>
<rect x="322.80" y="164.37" width="9.00" height="4.11" fill="#fbcbb3"/>
<rect x="331.80" y="164.37" width="3.00" height="4.11" fill="#fde3d4"/>
<rect x="334.80" y="164.37" width="6.00" height="4.11" fill="#fbcbb3"/>
<rect x="340.80" y="164.37" width="6.00" height="4.11" fill="#e2745c"/>
<rect x="346.80" y="164.37" width="3.00" height="4.11" fill="#f6ae91"/>
<rect x="349.80" y="164.37" width="6.00" height="4.11" fill="#fbcbb3"/>
<rect x="235.80" y="168.48" width="3.00" height="4.11" fill="#ffffff"/>
<rect x="238.80" y="168.48" width="3.00" height="4.11" fill="#fde3d4"/>
<rect x="241.80" y="168.48" width="3.00" height="4.11" fill="#fbcbb3"/>
<rect x="244.80" y="168.48" width="6.00" height="4.11" fill="#fde3d4"/>
<rect x="250.80" y="168.48" width="3.00" height="4.11" fill="#e3e3e3"/>
<rect x="253.80" y="168.48" width="9.00" height="4.11" fill="#fde3d4"/>
<rect x="262.80" y="168.48" width="21.00" height="4.11" fill="#ffffff"/>
<rect x="283.80" y="168.48" width="6.00" height="4.11" fill="#fde3d4"/>
<rect x="289.80" y="168.48" width="3.00" height="4.11" fill="#ffffff"/>
<rect x="292.80" y="168.48" width="3.00" height="4.11" fill="#fde3d4"/>
<rect x="295.80" y="168.48" width="3.00" height="4.11" fill="#ffffff"/>
<rect x="298.80" y="168.48" width="3.00" height="4.11" fill="#fde3d4"/>
<rect x="301.80" y="168.48" width="3.00" height="4.11" fill="#ffffff"/>
<rect x="304.80" y="168.48" width="18.00" height="4.11" fill="#fde3d4"/>
<rect x="322.80" y="168.48" width="9.00" height="4.11" fill="#fbcbb3"/>
<rect x="331.80" y="168.48" width="3.00" height="4.11" fill="#fde3d4"/>
<rect x="334.80" y="168.48" width="6.00" height="4.11" fill="#fbcbb3"/>
<rect x="340.80" y="168.48" width="6.00" height="4.11" fill="#f6ae91"/>
<rect x="346.80" y="168.48" width="9.00" height="4.11" fill="#fbcbb3"/>
<rect x="232.80" y="172.59" width="3.00" height="4.11" fill="#d6e8f3"/>
<rect x="235.80" y="172.59" width="3.00" height="4.11" fill="#ffffff"/>
<rect x="238.80" y="172.59" width="6.00" height="4.11" fill="#fde3d4"/>
<rect x="244.80" y="172.59" width="3.00" height="4.11" fill="#e3e3e3"/>
<rect x="247.80" y="172.59" width="3.00" height="4.11" fill="#fde3d4"/>
<rect x="250.80" y="172.59" width="3.00" height="4.11" fill="#e3e3e3"/>
<rect x="253.80" y="172.59" width="9.00" height="4.11" fill="#fde3d4"/>
<rect x="262.80" y="172.59" width="24.00" height="4.11" fill="#ffffff"/>
<rect x="286.80" y="172.59" width="3.00" height="4.11" fill="#fde3d4"/>
<rect x="289.80" y="172.59" width="3.00" height="4.11" fill="#ffffff"/>
<rect x="292.80" y="172.59" width="3.00" height="4.11" fill="#fde3d4"/>
<rect x="295.80" y="172.59" width="6.00" height="4.11" fill="#ffffff"/>
<rect x="301.80" y="172.59" width="3.00" height="4.11" fill="#fde3d4"/>
<rect x="304.80" y="172.59" width="3.00" height="4.11" fill="#ffffff"/>
<rect x="307.80" y="172.59" width="18.00" height="4.11" fill="#fde3d4"/>
<rect x="325.80" y="172.59" width="3.00" height="4.11" fill="#fbcbb3"/>
<rect x="328.80" y="172.59" width="6.00" height="4.11" fill="#fde3d4"/>
<rect x="334.80" y="172.59" width="21.00" height="4.11" fill="#fbcbb3"/>
<rect x="232.80" y="176.70" width="3.00" height="4.11" fill="#d6e8f3"/>
<rect x="235.80" y="176.70" width="3.00" height="4.11" fill="#ffffff"/>
<rect x="238.80" y="176.70" width="6.00" height="4.11" fill="#fde3d4"/>
<rect x="244.80" y="176.70" width="3.00" height="4.11" fill="#e3e3e3"/>
<rect x="247.80" y="176.70" width="3.00" height="4.11" fill="#fde3d4"/>
<rect x="250.80" y="176.70" width="3.00" height="4.11" fill="#ffffff"/>
<rect x="253.80" y="176.70" width="9.00" height="4.11" fill="#fde3d4"/>
<rect x="262.80" y="176.70" width="24.00" height="4.11" fill="#ffffff"/>
<rect x="286.80" y="176.70" width="3.00" height="4.11" fill="#fde3d4"/>
<rect x="289.80" y="176.70" width="3.00" height="4.11" fill="#ffffff"/>
<rect x="292.80" y="176.70" width="3.00" height="4.11" fill="#fde3d4"/>
<rect x="295.80" y="176.70" width="6.00" height="4.11" fill="#ffffff"/>
<rect x="301.80" y="176.70" width="3.00" height="4.11" fill="#fde3d4"/>
<rect x="304.80" y="176.70" width="3.00" height="4.11" fill="#ffffff"/>
<rect x="307.80" y="176.70" width="18.00" height="4.11" fill="#fde3d4"/>
<rect x="325.80" y="176.70" width="3.00" height="4.11" fill="#fbcbb3"/>
<rect x="328.80" y="176.70" width="6.00" height="4.11" fill="#fde3d4"/>
<rect x="334.80" y="176.70" width="21.00" height="4.11" fill="#fbcbb3"/>
<rect x="232.80" y="180.81" width="3.00" height="4.11" fill="#d6e8f3"/>
<rect x="238.80" y="180.81" width="6.00" height="4.11" fill="#fde3d4"/>
<rect x="244.80" y="180.81" width="3.00" height="4.11" fill="#e3e3e3"/>
<rect x="247.80" y="180.81" width="3.00" height="4.11" fill="#fde3d4"/>
<rect x="250.80" y="180.81" width="3.00" height="4.11" fill="#ffffff"/>
<rect x="253.80" y="180.81" width="9.00" height="4.11" fill="#fde3d4"/>
<rect x="262.80" y="180.81" width="33.00" height="4.11" fill="#ffffff"/>
<rect x="295.80" y="180.81" width="3.00" height="4.11" fill="#fde3d4"/>
<rect x="298.80" y="180.81" width="6.00" height="4.11" fill="#ffffff"/>
<rect x="304.80" y="180.81" width="30.00" height="4.11" fill="#fde3d4"/>
<rect x="334.80" y="180.81" width="18.00" height="4.11" fill="#fbcbb3"/>
<rect x="352.80" y="180.81" width="3.00" height="4.11" fill="#fde3d4"/>
<rect x="232.80" y="184.92" width="3.00" height="4.11" fill="#d6e8f3"/>
<rect x="238.80" y="184.92" width="6.00" height="4.11" fill="#fde3d4"/>
<rect x="244.80" y="184.92" width="3.00" height="4.11" fill="#e3e3e3"/>
<rect x="247.80" y="184.92" width="3.00" height="4.11" fill="#fde3d4"/>
<rect x="250.80" y="184.92" width="3.00" height="4.11" fill="#ffffff"/>
<rect x="253.80" y="184.92" width="9.00" height="4.11" fill="#fde3d4"/>
<rect x="262.80" y="184.92" width="33.00" height="4.11" fill="#ffffff"/>
<rect x="295.80" y="184.92" width="3.00" height="4.11" fill="#fde3d4"/>
<rect x="298.80" y="184.92" width="6.00" height="4.11" fill="#ffffff"/>
<rect x="304.80" y="184.92" width="30.00" height="4.11" fill="#fde3d4"/>
<rect x="334.80" y="184.92" width="18.00" height="4.11" fill="#fbcbb3"/>
<rect x="352.80" y="184.92" width="3.00" height="4.11" fill="#fde3d4"/>
<rect x="232.80" y="189.03" width="3.00" height="4.11" fill="#d6e8f3"/>
<rect x="238.80" y="189.03" width="3.00" height="4.11" fill="#ffffff"/>
<rect x="241.80" y="189.03" width="3.00" height="4.11" fill="#fde3d4"/>
<rect x="244.80" y="189.03" width="3.00" height="4.11" fill="#e3e3e3"/>
<rect x="247.80" y="189.03" width="6.00" height="4.11" fill="#fde3d4"/>
<rect x="253.80" y="189.03" width="3.00" height="4.11" fill="#ffffff"/>
<rect x="256.80" y="189.03" width="3.00" height="4.11" fill="#e3e3e3"/>
<rect x="259.80" y="189.03" width="3.00" height="4.11" fill="#fde3d4"/>
<rect x="262.80" y="189.03" width="9.00" height="4.11" fill="#ffffff"/>
<rect x="271.80" y="189.03" width="3.00" height="4.11" fill="#fde3d4"/>
<rect x="274.80" y="189.03" width="3.00" height="4.11" fill="#ffffff"/>
<rect x="277.80" y="189.03" width="3.00" height="4.11" fill="#fde3d4"/>
<rect x="280.80" y="189.03" width="6.00" height="4.11" fill="#ffffff"/>
<rect x="286.80" y="189.03" width="3.00" height="4.11" fill="#fde3d4"/>
<rect x="289.80" y="189.03" width="3.00" height="4.11" fill="#ffffff"/>
<rect x="292.80" y="189.03" width="3.00" height="4.11" fill="#fde3d4"/>
<rect x="295.80" y="189.03" width="3.00" height="4.11" fill="#ffffff"/>
<rect x="298.80" y="189.03" width="3.00" height="4.11" fill="#fde3d4"/>
<rect x="301.80" y="189.03" width="3.00" height="4.11" fill="#ffffff"/>
<rect x="304.80" y="189.03" width="30.00" height="4.11" fill="#fde3d4"/>
<rect x="334.80" y="189.03" width="3.00" height="4.11" fill="#fbcbb3"/>
<rect x="337.80" y="189.03" width="6.00" height="4.11" fill="#fde3d4"/>
<rect x="343.80" y="189.03" width="3.00" height="4.11" fill="#a9d0e6"/>
<rect x="346.80" y="189.03" width="3.00" height="4.11" fill="#d6e8f3"/>
<rect x="232.80" y="193.14" width="3.00" height="4.11" fill="#d6e8f3"/>
<rect x="238.80" y="193.14" width="3.00" height="4.11" fill="#ffffff"/>
<rect x="241.80" y="193.14" width="3.00" height="4.11" fill="#fde3d4"/>
<rect x="244.80" y="193.14" width="3.00" height="4.11" fill="#e3e3e3"/>
<rect x="247.80" y="193.14" width="6.00" height="4.11" fill="#fde3d4"/>
<rect x="253.80" y="193.14" width="3.00" height="4.11" fill="#ffffff"/>
<rect x="256.80" y="193.14" width="3.00" height="4.11" fill="#e3e3e3"/>
<rect x="259.80" y="193.14" width="3.00" height="4.11" fill="#fde3d4"/>
<rect x="262.80" y="193.14" width="9.00" height="4.11" fill="#ffffff"/>
<rect x="271.80" y="193.14" width="3.00" height="4.11" fill="#fde3d4"/>
<rect x="274.80" y="193.14" width="3.00" height="4.11" fill="#ffffff"/>
<rect x="277.80" y="193.14" width="3.00" height="4.11" fill="#fde3d4"/>
<rect x="280.80" y="193.14" width="6.00" height="4.11" fill="#ffffff"/>
<rect x="286.80" y="193.14" width="3.00" height="4.11" fill="#fde3d4"/>
<rect x="289.80" y="193.14" width="3.00" height="4.11" fill="#ffffff"/>
<rect x="292.80" y="193.14" width="3.00" height="4.11" fill="#fde3d4"/>
<rect x="295.80" y="193.14" width="9.00" height="4.11" fill="#ffffff"/>
<rect x="304.80" y="193.14" width="30.00" height="4.11" fill="#fde3d4"/>
<rect x="334.80" y="193.14" width="3.00" height="4.11" fill="#fbcbb3"/>
<rect x="337.80" y="193.14" width="6.00" height="4.11" fill="#fde3d4"/>
<rect x="343.80" y="193.14" width="3.00" height="4.11" fill="#d6e8f3"/>
<rect x="346.80" y="193.14" width="3.00" height="4.11" fill="#ffffff"/>
<rect x="238.80" y="197.25" width="3.00" height="4.11" fill="#ffffff"/>
<rect x="241.80" y="197.25" width="3.00" height="4.11" fill="#fde3d4"/>
<rect x="244.80" y="197.25" width="3.00" height="4.11" fill="#e3e3e3"/>
<rect x="247.80" y="197.25" width="6.00" height="4.11" fill="#fde3d4"/>
<rect x="253.80" y="197.25" width="3.00" height="4.11" fill="#ffffff"/>
<rect x="256.80" y="197.25" width="3.00" height="4.11" fill="#e3e3e3"/>
<rect x="259.80" y="197.25" width="3.00" height="4.11" fill="#fde3d4"/>
<rect x="262.80" y="197.25" width="9.00" height="4.11" fill="#ffffff"/>
<rect x="271.80" y="197.25" width="3.00" height="4.11" fill="#fde3d4"/>
<rect x="274.80" y="197.25" width="3.00" height="4.11" fill="#ffffff"/>
<rect x="277.80" y="197.25" width="3.00" height="4.11" fill="#fde3d4"/>
<rect x="280.80" y="197.25" width="6.00" height="4.11" fill="#ffffff"/>
<rect x="286.80" y="197.25" width="3.00" height="4.11" fill="#fde3d4"/>
<rect x="289.80" y="197.25" width="3.00" height="4.11" fill="#ffffff"/>
<rect x="292.80" y="197.25" width="3.00" height="4.11" fill="#fde3d4"/>
<rect x="295.80" y="197.25" width="9.00" height="4.11" fill="#ffffff"/>
<rect x="304.80" y="197.25" width="30.00" height="4.11" fill="#fde3d4"/>
<rect x="334.80" y="197.25" width="3.00" height="4.11" fill="#fbcbb3"/>
<rect x="337.80" y="197.25" width="6.00" height="4.11" fill="#fde3d4"/>
<rect x="343.80" y="197.25" width="6.00" height="4.11" fill="#ffffff"/>
<rect x="349.80" y="197.25" width="3.00" height="4.11" fill="#fde3d4"/>
<rect x="238.80" y="201.36" width="3.00" height="4.11" fill="#ffffff"/>
<rect x="241.80" y="201.36" width="3.00" height="4.11" fill="#fde3d4"/>
<rect x="244.80" y="201.36" width="3.00" height="4.11" fill="#e3e3e3"/>
<rect x="247.80" y="201.36" width="6.00" height="4.11" fill="#fde3d4"/>
<rect x="253.80" y="201.36" width="3.00" height="4.11" fill="#ffffff"/>
<rect x="256.80" y="201.36" width="3.00" height="4.11" fill="#e3e3e3"/>
<rect x="259.80" y="201.36" width="3.00" height="4.11" fill="#fde3d4"/>
<rect x="262.80" y="201.36" width="9.00" height="4.11" fill="#ffffff"/>
<rect x="271.80" y="201.36" width="3.00" height="4.11" fill="#fde3d4"/>
<rect x="274.80" y="201.36" width="3.00" height="4.11" fill="#ffffff"/>
<rect x="277.80" y="201.36" width="3.00" height="4.11" fill="#fde3d4"/>
<rect x="280.80" y="201.36" width="6.00" height="4.11" fill="#ffffff"/>
<rect x="286.80" y="201.36" width="3.00" height="4.11" fill="#fde3d4"/>
<rect x="289.80" y="201.36" width="3.00" height="4.11" fill="#ffffff"/>
<rect x="292.80" y="201.36" width="3.00" height="4.11" fill="#fde3d4"/>
<rect x="295.80" y="201.36" width="9.00" height="4.11" fill="#ffffff"/>
<rect x="304.80" y="201.36" width="30.00" height="4.11" fill="#fde3d4"/>
<rect x="334.80" y="201.36" width="3.00" height="4.11" fill="#fbcbb3"/>
<rect x="337.80" y="201.36" width="6.00" height="4.11" fill="#fde3d4"/>
<rect x="343.80" y="201.36" width="6.00" height="4.11" fill="#ffffff"/>
<rect x="349.80" y="201.36" width="3.00" height="4.11" fill="#fde3d4"/>
<rect x="238.80" y="205.47" width="3.00" height="4.11" fill="#ffffff"/>
<rect x="241.80" y="205.47" width="3.00" height="4.11" fill="#fde3d4"/>
<rect x="253.80" y="205.47" width="6.00" height="4.11" fill="#e3e3e3"/>
<rect x="259.80" y="205.47" width="3.00" height="4.11" fill="#fde3d4"/>
<rect x="262.80" y="205.47" width="6.00" height="4.11" fill="#ffffff"/>
<rect x="286.80" y="205.47" width="3.00" height="4.11" fill="#fde3d4"/>
<rect x="289.80" y="205.47" width="21.00" height="4.11" fill="#e3e3e3"/>
<rect x="310.80" y="205.47" width="18.00" height="4.11" fill="#fde3d4"/>
<rect x="328.80" y="205.47" width="3.00" height="4.11" fill="#ffffff"/>
<rect x="331.80" y="205.47" width="12.00" height="4.11" fill="#fde3d4"/>
<rect x="238.80" y="209.58" width="3.00" height="4.11" fill="#ffffff"/>
<rect x="241.80" y="209.58" width="3.00" height="4.11" fill="#fde3d4"/>
<rect x="253.80" y="209.58" width="6.00" height="4.11" fill="#e3e3e3"/>
<rect x="259.80" y="209.58" width="3.00" height="4.11" fill="#fde3d4"/>
<rect x="262.80" y="209.58" width="6.00" height="4.11" fill="#ffffff"/>
<rect x="286.80" y="209.58" width="3.00" height="4.11" fill="#fde3d4"/>
<rect x="289.80" y="209.58" width="21.00" height="4.11" fill="#e3e3e3"/>
<rect x="310.80" y="209.58" width="18.00" height="4.11" fill="#fde3d4"/>
<rect x="328.80" y="209.58" width="3.00" height="4.11" fill="#ffffff"/>
<rect x="331.80" y="209.58" width="12.00" height="4.11" fill="#fde3d4"/>
<rect x="238.80" y="213.69" width="3.00" height="5.11" fill="#ffffff"/>
<rect x="241.80" y="213.69" width="3.00" height="5.11" fill="#fde3d4"/>
<rect x="253.80" y="213.69" width="6.00" height="5.11" fill="#e3e3e3"/>
<rect x="259.80" y="213.69" width="3.00" height="5.11" fill="#fde3d4"/>
<rect x="262.80" y="213.69" width="6.00" height="5.11" fill="#ffffff"/>
<rect x="286.80" y="213.69" width="3.00" height="5.11" fill="#fde3d4"/>
<rect x="289.80" y="213.69" width="21.00" height="5.11" fill="#e3e3e3"/>
<rect x="310.80" y="213.69" width="18.00" height="5.11" fill="#fde3d4"/>
<rect x="328.80" y="213.69" width="3.00" height="5.11" fill="#ffffff"/>
<rect x="331.80" y="213.69" width="12.00" height="5.11" fill="#fde3d4"/>
</g>
<path d="M245.3,135.9 L246.6,139.6 L248.5,141.5 L251,142.7 L253.4,145.2 L255.3,147.7 L256.5,150.2 L257.8,152.7 L258.4,155.2 L259,158.9 L259.7,164 L259.5,170 L259,176" fill="none" stroke="#141414" stroke-width="0.85" stroke-linejoin="round"/>
<path d="M256.5,150.2 L258.4,147.7 L260.3,145.2 L261.5,142.7 L262.8,140.8 L264.6,139 L267.1,138.4 L269.6,139.6 L273.4,140.8 L278.3,140.2 L283.3,138.4 L288.3,137.1 L295.8,135.9" fill="none" stroke="#141414" stroke-width="0.85" stroke-linejoin="round"/>
<path d="M266,151 L268.7,150.1 L271.5,145.9 L274,144.5 L277.2,143 L281.4,141.6 L282.1,144.5 L281.4,150.1 L280.7,157.2 L281.4,162.8 L282.8,167 L280,168 L276,165 L273,168 L270,166 L268,162 L267,157 L266,151" fill="none" stroke="#141414" stroke-width="0.85" stroke-linejoin="round"/>
<path d="M264,149 C262,149 262,152 264,152 C266,152 266,149 264,149 Z" fill="none" stroke="#141414" stroke-width="0.85" stroke-linejoin="round"/>
<path d="M266,153 C264,153 264,156 266.5,156 C268.5,156 268.5,153 266,153 Z" fill="none" stroke="#141414" stroke-width="0.85" stroke-linejoin="round"/>
<path d="M264.5,140 C263,140 263,143 264.8,143 C266.5,143 266.5,140 264.5,140 Z" fill="none" stroke="#141414" stroke-width="0.85" stroke-linejoin="round"/>
<path d="M258.4,136.2 L266,135.9 L275,136.5 L283,136.2 L290,135.4" fill="none" stroke="#141414" stroke-width="0.85" stroke-linejoin="round"/>
<path d="M290,140.2 L295,142.7 L300,145.2 L306.2,147.7 L311.2,149.6 L314.9,150.8 L318.6,153.9 L322.4,156.4" fill="none" stroke="#141414" stroke-width="0.85" stroke-linejoin="round"/>
<path d="M295,139 L300,140.2 L305,140.8 L310,142.1 L315,141.5 L320,140.2 L323,139 L323.6,137.1 L324.2,141.5 L325.5,146.5 L326.7,149" fill="none" stroke="#141414" stroke-width="0.85" stroke-linejoin="round"/>
<path d="M326,149.5 C324,149.5 324,152 326.5,152 C329,152 329,149.5 326,149.5 Z" fill="none" stroke="#141414" stroke-width="0.85" stroke-linejoin="round"/>
<path d="M327.4,145.2 L331.1,142.7 L334.8,140.2 L338.6,138.4 L341.1,136.5 L343,135.8" fill="none" stroke="#141414" stroke-width="0.85" stroke-linejoin="round"/>
<path d="M290.5,137 C289.5,137 289.5,139 291,139 C292.5,139 292.5,137 290.5,137 Z" fill="none" stroke="#141414" stroke-width="0.85" stroke-linejoin="round"/>
<path d="M293,137 C292,137 292,139.5 293.5,139.5 C295,139.5 295,137 293,137 Z" fill="none" stroke="#141414" stroke-width="0.85" stroke-linejoin="round"/>
<path d="M320,160 C318.5,160 318.5,161.8 320.5,161.8 C322.5,161.8 322.5,160 320,160 Z" fill="none" stroke="#141414" stroke-width="0.85" stroke-linejoin="round"/>
<path d="M333.6,146.5 L334.5,152 L335.5,158 L336,164 L337,170 L338,176 L338.5,184" fill="none" stroke="#141414" stroke-width="0.85" stroke-linejoin="round"/>
<path d="M339.8,136.5 L340.2,145 L340.8,152 L341.3,158 L341.7,164 L341.5,172 L342,180" fill="none" stroke="#141414" stroke-width="0.85" stroke-linejoin="round"/>
<path d="M344.5,137 L344.2,145 L344.8,152 L345.5,158 L346.5,164 L347,172" fill="none" stroke="#141414" stroke-width="0.85" stroke-linejoin="round"/>
<path d="M346,142 C346,140 349,140 349,142 C349,144 346,144 346,142 Z" fill="none" stroke="#141414" stroke-width="0.85" stroke-linejoin="round"/>
<path d="M347,146.5 C347,144.5 350,144.5 350,146.5 C350,148.5 347,148.5 347,146.5 Z" fill="none" stroke="#141414" stroke-width="0.85" stroke-linejoin="round"/>
<path d="M345.5,151 C345.5,149 349,149 349,151 C349,153 345.5,153 345.5,151 Z" fill="none" stroke="#141414" stroke-width="0.85" stroke-linejoin="round"/>
<path d="M348,155.5 C348,153.5 351,153.5 351,155.5 C351,157.5 348,157.5 348,155.5 Z" fill="none" stroke="#141414" stroke-width="0.85" stroke-linejoin="round"/>
<path d="M351.5,136 L352,145 L351.5,155 L352,162" fill="none" stroke="#141414" stroke-width="0.85" stroke-linejoin="round"/>
<path d="M240,145 C238.5,145 238.5,147 240,147 C241.5,147 241.5,145 240,145 Z" fill="none" stroke="#141414" stroke-width="0.85" stroke-linejoin="round"/>
<path d="M241,148.5 C239.5,148.5 239.5,151 241.2,151 C243,151 243,148.5 241,148.5 Z" fill="none" stroke="#141414" stroke-width="0.85" stroke-linejoin="round"/>
<path d="M243,151 L242.5,155 M245,156 L245.5,160" fill="none" stroke="#141414" stroke-width="0.85" stroke-linejoin="round"/>
<path d="M241,168 L242,176" fill="none" stroke="#141414" stroke-width="0.85" stroke-linejoin="round"/>
<path d="M243,182 L243.5,188" fill="none" stroke="#141414" stroke-width="0.85" stroke-linejoin="round"/>
<path d="M269,168 L268,175 L270,180 L268,186 L269,192" fill="none" stroke="#141414" stroke-width="0.85" stroke-linejoin="round"/>
<path d="M272,170 L273,178" fill="none" stroke="#141414" stroke-width="0.85" stroke-linejoin="round"/>
<path d="M268,205 C266.5,205 266.5,207 268.5,207 C270.5,207 270.5,205 268,205 Z" fill="none" stroke="#141414" stroke-width="0.85" stroke-linejoin="round"/>
<path d="M268,200 L268.3,205 M268.3,207 L268.5,214" fill="none" stroke="#141414" stroke-width="0.85" stroke-linejoin="round"/>
<path d="M326,178 L327,188" fill="none" stroke="#141414" stroke-width="0.85" stroke-linejoin="round"/>
<path d="M334,170 L333.5,176 C331.5,176 331.5,178 333.5,178" fill="none" stroke="#141414" stroke-width="0.85" stroke-linejoin="round"/>
<path d="M338,186 L338.5,196 M337,200 C335.5,200 335.5,202 337.5,202 C339.5,202 339.5,200 337,200 Z" fill="none" stroke="#141414" stroke-width="0.85" stroke-linejoin="round"/>
<path d="M336,204 C334.5,204 334.5,206 336.5,206 C338.5,206 338.5,204 336,204 Z" fill="none" stroke="#141414" stroke-width="0.85" stroke-linejoin="round"/>
<path d="M337,206 L337.5,216" fill="none" stroke="#141414" stroke-width="0.85" stroke-linejoin="round"/>
<path d="M340,188 L341,200 L342,214" fill="none" stroke="#141414" stroke-width="0.85" stroke-linejoin="round"/>
<path d="M345,180 L347,183 L346,186 L349,184" fill="none" stroke="#141414" stroke-width="0.85" stroke-linejoin="round"/>
<path d="M344,176 C342.5,176 342.5,178 344.5,178 C346.5,178 346.5,176 344,176 Z" fill="none" stroke="#141414" stroke-width="0.85" stroke-linejoin="round"/>
<text x="283" y="143" font-size="5.5" fill="#1a1a1a">0.2</text>
<text x="318" y="159" font-size="5.5" fill="#1a1a1a">0.2</text>
<text transform="translate(217.60000000000002,139.50) scale(1,1.12)" font-size="7.8" text-anchor="end" fill="#333">0</text>
<text transform="translate(217.60000000000002,160.05) scale(1,1.12)" font-size="7.8" text-anchor="end" fill="#333">-500</text>
<text transform="translate(217.60000000000002,180.60) scale(1,1.12)" font-size="7.8" text-anchor="end" fill="#333">-1000</text>
<text transform="translate(217.60000000000002,201.15) scale(1,1.12)" font-size="7.8" text-anchor="end" fill="#333">-1500</text>
<text transform="translate(217.60000000000002,221.70) scale(1,1.12)" font-size="7.8" text-anchor="end" fill="#333">-2000</text>
<text transform="translate(252.13,229.70) scale(1,1.12)" font-size="7.8" text-anchor="middle" fill="#333">-50</text>
<text transform="translate(291.30,229.70) scale(1,1.12)" font-size="7.8" text-anchor="middle" fill="#333">0</text>
<text transform="translate(330.47,229.70) scale(1,1.12)" font-size="7.8" text-anchor="middle" fill="#333">50</text>
<text transform="translate(291.30,237.80) scale(1,1.12)" font-size="8" text-anchor="middle" fill="#333">Latitude [° N]</text>
<text transform="translate(194.20,176.70) rotate(-90) scale(1,1.12)" font-size="8" text-anchor="middle" fill="#333">Depth [m]</text>
<text transform="translate(291.30,129.50) scale(1,1.12)" font-size="8" font-weight="bold" text-anchor="middle" fill="#111" stroke="#111" stroke-width="0.2">ANT</text>
<text x="356.50" y="129.30" font-size="6.4" font-weight="bold" text-anchor="end" fill="#222" stroke="#222" stroke-width="0.25">(corr = 0.59)</text>
<text transform="translate(204.8,125.0) scale(1,1.12)" font-size="7.8" font-weight="bold" fill="#111">e</text>
<rect x="406.5" y="135.6" width="140.89999999999998" height="82.20000000000002" fill="#cbcbcb" stroke="#7a7a7a" stroke-width="0.8"/>
<line x1="406.5" x2="407.9" y1="156.15" y2="156.15" stroke="#555" stroke-width="0.5"/>
<line x1="547.4" x2="546.0" y1="156.15" y2="156.15" stroke="#555" stroke-width="0.5"/>
<line x1="406.5" x2="407.9" y1="176.70" y2="176.70" stroke="#555" stroke-width="0.5"/>
<line x1="547.4" x2="546.0" y1="176.70" y2="176.70" stroke="#555" stroke-width="0.5"/>
<line x1="406.5" x2="407.9" y1="197.25" y2="197.25" stroke="#555" stroke-width="0.5"/>
<line x1="547.4" x2="546.0" y1="197.25" y2="197.25" stroke="#555" stroke-width="0.5"/>
<line x1="437.81" x2="437.81" y1="217.8" y2="216.4" stroke="#555" stroke-width="0.5"/>
<line x1="437.81" x2="437.81" y1="135.6" y2="137.0" stroke="#555" stroke-width="0.5"/>
<line x1="476.95" x2="476.95" y1="217.8" y2="216.4" stroke="#555" stroke-width="0.5"/>
<line x1="476.95" x2="476.95" y1="135.6" y2="137.0" stroke="#555" stroke-width="0.5"/>
<line x1="516.09" x2="516.09" y1="217.8" y2="216.4" stroke="#555" stroke-width="0.5"/>
<line x1="516.09" x2="516.09" y1="135.6" y2="137.0" stroke="#555" stroke-width="0.5"/>
<clipPath id="cpf"><rect x="406.5" y="134.6" width="134.00" height="84.20"/></clipPath>
<g clip-path="url(#cpf)" shape-rendering="crispEdges">
<rect x="415.49" y="134.60" width="3.00" height="5.11" fill="#5fa3d0"/>
<rect x="418.49" y="134.60" width="3.00" height="5.11" fill="#ffffff"/>
<rect x="421.49" y="134.60" width="3.00" height="5.11" fill="#a9d0e6"/>
<rect x="424.49" y="134.60" width="6.00" height="5.11" fill="#ffffff"/>
<rect x="430.48" y="134.60" width="8.99" height="5.11" fill="#d6e8f3"/>
<rect x="439.48" y="134.60" width="3.00" height="5.11" fill="#a9d0e6"/>
<rect x="442.47" y="134.60" width="3.00" height="5.11" fill="#5fa3d0"/>
<rect x="445.47" y="134.60" width="29.98" height="5.11" fill="#2f72b0"/>
<rect x="475.45" y="134.60" width="8.99" height="5.11" fill="#5fa3d0"/>
<rect x="484.44" y="134.60" width="6.00" height="5.11" fill="#2f72b0"/>
<rect x="490.44" y="134.60" width="14.99" height="5.11" fill="#5fa3d0"/>
<rect x="505.43" y="134.60" width="3.00" height="5.11" fill="#a9d0e6"/>
<rect x="508.43" y="134.60" width="17.99" height="5.11" fill="#2f72b0"/>
<rect x="526.41" y="134.60" width="14.99" height="5.11" fill="#0c3c71"/>
<rect x="415.49" y="139.71" width="3.00" height="4.11" fill="#5fa3d0"/>
<rect x="418.49" y="139.71" width="3.00" height="4.11" fill="#fde3d4"/>
<rect x="421.49" y="139.71" width="3.00" height="4.11" fill="#a9d0e6"/>
<rect x="424.49" y="139.71" width="3.00" height="4.11" fill="#d6e8f3"/>
<rect x="427.49" y="139.71" width="6.00" height="4.11" fill="#ffffff"/>
<rect x="433.48" y="139.71" width="3.00" height="4.11" fill="#d6e8f3"/>
<rect x="436.48" y="139.71" width="3.00" height="4.11" fill="#ffffff"/>
<rect x="439.48" y="139.71" width="3.00" height="4.11" fill="#d6e8f3"/>
<rect x="442.47" y="139.71" width="3.00" height="4.11" fill="#5fa3d0"/>
<rect x="445.47" y="139.71" width="6.00" height="4.11" fill="#2f72b0"/>
<rect x="451.47" y="139.71" width="8.99" height="4.11" fill="#0c3c71"/>
<rect x="460.46" y="139.71" width="11.99" height="4.11" fill="#2f72b0"/>
<rect x="472.45" y="139.71" width="6.00" height="4.11" fill="#5fa3d0"/>
<rect x="478.45" y="139.71" width="6.00" height="4.11" fill="#a9d0e6"/>
<rect x="484.44" y="139.71" width="3.00" height="4.11" fill="#ffffff"/>
<rect x="487.44" y="139.71" width="6.00" height="4.11" fill="#d6e8f3"/>
<rect x="493.44" y="139.71" width="11.99" height="4.11" fill="#a9d0e6"/>
<rect x="505.43" y="139.71" width="3.00" height="4.11" fill="#5fa3d0"/>
<rect x="508.43" y="139.71" width="20.99" height="4.11" fill="#2f72b0"/>
<rect x="529.41" y="139.71" width="11.99" height="4.11" fill="#0c3c71"/>
<rect x="415.49" y="143.82" width="3.00" height="4.11" fill="#5fa3d0"/>
<rect x="418.49" y="143.82" width="3.00" height="4.11" fill="#ffffff"/>
<rect x="421.49" y="143.82" width="3.00" height="4.11" fill="#a9d0e6"/>
<rect x="424.49" y="143.82" width="3.00" height="4.11" fill="#d6e8f3"/>
<rect x="427.49" y="143.82" width="6.00" height="4.11" fill="#ffffff"/>
<rect x="433.48" y="143.82" width="6.00" height="4.11" fill="#d6e8f3"/>
<rect x="439.48" y="143.82" width="6.00" height="4.11" fill="#a9d0e6"/>
<rect x="445.47" y="143.82" width="3.00" height="4.11" fill="#5fa3d0"/>
<rect x="448.47" y="143.82" width="20.99" height="4.11" fill="#2f72b0"/>
<rect x="469.46" y="143.82" width="6.00" height="4.11" fill="#5fa3d0"/>
<rect x="475.45" y="143.82" width="8.99" height="4.11" fill="#a9d0e6"/>
<rect x="484.44" y="143.82" width="6.00" height="4.11" fill="#ffffff"/>
<rect x="490.44" y="143.82" width="14.99" height="4.11" fill="#a9d0e6"/>
<rect x="505.43" y="143.82" width="8.99" height="4.11" fill="#5fa3d0"/>
<rect x="514.42" y="143.82" width="11.99" height="4.11" fill="#2f72b0"/>
<rect x="526.41" y="143.82" width="3.00" height="4.11" fill="#5fa3d0"/>
<rect x="529.41" y="143.82" width="11.99" height="4.11" fill="#0c3c71"/>
<rect x="415.49" y="147.93" width="3.00" height="4.11" fill="#a9d0e6"/>
<rect x="418.49" y="147.93" width="3.00" height="4.11" fill="#ffffff"/>
<rect x="421.49" y="147.93" width="6.00" height="4.11" fill="#d6e8f3"/>
<rect x="427.49" y="147.93" width="6.00" height="4.11" fill="#ffffff"/>
<rect x="433.48" y="147.93" width="6.00" height="4.11" fill="#d6e8f3"/>
<rect x="439.48" y="147.93" width="6.00" height="4.11" fill="#a9d0e6"/>
<rect x="445.47" y="147.93" width="8.99" height="4.11" fill="#5fa3d0"/>
<rect x="454.47" y="147.93" width="3.00" height="4.11" fill="#2f72b0"/>
<rect x="457.46" y="147.93" width="11.99" height="4.11" fill="#5fa3d0"/>
<rect x="469.46" y="147.93" width="14.99" height="4.11" fill="#a9d0e6"/>
<rect x="484.44" y="147.93" width="6.00" height="4.11" fill="#ffffff"/>
<rect x="490.44" y="147.93" width="14.99" height="4.11" fill="#a9d0e6"/>
<rect x="505.43" y="147.93" width="6.00" height="4.11" fill="#5fa3d0"/>
<rect x="511.43" y="147.93" width="6.00" height="4.11" fill="#a9d0e6"/>
<rect x="517.42" y="147.93" width="6.00" height="4.11" fill="#5fa3d0"/>
<rect x="523.42" y="147.93" width="3.00" height="4.11" fill="#fde3d4"/>
<rect x="526.41" y="147.93" width="6.00" height="4.11" fill="#2f72b0"/>
<rect x="532.41" y="147.93" width="6.00" height="4.11" fill="#0c3c71"/>
<rect x="538.41" y="147.93" width="3.00" height="4.11" fill="#2f72b0"/>
<rect x="418.49" y="152.04" width="3.00" height="4.11" fill="#ffffff"/>
<rect x="421.49" y="152.04" width="3.00" height="4.11" fill="#d6e8f3"/>
<rect x="424.49" y="152.04" width="8.99" height="4.11" fill="#ffffff"/>
<rect x="433.48" y="152.04" width="3.00" height="4.11" fill="#d6e8f3"/>
<rect x="439.48" y="152.04" width="8.99" height="4.11" fill="#a9d0e6"/>
<rect x="448.47" y="152.04" width="6.00" height="4.11" fill="#5fa3d0"/>
<rect x="454.47" y="152.04" width="26.98" height="4.11" fill="#a9d0e6"/>
<rect x="481.45" y="152.04" width="3.00" height="4.11" fill="#d6e8f3"/>
<rect x="484.44" y="152.04" width="6.00" height="4.11" fill="#ffffff"/>
<rect x="490.44" y="152.04" width="32.98" height="4.11" fill="#a9d0e6"/>
<rect x="523.42" y="152.04" width="3.00" height="4.11" fill="#fbcbb3"/>
<rect x="526.41" y="152.04" width="3.00" height="4.11" fill="#fde3d4"/>
<rect x="529.41" y="152.04" width="3.00" height="4.11" fill="#2f72b0"/>
<rect x="532.41" y="152.04" width="3.00" height="4.11" fill="#5fa3d0"/>
<rect x="535.41" y="152.04" width="3.00" height="4.11" fill="#2f72b0"/>
<rect x="538.41" y="152.04" width="3.00" height="4.11" fill="#5fa3d0"/>
<rect x="418.49" y="156.15" width="6.00" height="4.11" fill="#ffffff"/>
<rect x="424.49" y="156.15" width="3.00" height="4.11" fill="#d6e8f3"/>
<rect x="427.49" y="156.15" width="3.00" height="4.11" fill="#ffffff"/>
<rect x="433.48" y="156.15" width="3.00" height="4.11" fill="#d6e8f3"/>
<rect x="439.48" y="156.15" width="3.00" height="4.11" fill="#d6e8f3"/>
<rect x="442.47" y="156.15" width="6.00" height="4.11" fill="#a9d0e6"/>
<rect x="448.47" y="156.15" width="3.00" height="4.11" fill="#5fa3d0"/>
<rect x="451.47" y="156.15" width="14.99" height="4.11" fill="#a9d0e6"/>
<rect x="466.46" y="156.15" width="3.00" height="4.11" fill="#d6e8f3"/>
<rect x="469.46" y="156.15" width="3.00" height="4.11" fill="#a9d0e6"/>
<rect x="472.45" y="156.15" width="3.00" height="4.11" fill="#d6e8f3"/>
<rect x="475.45" y="156.15" width="6.00" height="4.11" fill="#a9d0e6"/>
<rect x="481.45" y="156.15" width="3.00" height="4.11" fill="#d6e8f3"/>
<rect x="484.44" y="156.15" width="6.00" height="4.11" fill="#ffffff"/>
<rect x="490.44" y="156.15" width="3.00" height="4.11" fill="#d6e8f3"/>
<rect x="493.44" y="156.15" width="20.99" height="4.11" fill="#a9d0e6"/>
<rect x="514.42" y="156.15" width="3.00" height="4.11" fill="#d6e8f3"/>
<rect x="517.42" y="156.15" width="3.00" height="4.11" fill="#a9d0e6"/>
<rect x="520.42" y="156.15" width="3.00" height="4.11" fill="#fde3d4"/>
<rect x="523.42" y="156.15" width="3.00" height="4.11" fill="#fbcbb3"/>
<rect x="526.41" y="156.15" width="3.00" height="4.11" fill="#fde3d4"/>
<rect x="529.41" y="156.15" width="3.00" height="4.11" fill="#5fa3d0"/>
<rect x="532.41" y="156.15" width="3.00" height="4.11" fill="#2f72b0"/>
<rect x="535.41" y="156.15" width="6.00" height="4.11" fill="#5fa3d0"/>
<rect x="418.49" y="160.26" width="6.00" height="4.11" fill="#ffffff"/>
<rect x="424.49" y="160.26" width="3.00" height="4.11" fill="#d6e8f3"/>
<rect x="427.49" y="160.26" width="3.00" height="4.11" fill="#ffffff"/>
<rect x="433.48" y="160.26" width="3.00" height="4.11" fill="#d6e8f3"/>
<rect x="439.48" y="160.26" width="3.00" height="4.11" fill="#d6e8f3"/>
<rect x="442.47" y="160.26" width="14.99" height="4.11" fill="#a9d0e6"/>
<rect x="457.46" y="160.26" width="3.00" height="4.11" fill="#d6e8f3"/>
<rect x="460.46" y="160.26" width="3.00" height="4.11" fill="#a9d0e6"/>
<rect x="463.46" y="160.26" width="11.99" height="4.11" fill="#d6e8f3"/>
<rect x="475.45" y="160.26" width="6.00" height="4.11" fill="#a9d0e6"/>
<rect x="481.45" y="160.26" width="3.00" height="4.11" fill="#d6e8f3"/>
<rect x="484.44" y="160.26" width="6.00" height="4.11" fill="#ffffff"/>
<rect x="490.44" y="160.26" width="3.00" height="4.11" fill="#d6e8f3"/>
<rect x="493.44" y="160.26" width="17.99" height="4.11" fill="#a9d0e6"/>
<rect x="511.43" y="160.26" width="8.99" height="4.11" fill="#d6e8f3"/>
<rect x="520.42" y="160.26" width="3.00" height="4.11" fill="#fde3d4"/>
<rect x="523.42" y="160.26" width="3.00" height="4.11" fill="#fbcbb3"/>
<rect x="526.41" y="160.26" width="3.00" height="4.11" fill="#fde3d4"/>
<rect x="529.41" y="160.26" width="11.99" height="4.11" fill="#5fa3d0"/>
<rect x="418.49" y="164.37" width="3.00" height="4.11" fill="#fde3d4"/>
<rect x="424.49" y="164.37" width="3.00" height="4.11" fill="#d6e8f3"/>
<rect x="427.49" y="164.37" width="3.00" height="4.11" fill="#ffffff"/>
<rect x="430.48" y="164.37" width="6.00" height="4.11" fill="#e3e3e3"/>
<rect x="439.48" y="164.37" width="6.00" height="4.11" fill="#d6e8f3"/>
<rect x="445.47" y="164.37" width="3.00" height="4.11" fill="#5fa3d0"/>
<rect x="448.47" y="164.37" width="3.00" height="4.11" fill="#a9d0e6"/>
<rect x="451.47" y="164.37" width="3.00" height="4.11" fill="#d6e8f3"/>
<rect x="454.47" y="164.37" width="8.99" height="4.11" fill="#a9d0e6"/>
<rect x="463.46" y="164.37" width="3.00" height="4.11" fill="#d6e8f3"/>
<rect x="466.46" y="164.37" width="23.98" height="4.11" fill="#a9d0e6"/>
<rect x="490.44" y="164.37" width="3.00" height="4.11" fill="#ffffff"/>
<rect x="493.44" y="164.37" width="3.00" height="4.11" fill="#d6e8f3"/>
<rect x="496.44" y="164.37" width="3.00" height="4.11" fill="#ffffff"/>
<rect x="499.43" y="164.37" width="11.99" height="4.11" fill="#a9d0e6"/>
<rect x="511.43" y="164.37" width="8.99" height="4.11" fill="#ffffff"/>
<rect x="520.42" y="164.37" width="3.00" height="4.11" fill="#fde3d4"/>
<rect x="523.42" y="164.37" width="8.99" height="4.11" fill="#fbcbb3"/>
<rect x="532.41" y="164.37" width="3.00" height="4.11" fill="#fde3d4"/>
<rect x="535.41" y="164.37" width="3.00" height="4.11" fill="#a9d0e6"/>
<rect x="538.41" y="164.37" width="3.00" height="4.11" fill="#5fa3d0"/>
<rect x="418.49" y="168.48" width="3.00" height="4.11" fill="#fde3d4"/>
<rect x="424.49" y="168.48" width="3.00" height="4.11" fill="#d6e8f3"/>
<rect x="427.49" y="168.48" width="3.00" height="4.11" fill="#ffffff"/>
<rect x="430.48" y="168.48" width="6.00" height="4.11" fill="#e3e3e3"/>
<rect x="439.48" y="168.48" width="6.00" height="4.11" fill="#d6e8f3"/>
<rect x="445.47" y="168.48" width="3.00" height="4.11" fill="#5fa3d0"/>
<rect x="448.47" y="168.48" width="14.99" height="4.11" fill="#a9d0e6"/>
<rect x="463.46" y="168.48" width="3.00" height="4.11" fill="#ffffff"/>
<rect x="466.46" y="168.48" width="6.00" height="4.11" fill="#a9d0e6"/>
<rect x="472.45" y="168.48" width="3.00" height="4.11" fill="#d6e8f3"/>
<rect x="475.45" y="168.48" width="14.99" height="4.11" fill="#a9d0e6"/>
<rect x="490.44" y="168.48" width="3.00" height="4.11" fill="#ffffff"/>
<rect x="493.44" y="168.48" width="3.00" height="4.11" fill="#d6e8f3"/>
<rect x="496.44" y="168.48" width="3.00" height="4.11" fill="#ffffff"/>
<rect x="499.43" y="168.48" width="11.99" height="4.11" fill="#a9d0e6"/>
<rect x="511.43" y="168.48" width="8.99" height="4.11" fill="#ffffff"/>
<rect x="520.42" y="168.48" width="3.00" height="4.11" fill="#fde3d4"/>
<rect x="523.42" y="168.48" width="8.99" height="4.11" fill="#fbcbb3"/>
<rect x="532.41" y="168.48" width="3.00" height="4.11" fill="#fde3d4"/>
<rect x="535.41" y="168.48" width="3.00" height="4.11" fill="#d6e8f3"/>
<rect x="538.41" y="168.48" width="3.00" height="4.11" fill="#a9d0e6"/>
<rect x="418.49" y="172.59" width="3.00" height="4.11" fill="#fde3d4"/>
<rect x="424.49" y="172.59" width="3.00" height="4.11" fill="#a9d0e6"/>
<rect x="427.49" y="172.59" width="3.00" height="4.11" fill="#ffffff"/>
<rect x="430.48" y="172.59" width="6.00" height="4.11" fill="#e3e3e3"/>
<rect x="439.48" y="172.59" width="3.00" height="4.11" fill="#d6e8f3"/>
<rect x="442.47" y="172.59" width="3.00" height="4.11" fill="#ffffff"/>
<rect x="445.47" y="172.59" width="3.00" height="4.11" fill="#a9d0e6"/>
<rect x="448.47" y="172.59" width="3.00" height="4.11" fill="#d6e8f3"/>
<rect x="451.47" y="172.59" width="8.99" height="4.11" fill="#a9d0e6"/>
<rect x="460.46" y="172.59" width="3.00" height="4.11" fill="#d6e8f3"/>
<rect x="463.46" y="172.59" width="3.00" height="4.11" fill="#ffffff"/>
<rect x="466.46" y="172.59" width="3.00" height="4.11" fill="#a9d0e6"/>
<rect x="469.46" y="172.59" width="3.00" height="4.11" fill="#d6e8f3"/>
<rect x="472.45" y="172.59" width="14.99" height="4.11" fill="#a9d0e6"/>
<rect x="487.44" y="172.59" width="3.00" height="4.11" fill="#d6e8f3"/>
<rect x="490.44" y="172.59" width="8.99" height="4.11" fill="#ffffff"/>
<rect x="499.43" y="172.59" width="8.99" height="4.11" fill="#a9d0e6"/>
<rect x="508.43" y="172.59" width="3.00" height="4.11" fill="#d6e8f3"/>
<rect x="511.43" y="172.59" width="8.99" height="4.11" fill="#ffffff"/>
<rect x="520.42" y="172.59" width="6.00" height="4.11" fill="#fde3d4"/>
<rect x="526.41" y="172.59" width="6.00" height="4.11" fill="#fbcbb3"/>
<rect x="532.41" y="172.59" width="3.00" height="4.11" fill="#fde3d4"/>
<rect x="535.41" y="172.59" width="3.00" height="4.11" fill="#ffffff"/>
<rect x="538.41" y="172.59" width="3.00" height="4.11" fill="#d6e8f3"/>
<rect x="418.49" y="176.70" width="3.00" height="4.11" fill="#fde3d4"/>
<rect x="424.49" y="176.70" width="3.00" height="4.11" fill="#a9d0e6"/>
<rect x="427.49" y="176.70" width="3.00" height="4.11" fill="#ffffff"/>
<rect x="430.48" y="176.70" width="8.99" height="4.11" fill="#e3e3e3"/>
<rect x="439.48" y="176.70" width="11.99" height="4.11" fill="#ffffff"/>
<rect x="451.47" y="176.70" width="3.00" height="4.11" fill="#d6e8f3"/>
<rect x="454.47" y="176.70" width="3.00" height="4.11" fill="#a9d0e6"/>
<rect x="457.46" y="176.70" width="6.00" height="4.11" fill="#d6e8f3"/>
<rect x="463.46" y="176.70" width="3.00" height="4.11" fill="#ffffff"/>
<rect x="466.46" y="176.70" width="6.00" height="4.11" fill="#d6e8f3"/>
<rect x="472.45" y="176.70" width="14.99" height="4.11" fill="#a9d0e6"/>
<rect x="487.44" y="176.70" width="3.00" height="4.11" fill="#d6e8f3"/>
<rect x="490.44" y="176.70" width="8.99" height="4.11" fill="#ffffff"/>
<rect x="499.43" y="176.70" width="6.00" height="4.11" fill="#a9d0e6"/>
<rect x="505.43" y="176.70" width="6.00" height="4.11" fill="#d6e8f3"/>
<rect x="511.43" y="176.70" width="8.99" height="4.11" fill="#ffffff"/>
<rect x="520.42" y="176.70" width="3.00" height="4.11" fill="#fde3d4"/>
<rect x="523.42" y="176.70" width="3.00" height="4.11" fill="#ffffff"/>
<rect x="526.41" y="176.70" width="3.00" height="4.11" fill="#fde3d4"/>
<rect x="529.41" y="176.70" width="3.00" height="4.11" fill="#ffffff"/>
<rect x="532.41" y="176.70" width="3.00" height="4.11" fill="#fde3d4"/>
<rect x="535.41" y="176.70" width="6.00" height="4.11" fill="#ffffff"/>
<rect x="418.49" y="180.81" width="3.00" height="4.11" fill="#fde3d4"/>
<rect x="424.49" y="180.81" width="3.00" height="4.11" fill="#d6e8f3"/>
<rect x="427.49" y="180.81" width="3.00" height="4.11" fill="#ffffff"/>
<rect x="430.48" y="180.81" width="8.99" height="4.11" fill="#e3e3e3"/>
<rect x="439.48" y="180.81" width="11.99" height="4.11" fill="#ffffff"/>
<rect x="451.47" y="180.81" width="11.99" height="4.11" fill="#d6e8f3"/>
<rect x="463.46" y="180.81" width="3.00" height="4.11" fill="#ffffff"/>
<rect x="466.46" y="180.81" width="8.99" height="4.11" fill="#d6e8f3"/>
<rect x="475.45" y="180.81" width="3.00" height="4.11" fill="#ffffff"/>
<rect x="478.45" y="180.81" width="3.00" height="4.11" fill="#d6e8f3"/>
<rect x="481.45" y="180.81" width="3.00" height="4.11" fill="#ffffff"/>
<rect x="484.44" y="180.81" width="3.00" height="4.11" fill="#d6e8f3"/>
<rect x="487.44" y="180.81" width="11.99" height="4.11" fill="#ffffff"/>
<rect x="499.43" y="180.81" width="8.99" height="4.11" fill="#d6e8f3"/>
<rect x="508.43" y="180.81" width="11.99" height="4.11" fill="#ffffff"/>
<rect x="520.42" y="180.81" width="3.00" height="4.11" fill="#fde3d4"/>
<rect x="523.42" y="180.81" width="3.00" height="4.11" fill="#ffffff"/>
<rect x="526.41" y="180.81" width="3.00" height="4.11" fill="#fde3d4"/>
<rect x="529.41" y="180.81" width="3.00" height="4.11" fill="#ffffff"/>
<rect x="532.41" y="180.81" width="3.00" height="4.11" fill="#fde3d4"/>
<rect x="535.41" y="180.81" width="6.00" height="4.11" fill="#ffffff"/>
<rect x="418.49" y="184.92" width="3.00" height="4.11" fill="#fde3d4"/>
<rect x="424.49" y="184.92" width="3.00" height="4.11" fill="#d6e8f3"/>
<rect x="427.49" y="184.92" width="3.00" height="4.11" fill="#ffffff"/>
<rect x="439.48" y="184.92" width="11.99" height="4.11" fill="#ffffff"/>
<rect x="451.47" y="184.92" width="8.99" height="4.11" fill="#d6e8f3"/>
<rect x="460.46" y="184.92" width="3.00" height="4.11" fill="#ffffff"/>
<rect x="463.46" y="184.92" width="3.00" height="4.11" fill="#d6e8f3"/>
<rect x="466.46" y="184.92" width="3.00" height="4.11" fill="#ffffff"/>
<rect x="469.46" y="184.92" width="6.00" height="4.11" fill="#d6e8f3"/>
<rect x="475.45" y="184.92" width="26.98" height="4.11" fill="#ffffff"/>
<rect x="502.43" y="184.92" width="3.00" height="4.11" fill="#d6e8f3"/>
<rect x="505.43" y="184.92" width="14.99" height="4.11" fill="#ffffff"/>
<rect x="520.42" y="184.92" width="3.00" height="4.11" fill="#fde3d4"/>
<rect x="523.42" y="184.92" width="3.00" height="4.11" fill="#ffffff"/>
<rect x="526.41" y="184.92" width="3.00" height="4.11" fill="#fde3d4"/>
<rect x="529.41" y="184.92" width="11.99" height="4.11" fill="#ffffff"/>
<rect x="418.49" y="189.03" width="3.00" height="4.11" fill="#fde3d4"/>
<rect x="424.49" y="189.03" width="3.00" height="4.11" fill="#d6e8f3"/>
<rect x="427.49" y="189.03" width="3.00" height="4.11" fill="#ffffff"/>
<rect x="430.48" y="189.03" width="3.00" height="4.11" fill="#e3e3e3"/>
<rect x="433.48" y="189.03" width="3.00" height="4.11" fill="#fde3d4"/>
<rect x="436.48" y="189.03" width="3.00" height="4.11" fill="#e3e3e3"/>
<rect x="439.48" y="189.03" width="6.00" height="4.11" fill="#ffffff"/>
<rect x="445.47" y="189.03" width="3.00" height="4.11" fill="#d6e8f3"/>
<rect x="448.47" y="189.03" width="8.99" height="4.11" fill="#ffffff"/>
<rect x="457.46" y="189.03" width="8.99" height="4.11" fill="#d6e8f3"/>
<rect x="466.46" y="189.03" width="3.00" height="4.11" fill="#ffffff"/>
<rect x="469.46" y="189.03" width="8.99" height="4.11" fill="#d6e8f3"/>
<rect x="478.45" y="189.03" width="17.99" height="4.11" fill="#ffffff"/>
<rect x="496.44" y="189.03" width="3.00" height="4.11" fill="#d6e8f3"/>
<rect x="499.43" y="189.03" width="3.00" height="4.11" fill="#ffffff"/>
<rect x="502.43" y="189.03" width="3.00" height="4.11" fill="#d6e8f3"/>
<rect x="505.43" y="189.03" width="17.99" height="4.11" fill="#ffffff"/>
<rect x="523.42" y="189.03" width="3.00" height="4.11" fill="#fde3d4"/>
<rect x="526.41" y="189.03" width="8.99" height="4.11" fill="#ffffff"/>
<rect x="535.41" y="189.03" width="6.00" height="4.11" fill="#a9d0e6"/>
<rect x="418.49" y="193.14" width="3.00" height="4.11" fill="#fde3d4"/>
<rect x="424.49" y="193.14" width="3.00" height="4.11" fill="#d6e8f3"/>
<rect x="427.49" y="193.14" width="3.00" height="4.11" fill="#ffffff"/>
<rect x="430.48" y="193.14" width="3.00" height="4.11" fill="#e3e3e3"/>
<rect x="433.48" y="193.14" width="3.00" height="4.11" fill="#fde3d4"/>
<rect x="436.48" y="193.14" width="3.00" height="4.11" fill="#e3e3e3"/>
<rect x="439.48" y="193.14" width="6.00" height="4.11" fill="#ffffff"/>
<rect x="445.47" y="193.14" width="3.00" height="4.11" fill="#d6e8f3"/>
<rect x="448.47" y="193.14" width="11.99" height="4.11" fill="#ffffff"/>
<rect x="460.46" y="193.14" width="3.00" height="4.11" fill="#d6e8f3"/>
<rect x="463.46" y="193.14" width="3.00" height="4.11" fill="#a9d0e6"/>
<rect x="466.46" y="193.14" width="3.00" height="4.11" fill="#ffffff"/>
<rect x="469.46" y="193.14" width="3.00" height="4.11" fill="#d6e8f3"/>
<rect x="472.45" y="193.14" width="3.00" height="4.11" fill="#a9d0e6"/>
<rect x="475.45" y="193.14" width="3.00" height="4.11" fill="#d6e8f3"/>
<rect x="478.45" y="193.14" width="17.99" height="4.11" fill="#ffffff"/>
<rect x="496.44" y="193.14" width="3.00" height="4.11" fill="#d6e8f3"/>
<rect x="499.43" y="193.14" width="3.00" height="4.11" fill="#ffffff"/>
<rect x="502.43" y="193.14" width="3.00" height="4.11" fill="#d6e8f3"/>
<rect x="505.43" y="193.14" width="17.99" height="4.11" fill="#ffffff"/>
<rect x="523.42" y="193.14" width="3.00" height="4.11" fill="#fde3d4"/>
<rect x="526.41" y="193.14" width="8.99" height="4.11" fill="#ffffff"/>
<rect x="535.41" y="193.14" width="3.00" height="4.11" fill="#a9d0e6"/>
<rect x="538.41" y="193.14" width="3.00" height="4.11" fill="#ffffff"/>
<rect x="418.49" y="197.25" width="3.00" height="4.11" fill="#e3e3e3"/>
<rect x="424.49" y="197.25" width="3.00" height="4.11" fill="#d6e8f3"/>
<rect x="427.49" y="197.25" width="3.00" height="4.11" fill="#ffffff"/>
<rect x="430.48" y="197.25" width="3.00" height="4.11" fill="#e3e3e3"/>
<rect x="433.48" y="197.25" width="3.00" height="4.11" fill="#fde3d4"/>
<rect x="436.48" y="197.25" width="3.00" height="4.11" fill="#e3e3e3"/>
<rect x="439.48" y="197.25" width="20.99" height="4.11" fill="#ffffff"/>
<rect x="460.46" y="197.25" width="3.00" height="4.11" fill="#d6e8f3"/>
<rect x="463.46" y="197.25" width="3.00" height="4.11" fill="#a9d0e6"/>
<rect x="466.46" y="197.25" width="3.00" height="4.11" fill="#ffffff"/>
<rect x="469.46" y="197.25" width="3.00" height="4.11" fill="#d6e8f3"/>
<rect x="472.45" y="197.25" width="3.00" height="4.11" fill="#a9d0e6"/>
<rect x="475.45" y="197.25" width="3.00" height="4.11" fill="#d6e8f3"/>
<rect x="478.45" y="197.25" width="17.99" height="4.11" fill="#ffffff"/>
<rect x="496.44" y="197.25" width="3.00" height="4.11" fill="#d6e8f3"/>
<rect x="499.43" y="197.25" width="3.00" height="4.11" fill="#ffffff"/>
<rect x="502.43" y="197.25" width="3.00" height="4.11" fill="#d6e8f3"/>
<rect x="505.43" y="197.25" width="17.99" height="4.11" fill="#ffffff"/>
<rect x="523.42" y="197.25" width="3.00" height="4.11" fill="#fde3d4"/>
<rect x="526.41" y="197.25" width="11.99" height="4.11" fill="#ffffff"/>
<rect x="538.41" y="197.25" width="3.00" height="4.11" fill="#d6e8f3"/>
<rect x="418.49" y="201.36" width="3.00" height="4.11" fill="#e3e3e3"/>
<rect x="424.49" y="201.36" width="3.00" height="4.11" fill="#d6e8f3"/>
<rect x="427.49" y="201.36" width="3.00" height="4.11" fill="#ffffff"/>
<rect x="430.48" y="201.36" width="3.00" height="4.11" fill="#e3e3e3"/>
<rect x="433.48" y="201.36" width="3.00" height="4.11" fill="#fde3d4"/>
<rect x="436.48" y="201.36" width="3.00" height="4.11" fill="#e3e3e3"/>
<rect x="439.48" y="201.36" width="20.99" height="4.11" fill="#ffffff"/>
<rect x="460.46" y="201.36" width="3.00" height="4.11" fill="#d6e8f3"/>
<rect x="463.46" y="201.36" width="3.00" height="4.11" fill="#a9d0e6"/>
<rect x="466.46" y="201.36" width="3.00" height="4.11" fill="#ffffff"/>
<rect x="469.46" y="201.36" width="3.00" height="4.11" fill="#d6e8f3"/>
<rect x="472.45" y="201.36" width="3.00" height="4.11" fill="#a9d0e6"/>
<rect x="475.45" y="201.36" width="3.00" height="4.11" fill="#d6e8f3"/>
<rect x="478.45" y="201.36" width="17.99" height="4.11" fill="#ffffff"/>
<rect x="496.44" y="201.36" width="3.00" height="4.11" fill="#d6e8f3"/>
<rect x="499.43" y="201.36" width="3.00" height="4.11" fill="#ffffff"/>
<rect x="502.43" y="201.36" width="3.00" height="4.11" fill="#d6e8f3"/>
<rect x="505.43" y="201.36" width="17.99" height="4.11" fill="#ffffff"/>
<rect x="523.42" y="201.36" width="3.00" height="4.11" fill="#fde3d4"/>
<rect x="526.41" y="201.36" width="11.99" height="4.11" fill="#ffffff"/>
<rect x="538.41" y="201.36" width="3.00" height="4.11" fill="#d6e8f3"/>
<rect x="424.49" y="205.47" width="3.00" height="4.11" fill="#d6e8f3"/>
<rect x="427.49" y="205.47" width="6.00" height="4.11" fill="#ffffff"/>
<rect x="433.48" y="205.47" width="14.99" height="4.11" fill="#e3e3e3"/>
<rect x="448.47" y="205.47" width="6.00" height="4.11" fill="#ffffff"/>
<rect x="454.47" y="205.47" width="17.99" height="4.11" fill="#e3e3e3"/>
<rect x="478.45" y="205.47" width="14.99" height="4.11" fill="#ffffff"/>
<rect x="493.44" y="205.47" width="3.00" height="4.11" fill="#d6e8f3"/>
<rect x="496.44" y="205.47" width="6.00" height="4.11" fill="#ffffff"/>
<rect x="502.43" y="205.47" width="3.00" height="4.11" fill="#d6e8f3"/>
<rect x="505.43" y="205.47" width="17.99" height="4.11" fill="#ffffff"/>
<rect x="523.42" y="205.47" width="3.00" height="4.11" fill="#fde3d4"/>
<rect x="526.41" y="205.47" width="3.00" height="4.11" fill="#ffffff"/>
<rect x="424.49" y="209.58" width="3.00" height="4.11" fill="#d6e8f3"/>
<rect x="427.49" y="209.58" width="6.00" height="4.11" fill="#ffffff"/>
<rect x="433.48" y="209.58" width="14.99" height="4.11" fill="#e3e3e3"/>
<rect x="448.47" y="209.58" width="6.00" height="4.11" fill="#ffffff"/>
<rect x="454.47" y="209.58" width="17.99" height="4.11" fill="#e3e3e3"/>
<rect x="478.45" y="209.58" width="14.99" height="4.11" fill="#ffffff"/>
<rect x="493.44" y="209.58" width="3.00" height="4.11" fill="#d6e8f3"/>
<rect x="496.44" y="209.58" width="6.00" height="4.11" fill="#ffffff"/>
<rect x="502.43" y="209.58" width="3.00" height="4.11" fill="#d6e8f3"/>
<rect x="505.43" y="209.58" width="17.99" height="4.11" fill="#ffffff"/>
<rect x="523.42" y="209.58" width="3.00" height="4.11" fill="#fde3d4"/>
<rect x="526.41" y="209.58" width="3.00" height="4.11" fill="#ffffff"/>
<rect x="424.49" y="213.69" width="3.00" height="5.11" fill="#d6e8f3"/>
<rect x="427.49" y="213.69" width="6.00" height="5.11" fill="#ffffff"/>
<rect x="433.48" y="213.69" width="14.99" height="5.11" fill="#e3e3e3"/>
<rect x="448.47" y="213.69" width="6.00" height="5.11" fill="#ffffff"/>
<rect x="454.47" y="213.69" width="17.99" height="5.11" fill="#e3e3e3"/>
<rect x="478.45" y="213.69" width="14.99" height="5.11" fill="#ffffff"/>
<rect x="493.44" y="213.69" width="3.00" height="5.11" fill="#d6e8f3"/>
<rect x="496.44" y="213.69" width="6.00" height="5.11" fill="#ffffff"/>
<rect x="502.43" y="213.69" width="3.00" height="5.11" fill="#d6e8f3"/>
<rect x="505.43" y="213.69" width="17.99" height="5.11" fill="#ffffff"/>
<rect x="523.42" y="213.69" width="3.00" height="5.11" fill="#fde3d4"/>
<rect x="526.41" y="213.69" width="3.00" height="5.11" fill="#ffffff"/>
</g>
<path d="M430.9,136.5 L429,139 L429.7,142.7 L432.2,144 L434.6,146.5 L435.9,150.2 L437.1,153.9 L437.5,158" fill="none" stroke="#141414" stroke-width="0.85" stroke-linejoin="round"/>
<path d="M427.2,148.9 C427.2,147.5 432.2,147.5 432.2,148.9 C432.2,150.3 427.2,150.3 427.2,148.9 Z" fill="none" stroke="#141414" stroke-width="0.85" stroke-linejoin="round"/>
<path d="M429.7,150.2 L430.3,164 L430,172" fill="none" stroke="#141414" stroke-width="0.85" stroke-linejoin="round"/>
<path d="M424,137 C424,135.5 427,135.5 427,137 C427,138.5 424,138.5 424,137 Z" fill="none" stroke="#141414" stroke-width="0.85" stroke-linejoin="round"/>
<path d="M426,140.5 C426,139 428.5,139 428.5,140.5 C428.5,142 426,142 426,140.5 Z" fill="none" stroke="#141414" stroke-width="0.85" stroke-linejoin="round"/>
<path d="M445.8,146.5 L448.3,144 L450.8,146.5 L453.3,145.2 L455.8,147.7 L458.3,146.5 L460.8,149 L463.3,146.5 L466,145.2" fill="none" stroke="#141414" stroke-width="0.85" stroke-linejoin="round"/>
<path d="M447,152.7 L447.2,164" fill="none" stroke="#141414" stroke-width="0.85" stroke-linejoin="round"/>
<path d="M455.8,147.7 L457,164" fill="none" stroke="#141414" stroke-width="0.85" stroke-linejoin="round"/>
<path d="M449,137 L451,141 L453,143.5 L454,140 L455.5,137" fill="none" stroke="#141414" stroke-width="0.85" stroke-linejoin="round"/>
<path d="M460,146.5 L462.5,142.7 L465,139 L468.7,137.7 L472.5,139 L476.2,140.8 L480,142.7 L482.4,145.2 L483,150.2 L483.7,159" fill="none" stroke="#141414" stroke-width="0.85" stroke-linejoin="round"/>
<path d="M460,151.4 L465,152.7 L470,150.2 L475,149 L478.7,149.6 L481.2,147.7" fill="none" stroke="#141414" stroke-width="0.85" stroke-linejoin="round"/>
<path d="M493,136 L494,138 L497,137.5" fill="none" stroke="#141414" stroke-width="0.85" stroke-linejoin="round"/>
<path d="M509.8,141.5 L511.2,139 M511.2,139 L512.5,142.7 L513.7,145.2 L516.2,144 L518.7,146.5 L521.2,151.4 L523.7,152.7 L526.2,149 L528.6,145.2 L529.9,141.5 L531.1,139 L532,136.5" fill="none" stroke="#141414" stroke-width="0.85" stroke-linejoin="round"/>
<path d="M530,147.7 L529.3,152.7 L528,156.4 L527,160" fill="none" stroke="#141414" stroke-width="0.85" stroke-linejoin="round"/>
<path d="M526,158 C526,156.5 529,156.5 529,158 C529,159.5 526,159.5 526,158 Z" fill="none" stroke="#141414" stroke-width="0.85" stroke-linejoin="round"/>
<path d="M534,145 L533,150 L534.5,155 L536,160 L537,166" fill="none" stroke="#141414" stroke-width="0.85" stroke-linejoin="round"/>
<path d="M427,170 L427.5,180 L428,190 L428.5,200 L429,210 L429.5,217" fill="none" stroke="#141414" stroke-width="0.85" stroke-linejoin="round"/>
<path d="M426,208 C426,206.5 430,206.5 430,208 C430,209.5 426,209.5 426,208 Z" fill="none" stroke="#141414" stroke-width="0.85" stroke-linejoin="round"/>
<path d="M426,191 C426,189.5 430,189.5 430,191 C430,192.5 426,192.5 426,191 Z" fill="none" stroke="#141414" stroke-width="0.85" stroke-linejoin="round"/>
<path d="M433,172 L433.5,190 L434,205" fill="none" stroke="#141414" stroke-width="0.85" stroke-linejoin="round"/>
<path d="M436,178 C436,176.5 439,176.5 439,178 C439,179.5 436,179.5 436,178 Z" fill="none" stroke="#141414" stroke-width="0.85" stroke-linejoin="round"/>
<path d="M437,165 L437.5,175" fill="none" stroke="#141414" stroke-width="0.85" stroke-linejoin="round"/>
<path d="M448,205 L447,212 M458,208 L459,214" fill="none" stroke="#141414" stroke-width="0.85" stroke-linejoin="round"/>
<path d="M513,188 L513.5,198 L514,206" fill="none" stroke="#141414" stroke-width="0.85" stroke-linejoin="round"/>
<path d="M517,186 L516,195 L518,202 L517,210" fill="none" stroke="#141414" stroke-width="0.85" stroke-linejoin="round"/>
<path d="M521,184 L520,192 L522,198 L521,205 L522,214" fill="none" stroke="#141414" stroke-width="0.85" stroke-linejoin="round"/>
<path d="M525,178 L524,186 L525,192 L526,200 L525,210" fill="none" stroke="#141414" stroke-width="0.85" stroke-linejoin="round"/>
<path d="M520,193 C520,191.5 523,191.5 523,193 C523,194.5 520,194.5 520,193 Z" fill="none" stroke="#141414" stroke-width="0.85" stroke-linejoin="round"/>
<path d="M531,194 C531,192.5 534,192.5 534,194 C534,195.5 531,195.5 531,194 Z" fill="none" stroke="#141414" stroke-width="0.85" stroke-linejoin="round"/>
<path d="M533,188 L532.5,196 L533,204" fill="none" stroke="#141414" stroke-width="0.85" stroke-linejoin="round"/>
<path d="M528,200 C528,198.5 531,198.5 531,200 C531,201.5 528,201.5 528,200 Z" fill="none" stroke="#141414" stroke-width="0.85" stroke-linejoin="round"/>
<path d="M536,170 L535,178 L536,184 M538,176 L537.5,186" fill="none" stroke="#141414" stroke-width="0.85" stroke-linejoin="round"/>
<path d="M486,205 C486,203.5 489,203.5 489,205 C489,206.5 486,206.5 486,205 Z" fill="none" stroke="#141414" stroke-width="0.85" stroke-linejoin="round"/>
<path d="M488,208 C488,206.5 491,206.5 491,208 C491,209.5 488,209.5 488,208 Z" fill="none" stroke="#141414" stroke-width="0.85" stroke-linejoin="round"/>
<path d="M498,207 C498,205.5 501,205.5 501,207 C501,208.5 498,208.5 498,207 Z" fill="none" stroke="#141414" stroke-width="0.85" stroke-linejoin="round"/>
<path d="M502,205 C502,203.5 505,203.5 505,205 C505,206.5 502,206.5 502,205 Z" fill="none" stroke="#141414" stroke-width="0.85" stroke-linejoin="round"/>
<path d="M505,202 C505,200.5 508,200.5 508,202 C508,203.5 505,203.5 505,202 Z" fill="none" stroke="#141414" stroke-width="0.85" stroke-linejoin="round"/>
<path d="M510,200 C510,198.5 513,198.5 513,200 C513,201.5 510,201.5 510,200 Z" fill="none" stroke="#141414" stroke-width="0.85" stroke-linejoin="round"/>
<path d="M499,209 L499.5,216 M503,207 L503.5,215 M507,204 L507.5,212" fill="none" stroke="#141414" stroke-width="0.85" stroke-linejoin="round"/>
<path d="M490,200 L491,205 M496,200 L497,204" fill="none" stroke="#141414" stroke-width="0.85" stroke-linejoin="round"/>
<text x="455" y="149.5" font-size="5.5" fill="#1a1a1a">-0.2</text>
<text x="468" y="137.8" font-size="5.5" fill="#1a1a1a">-0.2</text>
<text transform="translate(403.3,139.50) scale(1,1.12)" font-size="7.8" text-anchor="end" fill="#333">0</text>
<text transform="translate(403.3,160.05) scale(1,1.12)" font-size="7.8" text-anchor="end" fill="#333">-500</text>
<text transform="translate(403.3,180.60) scale(1,1.12)" font-size="7.8" text-anchor="end" fill="#333">-1000</text>
<text transform="translate(403.3,201.15) scale(1,1.12)" font-size="7.8" text-anchor="end" fill="#333">-1500</text>
<text transform="translate(403.3,221.70) scale(1,1.12)" font-size="7.8" text-anchor="end" fill="#333">-2000</text>
<text transform="translate(437.81,229.70) scale(1,1.12)" font-size="7.8" text-anchor="middle" fill="#333">-50</text>
<text transform="translate(476.95,229.70) scale(1,1.12)" font-size="7.8" text-anchor="middle" fill="#333">0</text>
<text transform="translate(516.09,229.70) scale(1,1.12)" font-size="7.8" text-anchor="middle" fill="#333">50</text>
<text transform="translate(476.95,237.80) scale(1,1.12)" font-size="8" text-anchor="middle" fill="#333">Latitude [° N]</text>
<text transform="translate(379.90,176.70) rotate(-90) scale(1,1.12)" font-size="8" text-anchor="middle" fill="#333">Depth [m]</text>
<text transform="translate(476.95,129.50) scale(1,1.12)" font-size="8" font-weight="bold" text-anchor="middle" fill="#111" stroke="#111" stroke-width="0.2">OANT</text>
<text x="545.50" y="129.30" font-size="6.4" font-weight="bold" text-anchor="end" fill="#222" stroke="#222" stroke-width="0.25">(corr = -0.58)</text>
<text transform="translate(384.6,125.6) scale(1,1.12)" font-size="7.8" font-weight="bold" fill="#111">f</text>
<rect x="564.5" y="13.2" width="9.299999999999955" height="8.15" fill="#67001f"/>
<rect x="564.5" y="21.3" width="9.299999999999955" height="8.85" fill="#980027"/>
<rect x="564.5" y="30.1" width="9.299999999999955" height="9.15" fill="#ae062c"/>
<rect x="564.5" y="39.2" width="9.299999999999955" height="9.15" fill="#c0203a"/>
<rect x="564.5" y="48.3" width="9.299999999999955" height="8.75" fill="#cf3f47"/>
<rect x="564.5" y="57.0" width="9.299999999999955" height="9.25" fill="#da5d50"/>
<rect x="564.5" y="66.2" width="9.299999999999955" height="8.65" fill="#e47a62"/>
<rect x="564.5" y="74.8" width="9.299999999999955" height="8.95" fill="#ee977a"/>
<rect x="564.5" y="83.7" width="9.299999999999955" height="8.85" fill="#f6b196"/>
<rect x="564.5" y="92.5" width="9.299999999999955" height="9.05" fill="#fbcdb6"/>
<rect x="564.5" y="101.5" width="9.299999999999955" height="8.35" fill="#fde2d5"/>
<rect x="564.5" y="109.8" width="9.299999999999955" height="9.15" fill="#ffffff"/>
<rect x="564.5" y="118.9" width="9.299999999999955" height="9.05" fill="#a9d0e7"/>
<rect x="564.5" y="127.9" width="9.299999999999955" height="9.15" fill="#4f9bcd"/>
<rect x="564.5" y="137.0" width="9.299999999999955" height="8.05" fill="#2c6fae"/>
<rect x="564.5" y="145.0" width="9.299999999999955" height="8.65" fill="#0b3a6f"/>
<rect x="564.5" y="13.2" width="9.299999999999955" height="140.4" fill="none" stroke="#777" stroke-width="0.8"/>
<text transform="translate(577,20.10) scale(1,1.12)" font-size="7.4" fill="#333">1.2</text>
<line x1="573.8" x2="572.4" y1="17.5" y2="17.5" stroke="#555" stroke-width="0.5"/>
<text transform="translate(577,36.80) scale(1,1.12)" font-size="7.4" fill="#333">1</text>
<line x1="573.8" x2="572.4" y1="34.2" y2="34.2" stroke="#555" stroke-width="0.5"/>
<text transform="translate(577,53.10) scale(1,1.12)" font-size="7.4" fill="#333">0.8</text>
<line x1="573.8" x2="572.4" y1="50.5" y2="50.5" stroke="#555" stroke-width="0.5"/>
<text transform="translate(577,69.10) scale(1,1.12)" font-size="7.4" fill="#333">0.6</text>
<line x1="573.8" x2="572.4" y1="66.5" y2="66.5" stroke="#555" stroke-width="0.5"/>
<text transform="translate(577,85.20) scale(1,1.12)" font-size="7.4" fill="#333">0.4</text>
<line x1="573.8" x2="572.4" y1="82.6" y2="82.6" stroke="#555" stroke-width="0.5"/>
<text transform="translate(577,101.40) scale(1,1.12)" font-size="7.4" fill="#333">0.2</text>
<line x1="573.8" x2="572.4" y1="98.8" y2="98.8" stroke="#555" stroke-width="0.5"/>
<text transform="translate(577,117.10) scale(1,1.12)" font-size="7.4" fill="#333">0</text>
<line x1="573.8" x2="572.4" y1="114.5" y2="114.5" stroke="#555" stroke-width="0.5"/>
<text transform="translate(577,133.20) scale(1,1.12)" font-size="7.4" fill="#333">-0.2</text>
<line x1="573.8" x2="572.4" y1="130.6" y2="130.6" stroke="#555" stroke-width="0.5"/>
<text transform="translate(577,149.60) scale(1,1.12)" font-size="7.4" fill="#333">-0.4</text>
<line x1="573.8" x2="572.4" y1="147.0" y2="147.0" stroke="#555" stroke-width="0.5"/>
<text transform="translate(589.3,116.3) scale(1,1.12)" font-size="7.4" fill="#333">Δ T</text>
<text transform="translate(589.3,125.2) scale(1,1.12)" font-size="7" fill="#333" textLength="12.4" lengthAdjust="spacingAndGlyphs">[° C]</text>
</svg></body></html>
